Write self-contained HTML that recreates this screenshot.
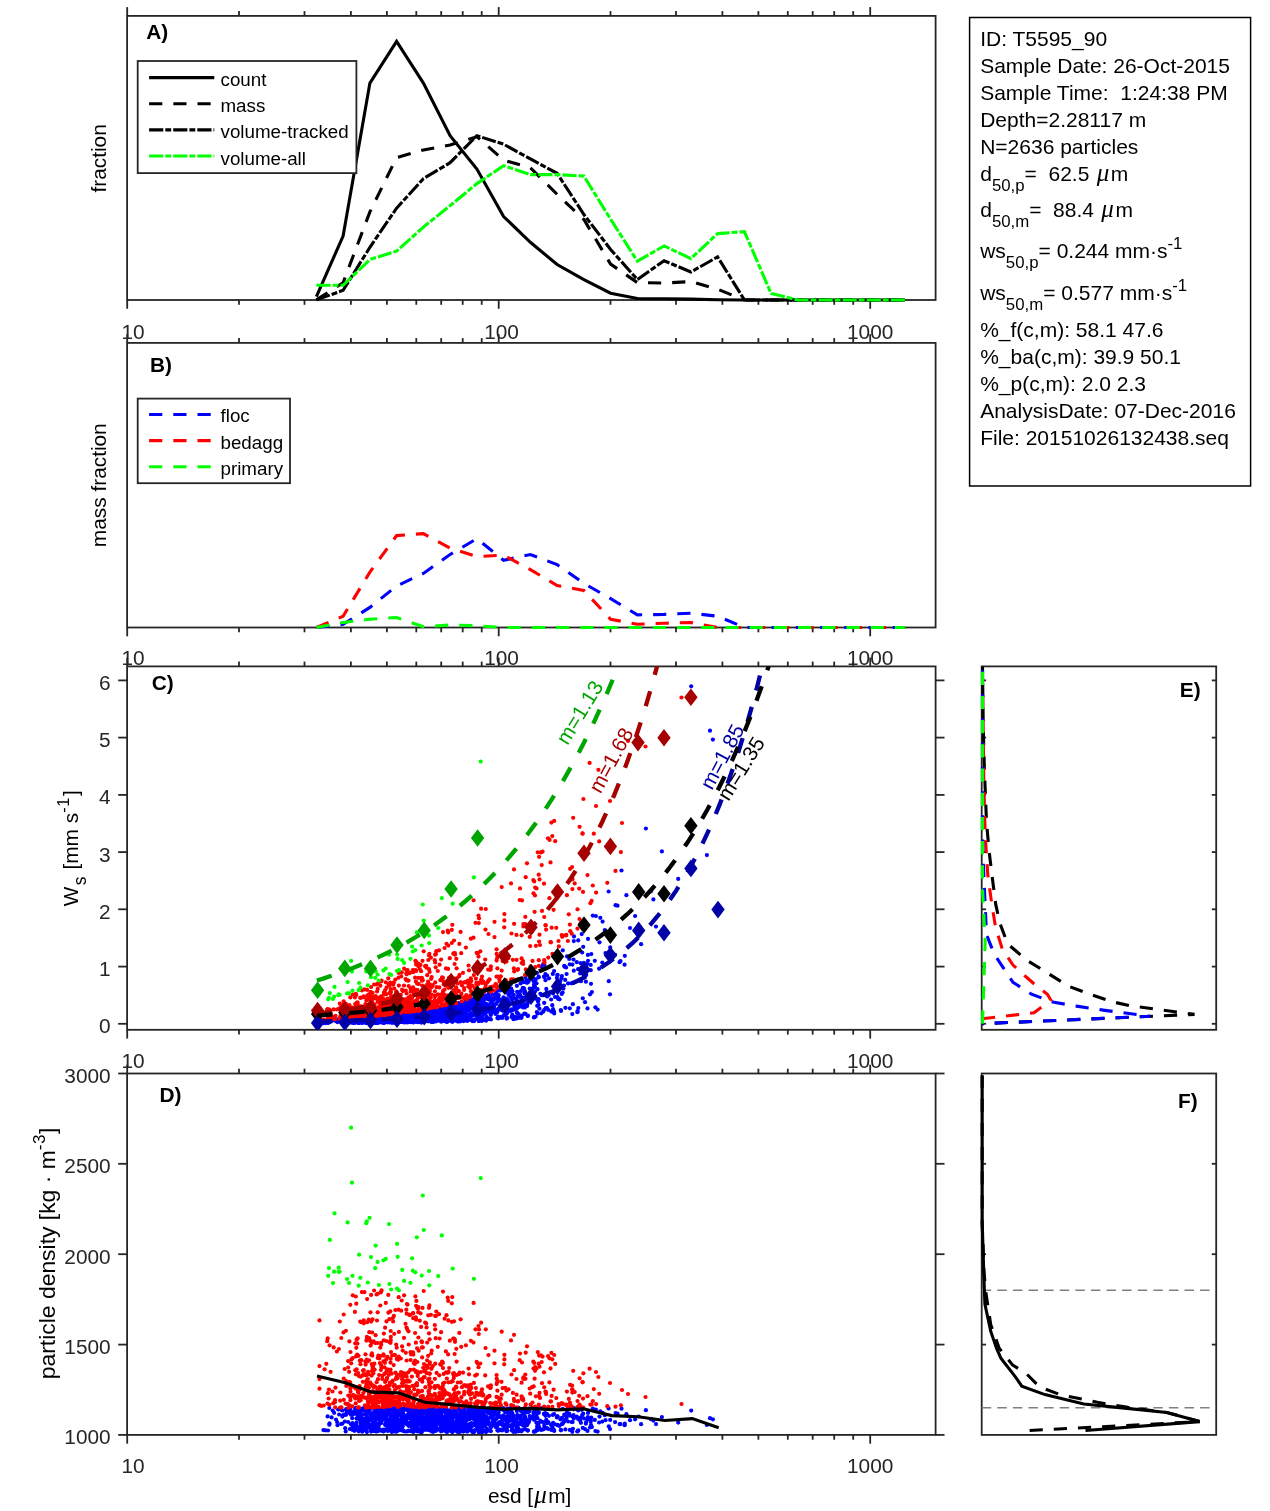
<!DOCTYPE html>
<html lang="en">
<head>
<meta charset="utf-8">
<title>Particle settling analysis T5595_90</title>
<style>
html,body{margin:0;padding:0;background:#fff;}
body{width:1270px;height:1511px;overflow:hidden;font-family:"Liberation Sans",sans-serif;}
svg{display:block;}
svg text{white-space:pre;}
</style>
</head>
<body>
<svg width="1270" height="1511" viewBox="0 0 1270 1511" font-family="'Liberation Sans', sans-serif">
<rect width="1270" height="1511" fill="#fff"/>
<defs>
<clipPath id="cA"><rect x="127.1" y="15.9" width="808.5" height="286.1"/></clipPath>
<clipPath id="cB"><rect x="127.1" y="342.9" width="808.5" height="286.6"/></clipPath>
<clipPath id="cC"><rect x="127.1" y="666.4" width="808.5" height="363.4"/></clipPath>
<clipPath id="cD"><rect x="127.1" y="1073.5" width="808.5" height="361.4"/></clipPath>
<clipPath id="cE"><rect x="979.7" y="666.4" width="236.5" height="363.4"/></clipPath>
<clipPath id="cF"><rect x="979.7" y="1073.5" width="236.5" height="361.4"/></clipPath>
</defs>
<g id="panelA">
<text x="133" y="339" font-size="20.83" text-anchor="middle" fill="#262626">10</text>
<text x="501.6" y="339" font-size="20.83" text-anchor="middle" fill="#262626">100</text>
<text x="870.2" y="339" font-size="20.83" text-anchor="middle" fill="#262626">1000</text>
<rect x="127.1" y="15.9" width="808.5" height="284.1" fill="white" stroke="#262626" stroke-width="1.8"/>
<line x1="127.2" y1="15.9" x2="127.2" y2="7.1" stroke="#262626" stroke-width="1.8"/>
<line x1="239" y1="15.9" x2="239" y2="11.1" stroke="#262626" stroke-width="1.8"/>
<line x1="304.5" y1="15.9" x2="304.5" y2="11.1" stroke="#262626" stroke-width="1.8"/>
<line x1="350.9" y1="15.9" x2="350.9" y2="11.1" stroke="#262626" stroke-width="1.8"/>
<line x1="386.9" y1="15.9" x2="386.9" y2="11.1" stroke="#262626" stroke-width="1.8"/>
<line x1="416.3" y1="15.9" x2="416.3" y2="11.1" stroke="#262626" stroke-width="1.8"/>
<line x1="441.2" y1="15.9" x2="441.2" y2="11.1" stroke="#262626" stroke-width="1.8"/>
<line x1="462.7" y1="15.9" x2="462.7" y2="11.1" stroke="#262626" stroke-width="1.8"/>
<line x1="481.7" y1="15.9" x2="481.7" y2="11.1" stroke="#262626" stroke-width="1.8"/>
<line x1="498.7" y1="15.9" x2="498.7" y2="7.1" stroke="#262626" stroke-width="1.8"/>
<line x1="610.5" y1="15.9" x2="610.5" y2="11.1" stroke="#262626" stroke-width="1.8"/>
<line x1="676" y1="15.9" x2="676" y2="11.1" stroke="#262626" stroke-width="1.8"/>
<line x1="722.4" y1="15.9" x2="722.4" y2="11.1" stroke="#262626" stroke-width="1.8"/>
<line x1="758.4" y1="15.9" x2="758.4" y2="11.1" stroke="#262626" stroke-width="1.8"/>
<line x1="787.8" y1="15.9" x2="787.8" y2="11.1" stroke="#262626" stroke-width="1.8"/>
<line x1="812.7" y1="15.9" x2="812.7" y2="11.1" stroke="#262626" stroke-width="1.8"/>
<line x1="834.2" y1="15.9" x2="834.2" y2="11.1" stroke="#262626" stroke-width="1.8"/>
<line x1="853.2" y1="15.9" x2="853.2" y2="11.1" stroke="#262626" stroke-width="1.8"/>
<line x1="870.2" y1="15.9" x2="870.2" y2="7.1" stroke="#262626" stroke-width="1.8"/>
<line x1="127.2" y1="300" x2="127.2" y2="308.8" stroke="#262626" stroke-width="1.8"/>
<line x1="239" y1="300" x2="239" y2="304.8" stroke="#262626" stroke-width="1.8"/>
<line x1="304.5" y1="300" x2="304.5" y2="304.8" stroke="#262626" stroke-width="1.8"/>
<line x1="350.9" y1="300" x2="350.9" y2="304.8" stroke="#262626" stroke-width="1.8"/>
<line x1="386.9" y1="300" x2="386.9" y2="304.8" stroke="#262626" stroke-width="1.8"/>
<line x1="416.3" y1="300" x2="416.3" y2="304.8" stroke="#262626" stroke-width="1.8"/>
<line x1="441.2" y1="300" x2="441.2" y2="304.8" stroke="#262626" stroke-width="1.8"/>
<line x1="462.7" y1="300" x2="462.7" y2="304.8" stroke="#262626" stroke-width="1.8"/>
<line x1="481.7" y1="300" x2="481.7" y2="304.8" stroke="#262626" stroke-width="1.8"/>
<line x1="498.7" y1="300" x2="498.7" y2="308.8" stroke="#262626" stroke-width="1.8"/>
<line x1="610.5" y1="300" x2="610.5" y2="304.8" stroke="#262626" stroke-width="1.8"/>
<line x1="676" y1="300" x2="676" y2="304.8" stroke="#262626" stroke-width="1.8"/>
<line x1="722.4" y1="300" x2="722.4" y2="304.8" stroke="#262626" stroke-width="1.8"/>
<line x1="758.4" y1="300" x2="758.4" y2="304.8" stroke="#262626" stroke-width="1.8"/>
<line x1="787.8" y1="300" x2="787.8" y2="304.8" stroke="#262626" stroke-width="1.8"/>
<line x1="812.7" y1="300" x2="812.7" y2="304.8" stroke="#262626" stroke-width="1.8"/>
<line x1="834.2" y1="300" x2="834.2" y2="304.8" stroke="#262626" stroke-width="1.8"/>
<line x1="853.2" y1="300" x2="853.2" y2="304.8" stroke="#262626" stroke-width="1.8"/>
<line x1="870.2" y1="300" x2="870.2" y2="308.8" stroke="#262626" stroke-width="1.8"/>
<g clip-path="url(#cA)">
<polyline points="316.4,296.6 343.1,236 369.9,83.1 396.6,41.4 423.4,83.1 450.1,135.7 476.9,169 503.6,216.5 530.4,242.3 557.1,264.5 583.9,279.6 610.6,293.2 637.4,298.5 664.1,298.7 690.9,299.1 717.6,299.7 744.4,300 771.1,300 797.9,300 824.6,300 851.4,300 878.1,300 904.9,300" fill="none" stroke="#000" stroke-width="3.1" stroke-linejoin="miter"/>
<polyline points="316.4,299.9 343.1,282.7 369.9,211.9 396.6,157.6 423.4,150 450.1,145 476.9,136.7 503.6,160.2 530.4,167.8 557.1,194.3 583.9,219.5 610.6,264.1 637.4,282.6 664.1,283.1 690.9,281.6 717.6,289.2 744.4,300 771.1,300 797.9,300 824.6,300 851.4,300 878.1,300 904.9,300" fill="none" stroke="#000" stroke-width="3.1" stroke-dasharray="13.2 11" stroke-linejoin="miter"/>
<polyline points="316.4,299.9 343.1,290.3 369.9,247.3 396.6,208.2 423.4,178.6 450.1,162.7 476.9,135.7 503.6,144.2 530.4,158.9 557.1,173.3 583.9,214.5 610.6,249.5 637.4,279.5 664.1,260.7 690.9,272 717.6,256.9 744.4,300 771.1,300 797.9,300 824.6,300 851.4,300 878.1,300 904.9,300" fill="none" stroke="#000" stroke-width="3.1" stroke-dasharray="14.2 2 5.9 2" stroke-linejoin="miter"/>
<polyline points="316.4,285.3 343.1,285.3 369.9,259.5 396.6,251.1 423.4,227.1 450.1,205.6 476.9,183.6 503.6,165.7 530.4,174.6 557.1,174.6 583.9,176.1 610.6,219.2 637.4,261.2 664.1,245.9 690.9,258.6 717.6,233.6 744.4,231.6 771.1,293.5 797.9,300 824.6,300 851.4,300 878.1,300 904.9,300" fill="none" stroke="#00ff00" stroke-width="3.1" stroke-dasharray="14.2 2 5.9 2" stroke-linejoin="miter"/>
</g>
<text x="146.3" y="39.2" font-size="20.83" text-anchor="start" fill="#000" font-weight="bold">A)</text>
<text x="106.1" y="158.4" font-size="20.83" text-anchor="middle" fill="#000" transform="rotate(-90 106.1 158.4)">fraction</text>
<rect x="137.7" y="61" width="218.7" height="112.1" fill="#fff" stroke="#262626" stroke-width="1.8"/>
<line x1="149.1" y1="77.6" x2="214.3" y2="77.6" stroke="#000" stroke-width="3.1"/>
<text x="220.5" y="86.1" font-size="18.75" text-anchor="start" fill="#000">count</text>
<line x1="149.1" y1="103.8" x2="214.3" y2="103.8" stroke="#000" stroke-width="3.1" stroke-dasharray="13.2 11"/>
<text x="220.5" y="112.2" font-size="18.75" text-anchor="start" fill="#000">mass</text>
<line x1="149.1" y1="129.9" x2="214.3" y2="129.9" stroke="#000" stroke-width="3.1" stroke-dasharray="14.2 2 5.9 2"/>
<text x="220.5" y="138.4" font-size="18.75" text-anchor="start" fill="#000">volume-tracked</text>
<line x1="149.1" y1="156" x2="214.3" y2="156" stroke="#00ff00" stroke-width="3.1" stroke-dasharray="14.2 2 5.9 2"/>
<text x="220.5" y="164.5" font-size="18.75" text-anchor="start" fill="#000">volume-all</text>
</g>
<g id="panelB">
<rect x="127.1" y="342.9" width="808.5" height="284.6" fill="none" stroke="#262626" stroke-width="1.8"/>
<line x1="127.2" y1="342.9" x2="127.2" y2="334.1" stroke="#262626" stroke-width="1.8"/>
<line x1="239" y1="342.9" x2="239" y2="338.1" stroke="#262626" stroke-width="1.8"/>
<line x1="304.5" y1="342.9" x2="304.5" y2="338.1" stroke="#262626" stroke-width="1.8"/>
<line x1="350.9" y1="342.9" x2="350.9" y2="338.1" stroke="#262626" stroke-width="1.8"/>
<line x1="386.9" y1="342.9" x2="386.9" y2="338.1" stroke="#262626" stroke-width="1.8"/>
<line x1="416.3" y1="342.9" x2="416.3" y2="338.1" stroke="#262626" stroke-width="1.8"/>
<line x1="441.2" y1="342.9" x2="441.2" y2="338.1" stroke="#262626" stroke-width="1.8"/>
<line x1="462.7" y1="342.9" x2="462.7" y2="338.1" stroke="#262626" stroke-width="1.8"/>
<line x1="481.7" y1="342.9" x2="481.7" y2="338.1" stroke="#262626" stroke-width="1.8"/>
<line x1="498.7" y1="342.9" x2="498.7" y2="334.1" stroke="#262626" stroke-width="1.8"/>
<line x1="610.5" y1="342.9" x2="610.5" y2="338.1" stroke="#262626" stroke-width="1.8"/>
<line x1="676" y1="342.9" x2="676" y2="338.1" stroke="#262626" stroke-width="1.8"/>
<line x1="722.4" y1="342.9" x2="722.4" y2="338.1" stroke="#262626" stroke-width="1.8"/>
<line x1="758.4" y1="342.9" x2="758.4" y2="338.1" stroke="#262626" stroke-width="1.8"/>
<line x1="787.8" y1="342.9" x2="787.8" y2="338.1" stroke="#262626" stroke-width="1.8"/>
<line x1="812.7" y1="342.9" x2="812.7" y2="338.1" stroke="#262626" stroke-width="1.8"/>
<line x1="834.2" y1="342.9" x2="834.2" y2="338.1" stroke="#262626" stroke-width="1.8"/>
<line x1="853.2" y1="342.9" x2="853.2" y2="338.1" stroke="#262626" stroke-width="1.8"/>
<line x1="870.2" y1="342.9" x2="870.2" y2="334.1" stroke="#262626" stroke-width="1.8"/>
<line x1="127.2" y1="627.5" x2="127.2" y2="636.3" stroke="#262626" stroke-width="1.8"/>
<line x1="239" y1="627.5" x2="239" y2="632.3" stroke="#262626" stroke-width="1.8"/>
<line x1="304.5" y1="627.5" x2="304.5" y2="632.3" stroke="#262626" stroke-width="1.8"/>
<line x1="350.9" y1="627.5" x2="350.9" y2="632.3" stroke="#262626" stroke-width="1.8"/>
<line x1="386.9" y1="627.5" x2="386.9" y2="632.3" stroke="#262626" stroke-width="1.8"/>
<line x1="416.3" y1="627.5" x2="416.3" y2="632.3" stroke="#262626" stroke-width="1.8"/>
<line x1="441.2" y1="627.5" x2="441.2" y2="632.3" stroke="#262626" stroke-width="1.8"/>
<line x1="462.7" y1="627.5" x2="462.7" y2="632.3" stroke="#262626" stroke-width="1.8"/>
<line x1="481.7" y1="627.5" x2="481.7" y2="632.3" stroke="#262626" stroke-width="1.8"/>
<line x1="498.7" y1="627.5" x2="498.7" y2="636.3" stroke="#262626" stroke-width="1.8"/>
<line x1="610.5" y1="627.5" x2="610.5" y2="632.3" stroke="#262626" stroke-width="1.8"/>
<line x1="676" y1="627.5" x2="676" y2="632.3" stroke="#262626" stroke-width="1.8"/>
<line x1="722.4" y1="627.5" x2="722.4" y2="632.3" stroke="#262626" stroke-width="1.8"/>
<line x1="758.4" y1="627.5" x2="758.4" y2="632.3" stroke="#262626" stroke-width="1.8"/>
<line x1="787.8" y1="627.5" x2="787.8" y2="632.3" stroke="#262626" stroke-width="1.8"/>
<line x1="812.7" y1="627.5" x2="812.7" y2="632.3" stroke="#262626" stroke-width="1.8"/>
<line x1="834.2" y1="627.5" x2="834.2" y2="632.3" stroke="#262626" stroke-width="1.8"/>
<line x1="853.2" y1="627.5" x2="853.2" y2="632.3" stroke="#262626" stroke-width="1.8"/>
<line x1="870.2" y1="627.5" x2="870.2" y2="636.3" stroke="#262626" stroke-width="1.8"/>
<text x="133" y="665.3" font-size="20.83" text-anchor="middle" fill="#262626">10</text>
<text x="501.6" y="665.3" font-size="20.83" text-anchor="middle" fill="#262626">100</text>
<text x="870.2" y="665.3" font-size="20.83" text-anchor="middle" fill="#262626">1000</text>
<g clip-path="url(#cB)">
<polyline points="316.4,627.5 343.1,624.3 369.9,607.4 396.6,586 423.4,573.4 450.1,554.5 476.9,538.6 503.6,560.3 530.4,554.5 557.1,564.6 583.9,583.4 610.6,598.6 637.4,614.9 664.1,614.4 690.9,613.2 717.6,616.2 744.4,627.5 771.1,627.5 797.9,627.5 824.6,627.5 851.4,627.5 878.1,627.5 904.9,627.5" fill="none" stroke="#0000ff" stroke-width="3.1" stroke-dasharray="13.2 11" stroke-linejoin="miter"/>
<polyline points="316.4,627.5 343.1,616.2 369.9,572.1 396.6,535.6 423.4,533.6 450.1,548.2 476.9,556.5 503.6,555.2 530.4,569.6 557.1,585.5 583.9,590.5 610.6,619.2 637.4,624.3 664.1,623.2 690.9,622.5 717.6,627.5 744.4,627.5 771.1,627.5 797.9,627.5 824.6,627.5 851.4,627.5 878.1,627.5 904.9,627.5" fill="none" stroke="#ff0000" stroke-width="3.1" stroke-dasharray="13.2 11" stroke-linejoin="miter"/>
<polyline points="316.4,627.5 343.1,622.5 369.9,619.2 396.6,617.5 423.4,626.8 450.1,625 476.9,625.8 503.6,627.5 530.4,627.5 557.1,627.5 583.9,627.5 610.6,627.5 637.4,627.5 664.1,627.5 690.9,627.5 717.6,627.5 744.4,627.5 771.1,627.5 797.9,627.5 824.6,627.5 851.4,627.5 878.1,627.5 904.9,627.5" fill="none" stroke="#00ff00" stroke-width="3.1" stroke-dasharray="13.2 11" stroke-linejoin="miter"/>
</g>
<text x="150" y="371.7" font-size="20.83" text-anchor="start" fill="#000" font-weight="bold">B)</text>
<text x="106.1" y="485.2" font-size="20.83" text-anchor="middle" fill="#000" transform="rotate(-90 106.1 485.2)">mass fraction</text>
<rect x="137.7" y="398.6" width="152.3" height="84.6" fill="#fff" stroke="#262626" stroke-width="1.8"/>
<line x1="149.1" y1="414.5" x2="214.3" y2="414.5" stroke="#0000ff" stroke-width="3.1" stroke-dasharray="13.2 11"/>
<text x="220.5" y="422.4" font-size="18.75" text-anchor="start" fill="#000">floc</text>
<line x1="149.1" y1="440.6" x2="214.3" y2="440.6" stroke="#ff0000" stroke-width="3.1" stroke-dasharray="13.2 11"/>
<text x="220.5" y="448.5" font-size="18.75" text-anchor="start" fill="#000">bedagg</text>
<line x1="149.1" y1="466.8" x2="214.3" y2="466.8" stroke="#00ff00" stroke-width="3.1" stroke-dasharray="13.2 11"/>
<text x="220.5" y="474.7" font-size="18.75" text-anchor="start" fill="#000">primary</text>
</g>
<g id="panelC">
<rect x="127.1" y="666.4" width="808.5" height="363.4" fill="none" stroke="#262626" stroke-width="1.8"/>
<line x1="127.2" y1="666.4" x2="127.2" y2="657.6" stroke="#262626" stroke-width="1.8"/>
<line x1="239" y1="666.4" x2="239" y2="661.6" stroke="#262626" stroke-width="1.8"/>
<line x1="304.5" y1="666.4" x2="304.5" y2="661.6" stroke="#262626" stroke-width="1.8"/>
<line x1="350.9" y1="666.4" x2="350.9" y2="661.6" stroke="#262626" stroke-width="1.8"/>
<line x1="386.9" y1="666.4" x2="386.9" y2="661.6" stroke="#262626" stroke-width="1.8"/>
<line x1="416.3" y1="666.4" x2="416.3" y2="661.6" stroke="#262626" stroke-width="1.8"/>
<line x1="441.2" y1="666.4" x2="441.2" y2="661.6" stroke="#262626" stroke-width="1.8"/>
<line x1="462.7" y1="666.4" x2="462.7" y2="661.6" stroke="#262626" stroke-width="1.8"/>
<line x1="481.7" y1="666.4" x2="481.7" y2="661.6" stroke="#262626" stroke-width="1.8"/>
<line x1="498.7" y1="666.4" x2="498.7" y2="657.6" stroke="#262626" stroke-width="1.8"/>
<line x1="610.5" y1="666.4" x2="610.5" y2="661.6" stroke="#262626" stroke-width="1.8"/>
<line x1="676" y1="666.4" x2="676" y2="661.6" stroke="#262626" stroke-width="1.8"/>
<line x1="722.4" y1="666.4" x2="722.4" y2="661.6" stroke="#262626" stroke-width="1.8"/>
<line x1="758.4" y1="666.4" x2="758.4" y2="661.6" stroke="#262626" stroke-width="1.8"/>
<line x1="787.8" y1="666.4" x2="787.8" y2="661.6" stroke="#262626" stroke-width="1.8"/>
<line x1="812.7" y1="666.4" x2="812.7" y2="661.6" stroke="#262626" stroke-width="1.8"/>
<line x1="834.2" y1="666.4" x2="834.2" y2="661.6" stroke="#262626" stroke-width="1.8"/>
<line x1="853.2" y1="666.4" x2="853.2" y2="661.6" stroke="#262626" stroke-width="1.8"/>
<line x1="870.2" y1="666.4" x2="870.2" y2="657.6" stroke="#262626" stroke-width="1.8"/>
<line x1="127.2" y1="1029.8" x2="127.2" y2="1038.6" stroke="#262626" stroke-width="1.8"/>
<line x1="239" y1="1029.8" x2="239" y2="1034.6" stroke="#262626" stroke-width="1.8"/>
<line x1="304.5" y1="1029.8" x2="304.5" y2="1034.6" stroke="#262626" stroke-width="1.8"/>
<line x1="350.9" y1="1029.8" x2="350.9" y2="1034.6" stroke="#262626" stroke-width="1.8"/>
<line x1="386.9" y1="1029.8" x2="386.9" y2="1034.6" stroke="#262626" stroke-width="1.8"/>
<line x1="416.3" y1="1029.8" x2="416.3" y2="1034.6" stroke="#262626" stroke-width="1.8"/>
<line x1="441.2" y1="1029.8" x2="441.2" y2="1034.6" stroke="#262626" stroke-width="1.8"/>
<line x1="462.7" y1="1029.8" x2="462.7" y2="1034.6" stroke="#262626" stroke-width="1.8"/>
<line x1="481.7" y1="1029.8" x2="481.7" y2="1034.6" stroke="#262626" stroke-width="1.8"/>
<line x1="498.7" y1="1029.8" x2="498.7" y2="1038.6" stroke="#262626" stroke-width="1.8"/>
<line x1="610.5" y1="1029.8" x2="610.5" y2="1034.6" stroke="#262626" stroke-width="1.8"/>
<line x1="676" y1="1029.8" x2="676" y2="1034.6" stroke="#262626" stroke-width="1.8"/>
<line x1="722.4" y1="1029.8" x2="722.4" y2="1034.6" stroke="#262626" stroke-width="1.8"/>
<line x1="758.4" y1="1029.8" x2="758.4" y2="1034.6" stroke="#262626" stroke-width="1.8"/>
<line x1="787.8" y1="1029.8" x2="787.8" y2="1034.6" stroke="#262626" stroke-width="1.8"/>
<line x1="812.7" y1="1029.8" x2="812.7" y2="1034.6" stroke="#262626" stroke-width="1.8"/>
<line x1="834.2" y1="1029.8" x2="834.2" y2="1034.6" stroke="#262626" stroke-width="1.8"/>
<line x1="853.2" y1="1029.8" x2="853.2" y2="1034.6" stroke="#262626" stroke-width="1.8"/>
<line x1="870.2" y1="1029.8" x2="870.2" y2="1038.6" stroke="#262626" stroke-width="1.8"/>
<text x="133" y="1067.6" font-size="20.83" text-anchor="middle" fill="#262626">10</text>
<text x="501.6" y="1067.6" font-size="20.83" text-anchor="middle" fill="#262626">100</text>
<text x="870.2" y="1067.6" font-size="20.83" text-anchor="middle" fill="#262626">1000</text>
<line x1="127.1" y1="1023.8" x2="118.2" y2="1023.8" stroke="#262626" stroke-width="1.8"/>
<line x1="935.6" y1="1023.8" x2="944.5" y2="1023.8" stroke="#262626" stroke-width="1.8"/>
<text x="110.7" y="1033.3" font-size="20.83" text-anchor="end" fill="#262626">0</text>
<line x1="127.1" y1="966.6" x2="118.2" y2="966.6" stroke="#262626" stroke-width="1.8"/>
<line x1="935.6" y1="966.6" x2="944.5" y2="966.6" stroke="#262626" stroke-width="1.8"/>
<text x="110.7" y="976.1" font-size="20.83" text-anchor="end" fill="#262626">1</text>
<line x1="127.1" y1="909.3" x2="118.2" y2="909.3" stroke="#262626" stroke-width="1.8"/>
<line x1="935.6" y1="909.3" x2="944.5" y2="909.3" stroke="#262626" stroke-width="1.8"/>
<text x="110.7" y="918.8" font-size="20.83" text-anchor="end" fill="#262626">2</text>
<line x1="127.1" y1="852.1" x2="118.2" y2="852.1" stroke="#262626" stroke-width="1.8"/>
<line x1="935.6" y1="852.1" x2="944.5" y2="852.1" stroke="#262626" stroke-width="1.8"/>
<text x="110.7" y="861.6" font-size="20.83" text-anchor="end" fill="#262626">3</text>
<line x1="127.1" y1="794.9" x2="118.2" y2="794.9" stroke="#262626" stroke-width="1.8"/>
<line x1="935.6" y1="794.9" x2="944.5" y2="794.9" stroke="#262626" stroke-width="1.8"/>
<text x="110.7" y="804.4" font-size="20.83" text-anchor="end" fill="#262626">4</text>
<line x1="127.1" y1="737.6" x2="118.2" y2="737.6" stroke="#262626" stroke-width="1.8"/>
<line x1="935.6" y1="737.6" x2="944.5" y2="737.6" stroke="#262626" stroke-width="1.8"/>
<text x="110.7" y="747.1" font-size="20.83" text-anchor="end" fill="#262626">5</text>
<line x1="127.1" y1="680.4" x2="118.2" y2="680.4" stroke="#262626" stroke-width="1.8"/>
<line x1="935.6" y1="680.4" x2="944.5" y2="680.4" stroke="#262626" stroke-width="1.8"/>
<text x="110.7" y="689.9" font-size="20.83" text-anchor="end" fill="#262626">6</text>
<g clip-path="url(#cC)">
<g fill="#0000ff">
<circle cx="354.6" cy="1018.7" r="2.1"/><circle cx="388.7" cy="1021.5" r="2.1"/><circle cx="544.2" cy="1002.9" r="2.1"/><circle cx="461.6" cy="1006.2" r="2.1"/><circle cx="383.3" cy="1022.6" r="2.1"/><circle cx="420.4" cy="1021.3" r="2.1"/><circle cx="393.7" cy="1022" r="2.1"/><circle cx="452.3" cy="1021.8" r="2.1"/><circle cx="438.1" cy="1012.1" r="2.1"/><circle cx="430.9" cy="1018.5" r="2.1"/><circle cx="433.3" cy="1017.3" r="2.1"/><circle cx="413.2" cy="1021.2" r="2.1"/><circle cx="505.4" cy="1003" r="2.1"/><circle cx="529.6" cy="979.3" r="2.1"/><circle cx="371.1" cy="1022.9" r="2.1"/><circle cx="422.8" cy="1021" r="2.1"/><circle cx="352.2" cy="1019.6" r="2.1"/><circle cx="438.6" cy="1015.8" r="2.1"/><circle cx="367.8" cy="1020.8" r="2.1"/><circle cx="529.7" cy="988.6" r="2.1"/><circle cx="407.4" cy="1018.8" r="2.1"/><circle cx="346.1" cy="1018.9" r="2.1"/><circle cx="391" cy="1018.6" r="2.1"/><circle cx="483.4" cy="1012.5" r="2.1"/><circle cx="401" cy="1013.8" r="2.1"/><circle cx="336" cy="1021.2" r="2.1"/><circle cx="372.2" cy="1021.5" r="2.1"/><circle cx="656" cy="926.6" r="2.1"/><circle cx="395" cy="1015.6" r="2.1"/><circle cx="365.6" cy="1020.1" r="2.1"/><circle cx="370.7" cy="1021.4" r="2.1"/><circle cx="485.4" cy="1010" r="2.1"/><circle cx="479.6" cy="998.3" r="2.1"/><circle cx="359.4" cy="1020" r="2.1"/><circle cx="359.6" cy="1019.5" r="2.1"/><circle cx="441.9" cy="1016.4" r="2.1"/><circle cx="538" cy="1001.5" r="2.1"/><circle cx="351.9" cy="1022.7" r="2.1"/><circle cx="503.5" cy="997.4" r="2.1"/><circle cx="352.4" cy="1022.2" r="2.1"/><circle cx="387.8" cy="1019" r="2.1"/><circle cx="391" cy="1017.2" r="2.1"/><circle cx="423.5" cy="1015.8" r="2.1"/><circle cx="492.6" cy="1011.8" r="2.1"/><circle cx="393.6" cy="1015" r="2.1"/><circle cx="394.2" cy="1016.8" r="2.1"/><circle cx="391.4" cy="1019.2" r="2.1"/><circle cx="599.5" cy="942.3" r="2.1"/><circle cx="554.1" cy="971" r="2.1"/><circle cx="382.9" cy="1017.6" r="2.1"/><circle cx="425.8" cy="1014.6" r="2.1"/><circle cx="411.1" cy="1017.1" r="2.1"/><circle cx="428.9" cy="1010" r="2.1"/><circle cx="496.3" cy="1004" r="2.1"/><circle cx="434.5" cy="1018.2" r="2.1"/><circle cx="456.5" cy="1013.1" r="2.1"/><circle cx="481.7" cy="1011.4" r="2.1"/><circle cx="494.1" cy="1008.9" r="2.1"/><circle cx="447.9" cy="1016.9" r="2.1"/><circle cx="482.6" cy="997.9" r="2.1"/><circle cx="538.7" cy="999.2" r="2.1"/><circle cx="496.8" cy="1010.4" r="2.1"/><circle cx="345.7" cy="1023.1" r="2.1"/><circle cx="412.5" cy="1016.9" r="2.1"/><circle cx="366.6" cy="1019.6" r="2.1"/><circle cx="706.9" cy="855.1" r="2.1"/><circle cx="370.5" cy="1022.3" r="2.1"/><circle cx="405.8" cy="1018.2" r="2.1"/><circle cx="390" cy="1015.7" r="2.1"/><circle cx="450.8" cy="1014.3" r="2.1"/><circle cx="422.5" cy="1011.5" r="2.1"/><circle cx="383.7" cy="1018.8" r="2.1"/><circle cx="436.3" cy="1016.2" r="2.1"/><circle cx="332.7" cy="1019.8" r="2.1"/><circle cx="426.1" cy="1015.6" r="2.1"/><circle cx="463.6" cy="1015.5" r="2.1"/><circle cx="413.2" cy="1017.7" r="2.1"/><circle cx="352.5" cy="1021.3" r="2.1"/><circle cx="389" cy="1020.1" r="2.1"/><circle cx="508.3" cy="986.1" r="2.1"/><circle cx="448.4" cy="1012" r="2.1"/><circle cx="513.7" cy="1017" r="2.1"/><circle cx="490.9" cy="1015" r="2.1"/><circle cx="373" cy="1022" r="2.1"/><circle cx="499.3" cy="1007.7" r="2.1"/><circle cx="464" cy="1006" r="2.1"/><circle cx="356.5" cy="1021.1" r="2.1"/><circle cx="353.8" cy="1022.1" r="2.1"/><circle cx="490.9" cy="1019.4" r="2.1"/><circle cx="497.2" cy="995.4" r="2.1"/><circle cx="487.7" cy="1007.4" r="2.1"/><circle cx="468.5" cy="1019.8" r="2.1"/><circle cx="416.7" cy="1015.4" r="2.1"/><circle cx="424.7" cy="1011.2" r="2.1"/><circle cx="392.6" cy="1016.4" r="2.1"/><circle cx="453.2" cy="1005.5" r="2.1"/><circle cx="397" cy="1021.1" r="2.1"/><circle cx="513.7" cy="994.8" r="2.1"/><circle cx="436.9" cy="1017.1" r="2.1"/><circle cx="420.1" cy="1018" r="2.1"/><circle cx="436" cy="1019.1" r="2.1"/><circle cx="378.3" cy="1022.2" r="2.1"/><circle cx="602.6" cy="921.6" r="2.1"/><circle cx="369.8" cy="1020" r="2.1"/><circle cx="355.3" cy="1018" r="2.1"/><circle cx="536.4" cy="998.9" r="2.1"/><circle cx="478" cy="997.3" r="2.1"/><circle cx="401.1" cy="1014.2" r="2.1"/><circle cx="486.4" cy="1005.8" r="2.1"/><circle cx="408.6" cy="1022.1" r="2.1"/><circle cx="367.5" cy="1019.9" r="2.1"/><circle cx="523" cy="1007.4" r="2.1"/><circle cx="483.1" cy="998.7" r="2.1"/><circle cx="458.6" cy="1014.2" r="2.1"/><circle cx="475.7" cy="1013.2" r="2.1"/><circle cx="426.8" cy="1010.1" r="2.1"/><circle cx="454.6" cy="1010.2" r="2.1"/><circle cx="372.8" cy="1020.4" r="2.1"/><circle cx="430.3" cy="1011.4" r="2.1"/><circle cx="498.1" cy="989.7" r="2.1"/><circle cx="468.7" cy="1002.8" r="2.1"/><circle cx="497.4" cy="1018" r="2.1"/><circle cx="433.2" cy="1010.6" r="2.1"/><circle cx="535" cy="991.4" r="2.1"/><circle cx="428.3" cy="1015.6" r="2.1"/><circle cx="436.8" cy="1010.1" r="2.1"/><circle cx="523.4" cy="988" r="2.1"/><circle cx="367.9" cy="1018.3" r="2.1"/><circle cx="435.3" cy="1019.2" r="2.1"/><circle cx="415.3" cy="1015.4" r="2.1"/><circle cx="384.3" cy="1022.3" r="2.1"/><circle cx="410.1" cy="1019" r="2.1"/><circle cx="415.3" cy="1014.8" r="2.1"/><circle cx="620.5" cy="961.1" r="2.1"/><circle cx="409.1" cy="1015.4" r="2.1"/><circle cx="360.2" cy="1019.9" r="2.1"/><circle cx="429.5" cy="1018.9" r="2.1"/><circle cx="475.6" cy="999.5" r="2.1"/><circle cx="404.6" cy="1013.1" r="2.1"/><circle cx="396.7" cy="1016.8" r="2.1"/><circle cx="537.2" cy="1005.8" r="2.1"/><circle cx="454.4" cy="1015.6" r="2.1"/><circle cx="413.3" cy="1021.5" r="2.1"/><circle cx="479.7" cy="1020.8" r="2.1"/><circle cx="586.2" cy="975.1" r="2.1"/><circle cx="383.3" cy="1015.9" r="2.1"/><circle cx="384.3" cy="1015.9" r="2.1"/><circle cx="418.7" cy="1021.7" r="2.1"/><circle cx="376.2" cy="1019.3" r="2.1"/><circle cx="524.8" cy="997.7" r="2.1"/><circle cx="424.8" cy="1010.1" r="2.1"/><circle cx="398.4" cy="1018.3" r="2.1"/><circle cx="371.6" cy="1018.1" r="2.1"/><circle cx="457.3" cy="1020.5" r="2.1"/><circle cx="507.6" cy="999" r="2.1"/><circle cx="532.7" cy="988.3" r="2.1"/><circle cx="415.4" cy="1015.8" r="2.1"/><circle cx="520.6" cy="1001.5" r="2.1"/><circle cx="451.1" cy="1020.8" r="2.1"/><circle cx="461" cy="1002.8" r="2.1"/><circle cx="392.8" cy="1015" r="2.1"/><circle cx="395.2" cy="1019.7" r="2.1"/><circle cx="475.6" cy="1011.2" r="2.1"/><circle cx="416.8" cy="1018.3" r="2.1"/><circle cx="481.4" cy="1020.7" r="2.1"/><circle cx="436.5" cy="1009.5" r="2.1"/><circle cx="583.9" cy="962.8" r="2.1"/><circle cx="389.8" cy="1022.2" r="2.1"/><circle cx="561.7" cy="993.9" r="2.1"/><circle cx="427.2" cy="1018.2" r="2.1"/><circle cx="390.1" cy="1015.3" r="2.1"/><circle cx="461.8" cy="1015.6" r="2.1"/><circle cx="415.2" cy="1017.9" r="2.1"/><circle cx="492.1" cy="1011.6" r="2.1"/><circle cx="413.2" cy="1022.5" r="2.1"/><circle cx="427.3" cy="1013.8" r="2.1"/><circle cx="417.7" cy="1014.4" r="2.1"/><circle cx="338.2" cy="1019.4" r="2.1"/><circle cx="486.9" cy="997.3" r="2.1"/><circle cx="405.7" cy="1017.8" r="2.1"/><circle cx="410.9" cy="1018.5" r="2.1"/><circle cx="432.9" cy="1012" r="2.1"/><circle cx="410" cy="1019.8" r="2.1"/><circle cx="446.1" cy="1009.5" r="2.1"/><circle cx="552.3" cy="1005.2" r="2.1"/><circle cx="479" cy="1012.3" r="2.1"/><circle cx="469.5" cy="1005.9" r="2.1"/><circle cx="419.9" cy="1022.2" r="2.1"/><circle cx="378.8" cy="1021.9" r="2.1"/><circle cx="394" cy="1020.2" r="2.1"/><circle cx="452.9" cy="1009.6" r="2.1"/><circle cx="516.9" cy="1008.4" r="2.1"/><circle cx="392.6" cy="1021.9" r="2.1"/><circle cx="455.8" cy="1009.3" r="2.1"/><circle cx="376.4" cy="1017.1" r="2.1"/><circle cx="393.7" cy="1018.8" r="2.1"/><circle cx="461.5" cy="1017" r="2.1"/><circle cx="396.7" cy="1019.4" r="2.1"/><circle cx="452" cy="1020.4" r="2.1"/><circle cx="397.2" cy="1020.8" r="2.1"/><circle cx="511.2" cy="988.7" r="2.1"/><circle cx="462.9" cy="1011.1" r="2.1"/><circle cx="511.7" cy="1016.9" r="2.1"/><circle cx="524.8" cy="993.3" r="2.1"/><circle cx="405.8" cy="1018.6" r="2.1"/><circle cx="481.5" cy="1008.3" r="2.1"/><circle cx="414.9" cy="1012.5" r="2.1"/><circle cx="458" cy="1007.6" r="2.1"/><circle cx="396.9" cy="1020.6" r="2.1"/><circle cx="482" cy="1000.7" r="2.1"/><circle cx="461.5" cy="1010.8" r="2.1"/><circle cx="414.3" cy="1017.9" r="2.1"/><circle cx="323.4" cy="1023.1" r="2.1"/><circle cx="412.7" cy="1017.6" r="2.1"/><circle cx="347" cy="1019.6" r="2.1"/><circle cx="506.5" cy="1018.6" r="2.1"/><circle cx="572.4" cy="964.6" r="2.1"/><circle cx="410.9" cy="1013.1" r="2.1"/><circle cx="429.6" cy="1014.7" r="2.1"/><circle cx="400.9" cy="1013.7" r="2.1"/><circle cx="386.2" cy="1018" r="2.1"/><circle cx="374.9" cy="1017.2" r="2.1"/><circle cx="524.9" cy="1007.4" r="2.1"/><circle cx="386.3" cy="1016.2" r="2.1"/><circle cx="541.3" cy="966.5" r="2.1"/><circle cx="404.8" cy="1018.4" r="2.1"/><circle cx="463.7" cy="1015.5" r="2.1"/><circle cx="441.5" cy="1009.1" r="2.1"/><circle cx="370.1" cy="1021.8" r="2.1"/><circle cx="375.6" cy="1019.8" r="2.1"/><circle cx="463.3" cy="1004.5" r="2.1"/><circle cx="425.2" cy="1012.2" r="2.1"/><circle cx="357.7" cy="1019.3" r="2.1"/><circle cx="541.8" cy="995.2" r="2.1"/><circle cx="476.9" cy="1009.1" r="2.1"/><circle cx="451.5" cy="1017.3" r="2.1"/><circle cx="410.9" cy="1019.4" r="2.1"/><circle cx="470.5" cy="1000.8" r="2.1"/><circle cx="402" cy="1015.9" r="2.1"/><circle cx="473.6" cy="1003.7" r="2.1"/><circle cx="545.5" cy="980.2" r="2.1"/><circle cx="526.3" cy="1005.3" r="2.1"/><circle cx="390.6" cy="1019.1" r="2.1"/><circle cx="554" cy="1011.6" r="2.1"/><circle cx="380.6" cy="1017.4" r="2.1"/><circle cx="493.7" cy="1006.4" r="2.1"/><circle cx="519.1" cy="1006.9" r="2.1"/><circle cx="367.6" cy="1018" r="2.1"/><circle cx="453.6" cy="1009.9" r="2.1"/><circle cx="462.6" cy="1007.4" r="2.1"/><circle cx="362.2" cy="1023" r="2.1"/><circle cx="428.4" cy="1017.7" r="2.1"/><circle cx="572.3" cy="1014.1" r="2.1"/><circle cx="416.5" cy="1017.7" r="2.1"/><circle cx="442.4" cy="1014.3" r="2.1"/><circle cx="433.4" cy="1012.9" r="2.1"/><circle cx="390.1" cy="1018.9" r="2.1"/><circle cx="441.4" cy="1010.5" r="2.1"/><circle cx="401.8" cy="1019.5" r="2.1"/><circle cx="430.9" cy="1021.4" r="2.1"/><circle cx="395.9" cy="1015.8" r="2.1"/><circle cx="394.9" cy="1020.6" r="2.1"/><circle cx="386.4" cy="1020.4" r="2.1"/><circle cx="513.5" cy="1019.2" r="2.1"/><circle cx="465.8" cy="1000.9" r="2.1"/><circle cx="554.2" cy="1013.5" r="2.1"/><circle cx="484.7" cy="1019.3" r="2.1"/><circle cx="485.8" cy="995.5" r="2.1"/><circle cx="418.3" cy="1012.9" r="2.1"/><circle cx="452.3" cy="1013.1" r="2.1"/><circle cx="396.5" cy="1022.6" r="2.1"/><circle cx="434.6" cy="1018" r="2.1"/><circle cx="514.3" cy="1006.9" r="2.1"/><circle cx="624.6" cy="964.7" r="2.1"/><circle cx="521.9" cy="1015.5" r="2.1"/><circle cx="378.5" cy="1018.4" r="2.1"/><circle cx="399.9" cy="1015.5" r="2.1"/><circle cx="339.1" cy="1020.2" r="2.1"/><circle cx="559.5" cy="999.3" r="2.1"/><circle cx="447.6" cy="1013.5" r="2.1"/><circle cx="463.1" cy="1008.8" r="2.1"/><circle cx="489.1" cy="997.7" r="2.1"/><circle cx="410.9" cy="1022.2" r="2.1"/><circle cx="445.9" cy="1018.7" r="2.1"/><circle cx="358.8" cy="1023" r="2.1"/><circle cx="384.6" cy="1022.4" r="2.1"/><circle cx="380" cy="1020.1" r="2.1"/><circle cx="465.5" cy="1012.6" r="2.1"/><circle cx="504.4" cy="1010.4" r="2.1"/><circle cx="346" cy="1019.9" r="2.1"/><circle cx="454" cy="1009.3" r="2.1"/><circle cx="475.4" cy="1004.7" r="2.1"/><circle cx="595.9" cy="916" r="2.1"/><circle cx="547.1" cy="996.4" r="2.1"/><circle cx="409.6" cy="1013.5" r="2.1"/><circle cx="424.7" cy="1019.1" r="2.1"/><circle cx="512.7" cy="1010.1" r="2.1"/><circle cx="348.1" cy="1018.7" r="2.1"/><circle cx="588" cy="938.9" r="2.1"/><circle cx="430.2" cy="1018.5" r="2.1"/><circle cx="498.2" cy="1018.4" r="2.1"/><circle cx="523.1" cy="997.7" r="2.1"/><circle cx="393.7" cy="1016.6" r="2.1"/><circle cx="597.6" cy="1009.6" r="2.1"/><circle cx="427.8" cy="1012.8" r="2.1"/><circle cx="429.2" cy="1020.8" r="2.1"/><circle cx="484.9" cy="1003.5" r="2.1"/><circle cx="453.3" cy="1007.3" r="2.1"/><circle cx="452.3" cy="1012.2" r="2.1"/><circle cx="553" cy="1009.2" r="2.1"/><circle cx="582.8" cy="998.3" r="2.1"/><circle cx="431.5" cy="1015" r="2.1"/><circle cx="363" cy="1017.6" r="2.1"/><circle cx="518.7" cy="1017.7" r="2.1"/><circle cx="534" cy="993.9" r="2.1"/><circle cx="388" cy="1015.1" r="2.1"/><circle cx="468.3" cy="1018.4" r="2.1"/><circle cx="500.1" cy="988.6" r="2.1"/><circle cx="454.8" cy="1017.4" r="2.1"/><circle cx="457.3" cy="1021.3" r="2.1"/><circle cx="569.8" cy="964.3" r="2.1"/><circle cx="363.9" cy="1018.9" r="2.1"/><circle cx="549" cy="978.3" r="2.1"/><circle cx="366.1" cy="1022.8" r="2.1"/><circle cx="433.3" cy="1021.6" r="2.1"/><circle cx="383.6" cy="1015.7" r="2.1"/><circle cx="525.1" cy="992.9" r="2.1"/><circle cx="377.2" cy="1017" r="2.1"/><circle cx="369.6" cy="1016.9" r="2.1"/><circle cx="403.2" cy="1019.2" r="2.1"/><circle cx="555" cy="997" r="2.1"/><circle cx="361.5" cy="1019.8" r="2.1"/><circle cx="498.8" cy="990.5" r="2.1"/><circle cx="522.7" cy="988.2" r="2.1"/><circle cx="359.3" cy="1020.2" r="2.1"/><circle cx="456.3" cy="1009.2" r="2.1"/><circle cx="608.6" cy="891.5" r="2.1"/><circle cx="585" cy="1002.2" r="2.1"/><circle cx="619.6" cy="962.2" r="2.1"/><circle cx="435.5" cy="1008.1" r="2.1"/><circle cx="514.5" cy="1009.1" r="2.1"/><circle cx="405.8" cy="1019.3" r="2.1"/><circle cx="464.6" cy="1008.7" r="2.1"/><circle cx="538.7" cy="977.3" r="2.1"/><circle cx="448" cy="1009.1" r="2.1"/><circle cx="392.4" cy="1018.8" r="2.1"/><circle cx="431.4" cy="1021.8" r="2.1"/><circle cx="342.4" cy="1020.4" r="2.1"/><circle cx="439.1" cy="1016.2" r="2.1"/><circle cx="430.1" cy="1009.5" r="2.1"/><circle cx="392.8" cy="1017.9" r="2.1"/><circle cx="394.6" cy="1018" r="2.1"/><circle cx="383.1" cy="1018.7" r="2.1"/><circle cx="375.2" cy="1017.7" r="2.1"/><circle cx="374.5" cy="1017" r="2.1"/><circle cx="448" cy="1013.7" r="2.1"/><circle cx="397.7" cy="1019.9" r="2.1"/><circle cx="366.7" cy="1021.4" r="2.1"/><circle cx="388.7" cy="1015.8" r="2.1"/><circle cx="427.6" cy="1012.1" r="2.1"/><circle cx="517.7" cy="996.1" r="2.1"/><circle cx="459.6" cy="1009.8" r="2.1"/><circle cx="366.4" cy="1018.2" r="2.1"/><circle cx="416.7" cy="1015" r="2.1"/><circle cx="412.5" cy="1014.6" r="2.1"/><circle cx="375.3" cy="1017.7" r="2.1"/><circle cx="486.6" cy="1011.4" r="2.1"/><circle cx="447.5" cy="1021.3" r="2.1"/><circle cx="512.3" cy="1014.7" r="2.1"/><circle cx="357.2" cy="1022.3" r="2.1"/><circle cx="578.2" cy="940.4" r="2.1"/><circle cx="466" cy="1020" r="2.1"/><circle cx="380.5" cy="1018.6" r="2.1"/><circle cx="449.6" cy="1008.4" r="2.1"/><circle cx="354.1" cy="1021.8" r="2.1"/><circle cx="516.7" cy="1012" r="2.1"/><circle cx="475.8" cy="1003.8" r="2.1"/><circle cx="482.2" cy="995.7" r="2.1"/><circle cx="454.6" cy="1020.4" r="2.1"/><circle cx="377.1" cy="1019" r="2.1"/><circle cx="474.3" cy="1000.4" r="2.1"/><circle cx="432.1" cy="1021.6" r="2.1"/><circle cx="422.5" cy="1016.2" r="2.1"/><circle cx="398.3" cy="1020.2" r="2.1"/><circle cx="391" cy="1017.4" r="2.1"/><circle cx="474.1" cy="1021.1" r="2.1"/><circle cx="422.4" cy="1020.6" r="2.1"/><circle cx="434.8" cy="1016.2" r="2.1"/><circle cx="355" cy="1021.7" r="2.1"/><circle cx="492.6" cy="1003.5" r="2.1"/><circle cx="553.1" cy="993.4" r="2.1"/><circle cx="474.5" cy="1014.4" r="2.1"/><circle cx="397.8" cy="1015.9" r="2.1"/><circle cx="566.6" cy="974" r="2.1"/><circle cx="465.5" cy="1004.4" r="2.1"/><circle cx="458.8" cy="1017.8" r="2.1"/><circle cx="392.3" cy="1015" r="2.1"/><circle cx="442.9" cy="1014" r="2.1"/><circle cx="456.4" cy="1016.2" r="2.1"/><circle cx="417.8" cy="1018.5" r="2.1"/><circle cx="504.3" cy="1009.2" r="2.1"/><circle cx="396.8" cy="1018.8" r="2.1"/><circle cx="524.8" cy="1004.5" r="2.1"/><circle cx="341" cy="1021.8" r="2.1"/><circle cx="398.4" cy="1015.3" r="2.1"/><circle cx="502" cy="1006.2" r="2.1"/><circle cx="464.5" cy="1004.7" r="2.1"/><circle cx="505.5" cy="1002.8" r="2.1"/><circle cx="458.5" cy="1011.1" r="2.1"/><circle cx="467.7" cy="1020" r="2.1"/><circle cx="538.6" cy="976.7" r="2.1"/><circle cx="498.3" cy="998.1" r="2.1"/><circle cx="491.2" cy="1003.3" r="2.1"/><circle cx="410.4" cy="1012.6" r="2.1"/><circle cx="548.7" cy="995.1" r="2.1"/><circle cx="408.9" cy="1020.1" r="2.1"/><circle cx="447.7" cy="1012.2" r="2.1"/><circle cx="488.1" cy="1005.5" r="2.1"/><circle cx="410.7" cy="1022" r="2.1"/><circle cx="467.1" cy="1019" r="2.1"/><circle cx="507.7" cy="1002.7" r="2.1"/><circle cx="459.6" cy="1007.5" r="2.1"/><circle cx="464.6" cy="1014.3" r="2.1"/><circle cx="455.9" cy="1010.2" r="2.1"/><circle cx="450.6" cy="1020.8" r="2.1"/><circle cx="374.9" cy="1019" r="2.1"/><circle cx="451.1" cy="1009.2" r="2.1"/><circle cx="445.3" cy="1016.7" r="2.1"/><circle cx="440.8" cy="1009.9" r="2.1"/><circle cx="502.8" cy="1003.7" r="2.1"/><circle cx="379.7" cy="1019.3" r="2.1"/><circle cx="377.2" cy="1016.7" r="2.1"/><circle cx="479.3" cy="1002.2" r="2.1"/><circle cx="460.9" cy="1016.7" r="2.1"/><circle cx="384.5" cy="1019" r="2.1"/><circle cx="407.1" cy="1015.7" r="2.1"/><circle cx="505.1" cy="1002.3" r="2.1"/><circle cx="362.4" cy="1022.3" r="2.1"/><circle cx="520.6" cy="983.4" r="2.1"/><circle cx="468.7" cy="1005.2" r="2.1"/><circle cx="376.9" cy="1017.7" r="2.1"/><circle cx="528.5" cy="981.8" r="2.1"/><circle cx="440.9" cy="1021.6" r="2.1"/><circle cx="534.4" cy="972.7" r="2.1"/><circle cx="446.6" cy="1017.3" r="2.1"/><circle cx="430.2" cy="1013.3" r="2.1"/><circle cx="444" cy="1012.8" r="2.1"/><circle cx="429.9" cy="1014.2" r="2.1"/><circle cx="399.2" cy="1020.4" r="2.1"/><circle cx="447.7" cy="1009.7" r="2.1"/><circle cx="410.1" cy="1013.4" r="2.1"/><circle cx="415.4" cy="1021.2" r="2.1"/><circle cx="359.1" cy="1019.4" r="2.1"/><circle cx="394.8" cy="1021.6" r="2.1"/><circle cx="377.6" cy="1017.1" r="2.1"/><circle cx="468.9" cy="1014.5" r="2.1"/><circle cx="362.2" cy="1020.1" r="2.1"/><circle cx="374.6" cy="1016.6" r="2.1"/><circle cx="439" cy="1007.9" r="2.1"/><circle cx="560.4" cy="981" r="2.1"/><circle cx="399.6" cy="1015.1" r="2.1"/><circle cx="451.9" cy="1004.5" r="2.1"/><circle cx="400.6" cy="1019.7" r="2.1"/><circle cx="443.6" cy="1008.6" r="2.1"/><circle cx="411.4" cy="1018.2" r="2.1"/><circle cx="388" cy="1020.9" r="2.1"/><circle cx="441.6" cy="1017.1" r="2.1"/><circle cx="461.6" cy="1019.5" r="2.1"/><circle cx="415" cy="1015.1" r="2.1"/><circle cx="361.1" cy="1018.3" r="2.1"/><circle cx="446" cy="1021.6" r="2.1"/><circle cx="386.3" cy="1018.5" r="2.1"/><circle cx="434.8" cy="1017.1" r="2.1"/><circle cx="363.6" cy="1019.9" r="2.1"/><circle cx="434.8" cy="1010" r="2.1"/><circle cx="482.4" cy="1020.6" r="2.1"/><circle cx="385.9" cy="1017.4" r="2.1"/><circle cx="561.9" cy="976.1" r="2.1"/><circle cx="384.4" cy="1022.4" r="2.1"/><circle cx="428.2" cy="1020.6" r="2.1"/><circle cx="417.7" cy="1014.8" r="2.1"/><circle cx="442.8" cy="1014.3" r="2.1"/><circle cx="381.5" cy="1019.7" r="2.1"/><circle cx="346.8" cy="1019.5" r="2.1"/><circle cx="508.9" cy="1010.8" r="2.1"/><circle cx="390.4" cy="1017.4" r="2.1"/><circle cx="443.7" cy="1012.6" r="2.1"/><circle cx="452.8" cy="1021.1" r="2.1"/><circle cx="421.4" cy="1019.2" r="2.1"/><circle cx="359.7" cy="1017.9" r="2.1"/><circle cx="445.7" cy="1015.6" r="2.1"/><circle cx="389.8" cy="1022.3" r="2.1"/><circle cx="398.6" cy="1020.1" r="2.1"/><circle cx="422.5" cy="1020.8" r="2.1"/><circle cx="375.4" cy="1022.7" r="2.1"/><circle cx="535.6" cy="979.4" r="2.1"/><circle cx="552.8" cy="973.9" r="2.1"/><circle cx="450.4" cy="1017.7" r="2.1"/><circle cx="524.4" cy="992.9" r="2.1"/><circle cx="427.4" cy="1011.6" r="2.1"/><circle cx="387.7" cy="1022.5" r="2.1"/><circle cx="479.3" cy="1005.7" r="2.1"/><circle cx="390.4" cy="1021.1" r="2.1"/><circle cx="551.3" cy="1011.6" r="2.1"/><circle cx="638.6" cy="891.1" r="2.1"/><circle cx="385.6" cy="1020.2" r="2.1"/><circle cx="691.2" cy="686.3" r="2.1"/><circle cx="588" cy="960.8" r="2.1"/><circle cx="471.7" cy="1000.5" r="2.1"/><circle cx="402.6" cy="1020.5" r="2.1"/><circle cx="417.6" cy="1018.7" r="2.1"/><circle cx="482.5" cy="1015.3" r="2.1"/><circle cx="535.3" cy="980.1" r="2.1"/><circle cx="420.7" cy="1017.2" r="2.1"/><circle cx="435.5" cy="1013" r="2.1"/><circle cx="483.7" cy="1000.1" r="2.1"/><circle cx="382.9" cy="1016.8" r="2.1"/><circle cx="477.5" cy="1018" r="2.1"/><circle cx="493" cy="1008" r="2.1"/><circle cx="456.5" cy="1009.1" r="2.1"/><circle cx="376.6" cy="1019" r="2.1"/><circle cx="418.2" cy="1018.8" r="2.1"/><circle cx="453.5" cy="1010.8" r="2.1"/><circle cx="357.7" cy="1019.2" r="2.1"/><circle cx="407.3" cy="1013.5" r="2.1"/><circle cx="401.1" cy="1016" r="2.1"/><circle cx="472.2" cy="1000.9" r="2.1"/><circle cx="457.9" cy="1020.8" r="2.1"/><circle cx="382.9" cy="1018" r="2.1"/><circle cx="425.3" cy="1021.3" r="2.1"/><circle cx="386.3" cy="1020.7" r="2.1"/><circle cx="487.6" cy="996" r="2.1"/><circle cx="534" cy="984.7" r="2.1"/><circle cx="495.5" cy="1014" r="2.1"/><circle cx="400.9" cy="1016.1" r="2.1"/><circle cx="458.7" cy="1016.1" r="2.1"/><circle cx="544.1" cy="1010.1" r="2.1"/><circle cx="420" cy="1013.9" r="2.1"/><circle cx="482.3" cy="1008.9" r="2.1"/><circle cx="464.3" cy="1016.9" r="2.1"/><circle cx="394.5" cy="1016.1" r="2.1"/><circle cx="475.6" cy="998" r="2.1"/><circle cx="422.9" cy="1020.9" r="2.1"/><circle cx="386.1" cy="1021.9" r="2.1"/><circle cx="576.8" cy="962.2" r="2.1"/><circle cx="400.8" cy="1013.9" r="2.1"/><circle cx="562.8" cy="950.3" r="2.1"/><circle cx="407.2" cy="1016.2" r="2.1"/><circle cx="518.5" cy="1014.1" r="2.1"/><circle cx="484" cy="1003.6" r="2.1"/><circle cx="481" cy="1006.2" r="2.1"/><circle cx="474" cy="1008.9" r="2.1"/><circle cx="417.5" cy="1022.2" r="2.1"/><circle cx="467" cy="1009.7" r="2.1"/><circle cx="449.8" cy="1020.2" r="2.1"/><circle cx="426.3" cy="1011.4" r="2.1"/><circle cx="489.8" cy="1018.5" r="2.1"/><circle cx="477.9" cy="997.3" r="2.1"/><circle cx="354.6" cy="1022.7" r="2.1"/><circle cx="474" cy="1008.8" r="2.1"/><circle cx="403.4" cy="1022.1" r="2.1"/><circle cx="416.7" cy="1013.1" r="2.1"/><circle cx="421.7" cy="1021.9" r="2.1"/><circle cx="470.1" cy="1007.6" r="2.1"/><circle cx="544.1" cy="976.6" r="2.1"/><circle cx="405.3" cy="1013" r="2.1"/><circle cx="482.2" cy="1017.7" r="2.1"/><circle cx="486.2" cy="1003.8" r="2.1"/><circle cx="447.2" cy="1011.7" r="2.1"/><circle cx="363.6" cy="1017.9" r="2.1"/><circle cx="478.9" cy="1017.8" r="2.1"/><circle cx="499.5" cy="1017.7" r="2.1"/><circle cx="506.6" cy="1012.5" r="2.1"/><circle cx="378.1" cy="1022.4" r="2.1"/><circle cx="329.3" cy="1019.6" r="2.1"/><circle cx="457.6" cy="1016.8" r="2.1"/><circle cx="572.9" cy="1004.2" r="2.1"/><circle cx="520" cy="1004.7" r="2.1"/><circle cx="508.3" cy="1002.1" r="2.1"/><circle cx="358.1" cy="1020" r="2.1"/><circle cx="355.2" cy="1018.9" r="2.1"/><circle cx="450.3" cy="1012.9" r="2.1"/><circle cx="501.5" cy="1016.8" r="2.1"/><circle cx="408.7" cy="1016.9" r="2.1"/><circle cx="391.7" cy="1020.5" r="2.1"/><circle cx="412.1" cy="1017.9" r="2.1"/><circle cx="468.6" cy="1019.5" r="2.1"/><circle cx="641.1" cy="944.2" r="2.1"/><circle cx="386.7" cy="1017.8" r="2.1"/><circle cx="419.2" cy="1021.1" r="2.1"/><circle cx="450.1" cy="1010.1" r="2.1"/><circle cx="397.3" cy="1022.3" r="2.1"/><circle cx="411.3" cy="1016.6" r="2.1"/><circle cx="461.5" cy="1020.3" r="2.1"/><circle cx="492.1" cy="1003.9" r="2.1"/><circle cx="449.4" cy="1012.7" r="2.1"/><circle cx="582.2" cy="952.5" r="2.1"/><circle cx="350.4" cy="1018.7" r="2.1"/><circle cx="531.2" cy="992.3" r="2.1"/><circle cx="394.7" cy="1017.1" r="2.1"/><circle cx="519.8" cy="994.5" r="2.1"/><circle cx="416.7" cy="1019.2" r="2.1"/><circle cx="545.7" cy="1008.1" r="2.1"/><circle cx="396.3" cy="1018" r="2.1"/><circle cx="395" cy="1015.5" r="2.1"/><circle cx="447.1" cy="1019.9" r="2.1"/><circle cx="390.3" cy="1018.8" r="2.1"/><circle cx="397.4" cy="1020.9" r="2.1"/><circle cx="497.6" cy="995.8" r="2.1"/><circle cx="494.5" cy="1009.7" r="2.1"/><circle cx="380.2" cy="1017.6" r="2.1"/><circle cx="445.4" cy="1011.3" r="2.1"/><circle cx="393.3" cy="1017.3" r="2.1"/><circle cx="461.7" cy="1014.7" r="2.1"/><circle cx="496.9" cy="995.7" r="2.1"/><circle cx="331.6" cy="1021" r="2.1"/><circle cx="436.8" cy="1020.4" r="2.1"/><circle cx="442.7" cy="1013.5" r="2.1"/><circle cx="346.3" cy="1019" r="2.1"/><circle cx="427.3" cy="1011.8" r="2.1"/><circle cx="397.3" cy="1019.3" r="2.1"/><circle cx="523.7" cy="1005.8" r="2.1"/><circle cx="351" cy="1021.6" r="2.1"/><circle cx="381.3" cy="1017.3" r="2.1"/><circle cx="412.7" cy="1013.2" r="2.1"/><circle cx="471.6" cy="1015.6" r="2.1"/><circle cx="462" cy="1004.8" r="2.1"/><circle cx="452.1" cy="1010.3" r="2.1"/><circle cx="446.3" cy="1006.3" r="2.1"/><circle cx="438.5" cy="1011" r="2.1"/><circle cx="413.5" cy="1018.9" r="2.1"/><circle cx="520.6" cy="1017.3" r="2.1"/><circle cx="391.7" cy="1015" r="2.1"/><circle cx="380.2" cy="1017.3" r="2.1"/><circle cx="515.2" cy="1006.3" r="2.1"/><circle cx="474.3" cy="1004.2" r="2.1"/><circle cx="506.9" cy="1013.5" r="2.1"/><circle cx="417.3" cy="1016.1" r="2.1"/><circle cx="416.5" cy="1020" r="2.1"/><circle cx="456" cy="1007.6" r="2.1"/><circle cx="337.1" cy="1021.6" r="2.1"/><circle cx="527.7" cy="1016" r="2.1"/><circle cx="414.3" cy="1014.5" r="2.1"/><circle cx="580.7" cy="963.2" r="2.1"/><circle cx="368.9" cy="1017.2" r="2.1"/><circle cx="396.3" cy="1014.7" r="2.1"/><circle cx="474.8" cy="999.3" r="2.1"/><circle cx="505.5" cy="992.3" r="2.1"/><circle cx="382" cy="1017.5" r="2.1"/><circle cx="485" cy="1004" r="2.1"/><circle cx="547" cy="1008" r="2.1"/><circle cx="481.6" cy="1017.4" r="2.1"/><circle cx="426.3" cy="1010.6" r="2.1"/><circle cx="361.8" cy="1020.4" r="2.1"/><circle cx="427.7" cy="1009.7" r="2.1"/><circle cx="403" cy="1013.6" r="2.1"/><circle cx="493.7" cy="999.8" r="2.1"/><circle cx="446.8" cy="1012" r="2.1"/><circle cx="374.8" cy="1017.1" r="2.1"/><circle cx="394.6" cy="1019" r="2.1"/><circle cx="435.3" cy="1008.7" r="2.1"/><circle cx="459.5" cy="1018.2" r="2.1"/><circle cx="494" cy="1006.1" r="2.1"/><circle cx="653.4" cy="899.4" r="2.1"/><circle cx="461.4" cy="1011.9" r="2.1"/><circle cx="580.1" cy="973.5" r="2.1"/><circle cx="485.6" cy="1013.4" r="2.1"/><circle cx="354.5" cy="1022.9" r="2.1"/><circle cx="581.7" cy="934.1" r="2.1"/><circle cx="395.3" cy="1017.4" r="2.1"/><circle cx="376.4" cy="1020.8" r="2.1"/><circle cx="520.4" cy="996" r="2.1"/><circle cx="469.9" cy="1019.1" r="2.1"/><circle cx="534.4" cy="986.9" r="2.1"/><circle cx="469.3" cy="1005" r="2.1"/><circle cx="461.1" cy="1015.8" r="2.1"/><circle cx="513.2" cy="995.1" r="2.1"/><circle cx="490.6" cy="993.2" r="2.1"/><circle cx="525.5" cy="1013.8" r="2.1"/><circle cx="427.6" cy="1019.8" r="2.1"/><circle cx="456.3" cy="1009.6" r="2.1"/><circle cx="523" cy="998" r="2.1"/><circle cx="413.2" cy="1015.6" r="2.1"/><circle cx="535.6" cy="1016.6" r="2.1"/><circle cx="373.3" cy="1021.3" r="2.1"/><circle cx="371.7" cy="1022.3" r="2.1"/><circle cx="483.9" cy="997" r="2.1"/><circle cx="508.7" cy="994" r="2.1"/><circle cx="423" cy="1011.6" r="2.1"/><circle cx="411.9" cy="1015" r="2.1"/><circle cx="468.5" cy="1006.2" r="2.1"/><circle cx="585.9" cy="981.7" r="2.1"/><circle cx="380.2" cy="1020.3" r="2.1"/><circle cx="412.8" cy="1012.8" r="2.1"/><circle cx="393.5" cy="1018.1" r="2.1"/><circle cx="471.2" cy="1013.8" r="2.1"/><circle cx="394.2" cy="1014.9" r="2.1"/><circle cx="497.2" cy="999" r="2.1"/><circle cx="404.5" cy="1013.3" r="2.1"/><circle cx="472.6" cy="1005.7" r="2.1"/><circle cx="432.4" cy="1019.4" r="2.1"/><circle cx="483.2" cy="1015" r="2.1"/><circle cx="469" cy="1006.3" r="2.1"/><circle cx="420.2" cy="1017.3" r="2.1"/><circle cx="475.3" cy="1000.8" r="2.1"/><circle cx="382.5" cy="1022.6" r="2.1"/><circle cx="661.9" cy="851.4" r="2.1"/><circle cx="434.1" cy="1013.4" r="2.1"/><circle cx="488.7" cy="999.1" r="2.1"/><circle cx="592.8" cy="915.6" r="2.1"/><circle cx="470" cy="1004.6" r="2.1"/><circle cx="401.9" cy="1014.3" r="2.1"/><circle cx="384.1" cy="1018.2" r="2.1"/><circle cx="527.1" cy="982.8" r="2.1"/><circle cx="409.4" cy="1019.6" r="2.1"/><circle cx="416.4" cy="1013.6" r="2.1"/><circle cx="420.6" cy="1018.8" r="2.1"/><circle cx="344.9" cy="1021.3" r="2.1"/><circle cx="517.8" cy="992.1" r="2.1"/><circle cx="453.5" cy="1005.7" r="2.1"/><circle cx="470.9" cy="1019.7" r="2.1"/><circle cx="403" cy="1014.4" r="2.1"/><circle cx="370.9" cy="1022.1" r="2.1"/><circle cx="397.7" cy="1015.9" r="2.1"/><circle cx="376" cy="1021.2" r="2.1"/><circle cx="360.2" cy="1020.2" r="2.1"/><circle cx="367.5" cy="1020.8" r="2.1"/><circle cx="564" cy="985.5" r="2.1"/><circle cx="398" cy="1015.3" r="2.1"/><circle cx="396" cy="1014.2" r="2.1"/><circle cx="426.3" cy="1015.4" r="2.1"/><circle cx="441" cy="1019" r="2.1"/><circle cx="546.7" cy="992.2" r="2.1"/><circle cx="429.5" cy="1011.2" r="2.1"/><circle cx="386.7" cy="1020" r="2.1"/><circle cx="595.4" cy="1007.3" r="2.1"/><circle cx="477.8" cy="1008.2" r="2.1"/><circle cx="427.2" cy="1016.8" r="2.1"/><circle cx="386.4" cy="1018.5" r="2.1"/><circle cx="437.1" cy="1020.7" r="2.1"/><circle cx="393" cy="1015.1" r="2.1"/><circle cx="424.2" cy="1011.8" r="2.1"/><circle cx="434" cy="1020.5" r="2.1"/><circle cx="490.8" cy="998.2" r="2.1"/><circle cx="395.6" cy="1021.3" r="2.1"/><circle cx="569.8" cy="1008.3" r="2.1"/><circle cx="444.9" cy="1006.8" r="2.1"/><circle cx="359.9" cy="1022.7" r="2.1"/><circle cx="455.2" cy="1007.5" r="2.1"/><circle cx="444.7" cy="1014.5" r="2.1"/><circle cx="360.7" cy="1021.2" r="2.1"/><circle cx="420.4" cy="1015.4" r="2.1"/><circle cx="577.4" cy="1012.2" r="2.1"/><circle cx="445.7" cy="1019.9" r="2.1"/><circle cx="387.2" cy="1019.2" r="2.1"/><circle cx="457.6" cy="1014" r="2.1"/><circle cx="474.9" cy="1019.3" r="2.1"/><circle cx="467.2" cy="1016.2" r="2.1"/><circle cx="428.5" cy="1020.7" r="2.1"/><circle cx="366" cy="1018.8" r="2.1"/><circle cx="547.1" cy="975.6" r="2.1"/><circle cx="470.8" cy="1005.6" r="2.1"/><circle cx="421.3" cy="1021.9" r="2.1"/><circle cx="571.5" cy="983.3" r="2.1"/><circle cx="381.9" cy="1016.4" r="2.1"/><circle cx="503.9" cy="1015.2" r="2.1"/><circle cx="408.8" cy="1015.1" r="2.1"/><circle cx="462.3" cy="1016.6" r="2.1"/><circle cx="443.3" cy="1016.5" r="2.1"/><circle cx="472.1" cy="1008.7" r="2.1"/><circle cx="498.6" cy="995.2" r="2.1"/><circle cx="437" cy="1008.2" r="2.1"/><circle cx="475.4" cy="1013" r="2.1"/><circle cx="493" cy="998.4" r="2.1"/><circle cx="626.4" cy="895.2" r="2.1"/><circle cx="379.5" cy="1016.4" r="2.1"/><circle cx="422.7" cy="1015.4" r="2.1"/><circle cx="560.8" cy="1010.1" r="2.1"/><circle cx="420.7" cy="1012.5" r="2.1"/><circle cx="521.5" cy="1017.8" r="2.1"/><circle cx="511.9" cy="999.8" r="2.1"/><circle cx="491.8" cy="999.9" r="2.1"/><circle cx="507.3" cy="1018" r="2.1"/><circle cx="477.9" cy="1006" r="2.1"/><circle cx="380.8" cy="1016.5" r="2.1"/><circle cx="564.3" cy="965.8" r="2.1"/><circle cx="365.4" cy="1017.6" r="2.1"/><circle cx="524.9" cy="991.2" r="2.1"/><circle cx="424.6" cy="1017.5" r="2.1"/><circle cx="427.8" cy="1018.2" r="2.1"/><circle cx="419.3" cy="1017.1" r="2.1"/><circle cx="509.9" cy="1003" r="2.1"/><circle cx="393.8" cy="1015.1" r="2.1"/><circle cx="473.1" cy="999.2" r="2.1"/><circle cx="417.6" cy="1018.1" r="2.1"/><circle cx="485.8" cy="1019.8" r="2.1"/><circle cx="383.5" cy="1017.1" r="2.1"/><circle cx="526.7" cy="980" r="2.1"/><circle cx="387.6" cy="1016.6" r="2.1"/><circle cx="495.2" cy="1009.9" r="2.1"/><circle cx="388.3" cy="1016.1" r="2.1"/><circle cx="417.5" cy="1017.3" r="2.1"/><circle cx="415.2" cy="1013.2" r="2.1"/><circle cx="363" cy="1017.5" r="2.1"/><circle cx="458.7" cy="1003.7" r="2.1"/><circle cx="507.8" cy="1009.6" r="2.1"/><circle cx="650.9" cy="891.3" r="2.1"/><circle cx="413.5" cy="1014.3" r="2.1"/><circle cx="367.3" cy="1020.1" r="2.1"/><circle cx="360.7" cy="1020.9" r="2.1"/><circle cx="368.7" cy="1021.6" r="2.1"/><circle cx="411.9" cy="1020.7" r="2.1"/><circle cx="437.2" cy="1009.4" r="2.1"/><circle cx="438" cy="1011.6" r="2.1"/><circle cx="379.8" cy="1022.5" r="2.1"/><circle cx="457.6" cy="1016" r="2.1"/><circle cx="350.2" cy="1019.1" r="2.1"/><circle cx="373.9" cy="1020.4" r="2.1"/><circle cx="419.3" cy="1015.3" r="2.1"/><circle cx="615.1" cy="954.8" r="2.1"/><circle cx="412.2" cy="1019.1" r="2.1"/><circle cx="439.3" cy="1013" r="2.1"/><circle cx="398.9" cy="1018.7" r="2.1"/><circle cx="522.3" cy="980.6" r="2.1"/><circle cx="380.9" cy="1017.8" r="2.1"/><circle cx="357.5" cy="1018.7" r="2.1"/><circle cx="369.5" cy="1017.4" r="2.1"/><circle cx="574" cy="936.4" r="2.1"/><circle cx="557.4" cy="974.8" r="2.1"/><circle cx="450.7" cy="1007.5" r="2.1"/><circle cx="504.6" cy="1001.6" r="2.1"/><circle cx="475.6" cy="1004" r="2.1"/><circle cx="409" cy="1014.8" r="2.1"/><circle cx="439.1" cy="1017" r="2.1"/><circle cx="386.2" cy="1020.4" r="2.1"/><circle cx="440.5" cy="1016.4" r="2.1"/><circle cx="506.2" cy="989.5" r="2.1"/><circle cx="400.3" cy="1016.3" r="2.1"/><circle cx="501.8" cy="1001.8" r="2.1"/><circle cx="378.2" cy="1022.4" r="2.1"/><circle cx="548.1" cy="993.4" r="2.1"/><circle cx="556.9" cy="977.9" r="2.1"/><circle cx="434.7" cy="1014.5" r="2.1"/><circle cx="544.3" cy="964.8" r="2.1"/><circle cx="534.9" cy="986.8" r="2.1"/><circle cx="478.6" cy="1021" r="2.1"/><circle cx="408.1" cy="1019.2" r="2.1"/><circle cx="357.2" cy="1020.2" r="2.1"/><circle cx="441.9" cy="1012.1" r="2.1"/><circle cx="437" cy="1011.6" r="2.1"/><circle cx="482.1" cy="1006.6" r="2.1"/><circle cx="515.6" cy="1018.5" r="2.1"/><circle cx="548.2" cy="1009.8" r="2.1"/><circle cx="429.4" cy="1017.3" r="2.1"/><circle cx="428.1" cy="1017.2" r="2.1"/><circle cx="505.5" cy="1015.4" r="2.1"/><circle cx="354.9" cy="1019.2" r="2.1"/><circle cx="516.4" cy="1018.5" r="2.1"/><circle cx="461.9" cy="1003.3" r="2.1"/><circle cx="468.1" cy="1020" r="2.1"/><circle cx="360.7" cy="1017.8" r="2.1"/><circle cx="376.2" cy="1018" r="2.1"/><circle cx="451.8" cy="1016.2" r="2.1"/><circle cx="368.9" cy="1019.6" r="2.1"/><circle cx="410.8" cy="1018.6" r="2.1"/><circle cx="391.9" cy="1022.8" r="2.1"/><circle cx="496.4" cy="1011.1" r="2.1"/><circle cx="432.3" cy="1009.2" r="2.1"/><circle cx="488.7" cy="993.9" r="2.1"/><circle cx="540.4" cy="993.8" r="2.1"/><circle cx="479.8" cy="1020.1" r="2.1"/><circle cx="401.6" cy="1022" r="2.1"/><circle cx="442.7" cy="1012.5" r="2.1"/><circle cx="500.1" cy="1007" r="2.1"/><circle cx="496.8" cy="995.5" r="2.1"/><circle cx="487.6" cy="998.5" r="2.1"/><circle cx="594.8" cy="960.8" r="2.1"/><circle cx="350.6" cy="1019.2" r="2.1"/><circle cx="474.7" cy="998.4" r="2.1"/><circle cx="439.1" cy="1019.9" r="2.1"/><circle cx="497.2" cy="1009.3" r="2.1"/><circle cx="496" cy="992.9" r="2.1"/><circle cx="443" cy="1016.1" r="2.1"/><circle cx="497.3" cy="1012.1" r="2.1"/><circle cx="380" cy="1019.7" r="2.1"/><circle cx="452.3" cy="1013.7" r="2.1"/><circle cx="505.2" cy="998.9" r="2.1"/><circle cx="452.5" cy="1021.3" r="2.1"/><circle cx="517.1" cy="1004.4" r="2.1"/><circle cx="451" cy="1012.7" r="2.1"/><circle cx="506.8" cy="1007.9" r="2.1"/><circle cx="419.9" cy="1018.8" r="2.1"/><circle cx="450.3" cy="1015.2" r="2.1"/><circle cx="369.8" cy="1016.9" r="2.1"/><circle cx="477.9" cy="1019" r="2.1"/><circle cx="453.2" cy="1017.4" r="2.1"/><circle cx="418" cy="1011.1" r="2.1"/><circle cx="433.7" cy="1015.8" r="2.1"/><circle cx="421" cy="1016" r="2.1"/><circle cx="439" cy="1015.5" r="2.1"/><circle cx="441.9" cy="1009.2" r="2.1"/><circle cx="369.4" cy="1017" r="2.1"/><circle cx="399.5" cy="1014.1" r="2.1"/><circle cx="415.1" cy="1016.6" r="2.1"/><circle cx="536.5" cy="983.3" r="2.1"/><circle cx="578.3" cy="1008" r="2.1"/><circle cx="504" cy="990.4" r="2.1"/><circle cx="566.1" cy="967.4" r="2.1"/><circle cx="411.7" cy="1015" r="2.1"/><circle cx="430.7" cy="1016.8" r="2.1"/><circle cx="410.6" cy="1018.8" r="2.1"/><circle cx="572.6" cy="982.9" r="2.1"/><circle cx="466.1" cy="1010.4" r="2.1"/><circle cx="406.7" cy="1013.5" r="2.1"/><circle cx="389.2" cy="1019" r="2.1"/><circle cx="383.7" cy="1016.7" r="2.1"/><circle cx="507.3" cy="1009.3" r="2.1"/><circle cx="376.6" cy="1022.7" r="2.1"/><circle cx="394.9" cy="1022.6" r="2.1"/><circle cx="427.9" cy="1012.7" r="2.1"/><circle cx="527.2" cy="998.5" r="2.1"/><circle cx="482.8" cy="1002.2" r="2.1"/><circle cx="345.2" cy="1022.5" r="2.1"/><circle cx="381" cy="1020.2" r="2.1"/><circle cx="383.2" cy="1016.5" r="2.1"/><circle cx="561.5" cy="978.2" r="2.1"/><circle cx="600.3" cy="917.8" r="2.1"/><circle cx="468.3" cy="1006.7" r="2.1"/><circle cx="466.5" cy="1017.5" r="2.1"/><circle cx="447" cy="1021.9" r="2.1"/><circle cx="510.7" cy="984.3" r="2.1"/><circle cx="394.7" cy="1018.6" r="2.1"/><circle cx="374.3" cy="1016.5" r="2.1"/><circle cx="492.5" cy="994.6" r="2.1"/><circle cx="373.1" cy="1022.7" r="2.1"/><circle cx="429.9" cy="1017.6" r="2.1"/><circle cx="402" cy="1014.2" r="2.1"/><circle cx="488.2" cy="1009.7" r="2.1"/><circle cx="422.5" cy="1013.4" r="2.1"/><circle cx="605.5" cy="953.1" r="2.1"/><circle cx="470.3" cy="1015.5" r="2.1"/><circle cx="358.2" cy="1022.8" r="2.1"/><circle cx="565.4" cy="1007.8" r="2.1"/><circle cx="387.5" cy="1015.7" r="2.1"/><circle cx="617.5" cy="905.7" r="2.1"/><circle cx="367.1" cy="1020" r="2.1"/><circle cx="403.2" cy="1015.5" r="2.1"/><circle cx="427.5" cy="1014.2" r="2.1"/><circle cx="417.9" cy="1021.3" r="2.1"/><circle cx="528.6" cy="1000.9" r="2.1"/><circle cx="456" cy="1006.7" r="2.1"/><circle cx="366.9" cy="1023.1" r="2.1"/><circle cx="445.2" cy="1013.5" r="2.1"/><circle cx="351" cy="1019.7" r="2.1"/><circle cx="645.9" cy="828.5" r="2.1"/><circle cx="389" cy="1016.3" r="2.1"/><circle cx="375.2" cy="1021.7" r="2.1"/><circle cx="515.3" cy="1006.1" r="2.1"/><circle cx="465.8" cy="1019.4" r="2.1"/><circle cx="463.5" cy="1021.1" r="2.1"/><circle cx="369.5" cy="1021.1" r="2.1"/><circle cx="477.7" cy="1007.2" r="2.1"/><circle cx="543.3" cy="964.2" r="2.1"/><circle cx="467.6" cy="1015" r="2.1"/><circle cx="517.5" cy="1005.2" r="2.1"/><circle cx="602.3" cy="962.5" r="2.1"/><circle cx="442.7" cy="1015" r="2.1"/><circle cx="469.4" cy="1009.7" r="2.1"/><circle cx="449.1" cy="1008.3" r="2.1"/><circle cx="383.4" cy="1022.7" r="2.1"/><circle cx="383" cy="1022.2" r="2.1"/><circle cx="502.1" cy="1018" r="2.1"/><circle cx="364.1" cy="1020.9" r="2.1"/><circle cx="404.4" cy="1019.1" r="2.1"/><circle cx="342.3" cy="1019.3" r="2.1"/><circle cx="472.6" cy="1002.4" r="2.1"/><circle cx="375.8" cy="1022" r="2.1"/><circle cx="500.5" cy="990.5" r="2.1"/><circle cx="365.5" cy="1022.7" r="2.1"/><circle cx="494.1" cy="999.1" r="2.1"/><circle cx="399.7" cy="1015.2" r="2.1"/><circle cx="442.3" cy="1012.5" r="2.1"/><circle cx="340.9" cy="1019.2" r="2.1"/><circle cx="436.9" cy="1012.8" r="2.1"/><circle cx="507" cy="1012.6" r="2.1"/><circle cx="678.2" cy="878.9" r="2.1"/><circle cx="501.6" cy="1001.1" r="2.1"/><circle cx="423.7" cy="1016" r="2.1"/><circle cx="425.3" cy="1018.6" r="2.1"/><circle cx="448.2" cy="1007.6" r="2.1"/><circle cx="630" cy="928" r="2.1"/><circle cx="424.4" cy="1017.9" r="2.1"/><circle cx="460.8" cy="1004.7" r="2.1"/><circle cx="534.2" cy="1017.1" r="2.1"/><circle cx="515.5" cy="1016.9" r="2.1"/><circle cx="477.7" cy="1009.1" r="2.1"/><circle cx="391.2" cy="1020.4" r="2.1"/><circle cx="395.5" cy="1018" r="2.1"/><circle cx="519.8" cy="996.8" r="2.1"/><circle cx="621.5" cy="870.5" r="2.1"/><circle cx="587.9" cy="954.9" r="2.1"/><circle cx="463.1" cy="1019" r="2.1"/><circle cx="511.5" cy="1009.3" r="2.1"/><circle cx="494.8" cy="1011.7" r="2.1"/><circle cx="527.1" cy="1006" r="2.1"/><circle cx="453.4" cy="1015.5" r="2.1"/><circle cx="348.2" cy="1021.3" r="2.1"/><circle cx="533.9" cy="1017.5" r="2.1"/><circle cx="382.4" cy="1018.6" r="2.1"/><circle cx="396.2" cy="1018" r="2.1"/><circle cx="356.1" cy="1021.6" r="2.1"/><circle cx="558" cy="998.8" r="2.1"/><circle cx="487.2" cy="1008.4" r="2.1"/><circle cx="427.5" cy="1015.3" r="2.1"/><circle cx="389.9" cy="1020.5" r="2.1"/><circle cx="440.7" cy="1008.2" r="2.1"/><circle cx="455.7" cy="1007.8" r="2.1"/><circle cx="390.1" cy="1018.6" r="2.1"/><circle cx="557.5" cy="975" r="2.1"/><circle cx="342.4" cy="1021.7" r="2.1"/><circle cx="536.9" cy="972.9" r="2.1"/><circle cx="525.7" cy="1006" r="2.1"/><circle cx="476.3" cy="1006.6" r="2.1"/><circle cx="418.5" cy="1014.9" r="2.1"/><circle cx="429.7" cy="1013.5" r="2.1"/><circle cx="423.4" cy="1017.3" r="2.1"/><circle cx="431.2" cy="1009.3" r="2.1"/><circle cx="400.8" cy="1019.2" r="2.1"/><circle cx="527.9" cy="1015.6" r="2.1"/><circle cx="379" cy="1020.9" r="2.1"/><circle cx="508.4" cy="990.2" r="2.1"/><circle cx="434.1" cy="1018.2" r="2.1"/><circle cx="469.5" cy="1001" r="2.1"/><circle cx="426.9" cy="1010.5" r="2.1"/><circle cx="391.2" cy="1018.3" r="2.1"/><circle cx="381.2" cy="1020.2" r="2.1"/><circle cx="512.4" cy="991.2" r="2.1"/><circle cx="417.3" cy="1020.6" r="2.1"/><circle cx="481.9" cy="1007.5" r="2.1"/><circle cx="427.2" cy="1012.4" r="2.1"/><circle cx="459.6" cy="1004.3" r="2.1"/><circle cx="510.5" cy="1011.1" r="2.1"/><circle cx="507.6" cy="1000.4" r="2.1"/><circle cx="433.1" cy="1014.5" r="2.1"/><circle cx="429.9" cy="1020.7" r="2.1"/><circle cx="407.1" cy="1022.4" r="2.1"/><circle cx="388.8" cy="1021.8" r="2.1"/><circle cx="428.4" cy="1021.3" r="2.1"/><circle cx="414.2" cy="1020.1" r="2.1"/><circle cx="565.2" cy="979.9" r="2.1"/><circle cx="508.6" cy="994.8" r="2.1"/><circle cx="435.8" cy="1021.4" r="2.1"/><circle cx="342.9" cy="1020.2" r="2.1"/><circle cx="396.4" cy="1014.2" r="2.1"/><circle cx="468.5" cy="1001.6" r="2.1"/><circle cx="440.5" cy="1013.2" r="2.1"/><circle cx="397.3" cy="1019.3" r="2.1"/><circle cx="353.7" cy="1022.6" r="2.1"/><circle cx="395.9" cy="1022" r="2.1"/><circle cx="569.2" cy="959" r="2.1"/><circle cx="422.8" cy="1014.7" r="2.1"/><circle cx="383.2" cy="1016.7" r="2.1"/><circle cx="393.8" cy="1016.2" r="2.1"/><circle cx="391.3" cy="1018.3" r="2.1"/><circle cx="452.2" cy="1014.7" r="2.1"/><circle cx="416.6" cy="1013.4" r="2.1"/><circle cx="509.8" cy="993.5" r="2.1"/><circle cx="635.1" cy="916" r="2.1"/><circle cx="460" cy="1021.4" r="2.1"/><circle cx="381.1" cy="1019.9" r="2.1"/><circle cx="514.6" cy="998.3" r="2.1"/><circle cx="385.2" cy="1016" r="2.1"/><circle cx="469.4" cy="1009.4" r="2.1"/><circle cx="522.2" cy="999.5" r="2.1"/><circle cx="490.8" cy="1012" r="2.1"/><circle cx="506.2" cy="1010" r="2.1"/><circle cx="425" cy="1015.2" r="2.1"/><circle cx="429.9" cy="1014.1" r="2.1"/><circle cx="477.5" cy="1009.3" r="2.1"/><circle cx="436" cy="1017.1" r="2.1"/><circle cx="409.9" cy="1019.2" r="2.1"/><circle cx="372.8" cy="1022.3" r="2.1"/><circle cx="423.2" cy="1019.7" r="2.1"/><circle cx="467.1" cy="1021" r="2.1"/><circle cx="423.3" cy="1016.1" r="2.1"/><circle cx="432.9" cy="1008.8" r="2.1"/><circle cx="442.9" cy="1007" r="2.1"/><circle cx="443.9" cy="1012.8" r="2.1"/><circle cx="583.2" cy="946.8" r="2.1"/><circle cx="429.1" cy="1017.5" r="2.1"/><circle cx="435.5" cy="1014.8" r="2.1"/><circle cx="409" cy="1015.9" r="2.1"/><circle cx="447.5" cy="1015.7" r="2.1"/><circle cx="484.5" cy="1011.1" r="2.1"/><circle cx="356.5" cy="1020.2" r="2.1"/><circle cx="393" cy="1020.7" r="2.1"/><circle cx="460.6" cy="1011.5" r="2.1"/><circle cx="467.1" cy="1011" r="2.1"/><circle cx="465.1" cy="1014.4" r="2.1"/><circle cx="377.5" cy="1022.8" r="2.1"/><circle cx="513.5" cy="1002.5" r="2.1"/><circle cx="517.2" cy="991.9" r="2.1"/><circle cx="368.7" cy="1017.4" r="2.1"/><circle cx="361" cy="1020.6" r="2.1"/><circle cx="375" cy="1019.1" r="2.1"/><circle cx="403.2" cy="1016.8" r="2.1"/><circle cx="473.5" cy="1005.3" r="2.1"/><circle cx="396.3" cy="1015.4" r="2.1"/><circle cx="451.3" cy="1006.4" r="2.1"/><circle cx="459.1" cy="1008.3" r="2.1"/><circle cx="587.5" cy="1008.4" r="2.1"/><circle cx="418" cy="1016.6" r="2.1"/><circle cx="440.1" cy="1017.5" r="2.1"/><circle cx="469.1" cy="1007.1" r="2.1"/><circle cx="487.8" cy="1019.2" r="2.1"/><circle cx="397.1" cy="1019.1" r="2.1"/><circle cx="422.9" cy="1015.6" r="2.1"/><circle cx="450.1" cy="1010.4" r="2.1"/><circle cx="344.3" cy="1020" r="2.1"/><circle cx="370.8" cy="1022.6" r="2.1"/><circle cx="443.3" cy="1013.4" r="2.1"/><circle cx="451.3" cy="1007.8" r="2.1"/><circle cx="610.2" cy="947.4" r="2.1"/><circle cx="536.8" cy="1012.1" r="2.1"/><circle cx="567" cy="956.4" r="2.1"/><circle cx="417.4" cy="1018" r="2.1"/><circle cx="591.3" cy="954.1" r="2.1"/><circle cx="457" cy="1019.7" r="2.1"/><circle cx="441.4" cy="1009.5" r="2.1"/><circle cx="490.3" cy="1003.6" r="2.1"/><circle cx="325.4" cy="1023.1" r="2.1"/><circle cx="460.8" cy="1014" r="2.1"/><circle cx="450.3" cy="1011.5" r="2.1"/><circle cx="375.9" cy="1018.8" r="2.1"/><circle cx="470.6" cy="1004.7" r="2.1"/><circle cx="374.1" cy="1021.8" r="2.1"/><circle cx="476.6" cy="1015.4" r="2.1"/><circle cx="361.5" cy="1021" r="2.1"/><circle cx="402.1" cy="1020" r="2.1"/><circle cx="524" cy="988.5" r="2.1"/><circle cx="378.2" cy="1021.2" r="2.1"/><circle cx="358.9" cy="1018.1" r="2.1"/><circle cx="392.9" cy="1022.4" r="2.1"/><circle cx="476.9" cy="1007.4" r="2.1"/><circle cx="359" cy="1022.5" r="2.1"/><circle cx="401.9" cy="1021.6" r="2.1"/><circle cx="416.5" cy="1016.8" r="2.1"/><circle cx="489" cy="1010.9" r="2.1"/><circle cx="442.1" cy="1021.3" r="2.1"/><circle cx="329.3" cy="1022.2" r="2.1"/><circle cx="482.1" cy="1012.1" r="2.1"/><circle cx="458.2" cy="1021.5" r="2.1"/><circle cx="423.7" cy="1010.7" r="2.1"/><circle cx="469.7" cy="1006.1" r="2.1"/><circle cx="482.2" cy="1020.2" r="2.1"/><circle cx="358.5" cy="1019.8" r="2.1"/><circle cx="562.6" cy="992.5" r="2.1"/><circle cx="354.4" cy="1019.2" r="2.1"/><circle cx="456.5" cy="1007.5" r="2.1"/><circle cx="395.1" cy="1021.8" r="2.1"/><circle cx="529.1" cy="974.8" r="2.1"/><circle cx="444.2" cy="1020.7" r="2.1"/><circle cx="480.3" cy="1016" r="2.1"/><circle cx="459.2" cy="1014.8" r="2.1"/><circle cx="394.6" cy="1022.1" r="2.1"/><circle cx="450.8" cy="1020.1" r="2.1"/><circle cx="573.5" cy="959.6" r="2.1"/><circle cx="470.6" cy="999.7" r="2.1"/><circle cx="398.1" cy="1016.9" r="2.1"/><circle cx="413.7" cy="1022" r="2.1"/><circle cx="416" cy="1017.5" r="2.1"/><circle cx="467.1" cy="1016.1" r="2.1"/><circle cx="455.2" cy="1005.1" r="2.1"/><circle cx="464.3" cy="1013.7" r="2.1"/><circle cx="362.8" cy="1021.1" r="2.1"/><circle cx="393.6" cy="1019" r="2.1"/><circle cx="397.1" cy="1018.9" r="2.1"/><circle cx="363.3" cy="1021.8" r="2.1"/><circle cx="366.3" cy="1019.1" r="2.1"/><circle cx="441.7" cy="1007.3" r="2.1"/><circle cx="351.9" cy="1019.1" r="2.1"/><circle cx="486" cy="1020.7" r="2.1"/><circle cx="401.8" cy="1016.3" r="2.1"/><circle cx="394.9" cy="1016.8" r="2.1"/><circle cx="374.2" cy="1018.1" r="2.1"/><circle cx="463" cy="1017.2" r="2.1"/><circle cx="353.2" cy="1022.5" r="2.1"/><circle cx="386.3" cy="1019.4" r="2.1"/><circle cx="388.8" cy="1019.6" r="2.1"/><circle cx="488.1" cy="1018.5" r="2.1"/><circle cx="422.4" cy="1014" r="2.1"/><circle cx="374.6" cy="1021.1" r="2.1"/><circle cx="590.7" cy="970.2" r="2.1"/><circle cx="431.6" cy="1011.2" r="2.1"/><circle cx="483.4" cy="1003.3" r="2.1"/><circle cx="392.2" cy="1017.3" r="2.1"/><circle cx="399.2" cy="1021.8" r="2.1"/><circle cx="361.4" cy="1020.5" r="2.1"/><circle cx="385.6" cy="1016.1" r="2.1"/><circle cx="537.8" cy="1013.4" r="2.1"/><circle cx="450.9" cy="1008.8" r="2.1"/><circle cx="413.6" cy="1018.3" r="2.1"/><circle cx="429" cy="1010.2" r="2.1"/><circle cx="398.4" cy="1018.7" r="2.1"/><circle cx="446.9" cy="1007.4" r="2.1"/><circle cx="604.8" cy="930" r="2.1"/><circle cx="349.8" cy="1022.6" r="2.1"/><circle cx="473.8" cy="1013" r="2.1"/><circle cx="471.1" cy="1013.9" r="2.1"/><circle cx="443.7" cy="1012.2" r="2.1"/><circle cx="423.1" cy="1017.8" r="2.1"/><circle cx="352.2" cy="1020.3" r="2.1"/><circle cx="395.8" cy="1020.2" r="2.1"/><circle cx="374.6" cy="1022.7" r="2.1"/><circle cx="429.2" cy="1009.8" r="2.1"/><circle cx="384.3" cy="1015.7" r="2.1"/><circle cx="484" cy="1007.2" r="2.1"/><circle cx="389.9" cy="1021.9" r="2.1"/><circle cx="461" cy="1008" r="2.1"/><circle cx="367.6" cy="1020.1" r="2.1"/><circle cx="370.4" cy="1018.6" r="2.1"/><circle cx="525.6" cy="982.1" r="2.1"/><circle cx="457" cy="1018.6" r="2.1"/><circle cx="477.8" cy="1013.6" r="2.1"/><circle cx="590.7" cy="964.9" r="2.1"/><circle cx="405.7" cy="1017.5" r="2.1"/><circle cx="544" cy="976.8" r="2.1"/><circle cx="471.2" cy="1013.1" r="2.1"/><circle cx="424.1" cy="1012.1" r="2.1"/><circle cx="425.7" cy="1020.6" r="2.1"/><circle cx="482.5" cy="995.6" r="2.1"/><circle cx="433" cy="1020.4" r="2.1"/><circle cx="360.9" cy="1019.1" r="2.1"/><circle cx="486.5" cy="1006.3" r="2.1"/><circle cx="538.5" cy="1004.9" r="2.1"/><circle cx="420.5" cy="1014.4" r="2.1"/><circle cx="379.9" cy="1016.9" r="2.1"/><circle cx="496.4" cy="1003.1" r="2.1"/><circle cx="591" cy="983.8" r="2.1"/><circle cx="472.4" cy="1021.1" r="2.1"/><circle cx="525.8" cy="1005.8" r="2.1"/><circle cx="428.5" cy="1017.9" r="2.1"/><circle cx="461.8" cy="1014.5" r="2.1"/><circle cx="590" cy="994.3" r="2.1"/><circle cx="449.9" cy="1019.2" r="2.1"/><circle cx="484.7" cy="1008.9" r="2.1"/><circle cx="443.4" cy="1019.8" r="2.1"/><circle cx="413.6" cy="1012.7" r="2.1"/><circle cx="523.2" cy="982.2" r="2.1"/><circle cx="396" cy="1019.6" r="2.1"/><circle cx="561" cy="1011" r="2.1"/><circle cx="503.3" cy="987.5" r="2.1"/><circle cx="469.4" cy="1014.6" r="2.1"/><circle cx="421.4" cy="1015" r="2.1"/><circle cx="401.2" cy="1015.8" r="2.1"/><circle cx="373" cy="1021.3" r="2.1"/><circle cx="563.4" cy="988.6" r="2.1"/><circle cx="385.7" cy="1017.6" r="2.1"/><circle cx="528.8" cy="995" r="2.1"/><circle cx="424.3" cy="1019.9" r="2.1"/><circle cx="479.1" cy="1010.1" r="2.1"/><circle cx="391.8" cy="1019.8" r="2.1"/><circle cx="539.4" cy="1008.7" r="2.1"/><circle cx="329.5" cy="1022" r="2.1"/><circle cx="543.9" cy="995.2" r="2.1"/><circle cx="441.3" cy="1013" r="2.1"/><circle cx="401.9" cy="1017.2" r="2.1"/><circle cx="515" cy="981.5" r="2.1"/><circle cx="587.2" cy="964.1" r="2.1"/><circle cx="413.9" cy="1018.6" r="2.1"/><circle cx="449.4" cy="1017.7" r="2.1"/><circle cx="518.9" cy="1017.6" r="2.1"/><circle cx="408" cy="1013.7" r="2.1"/><circle cx="425.4" cy="1011.1" r="2.1"/><circle cx="430.7" cy="1017.5" r="2.1"/><circle cx="423.5" cy="1017.7" r="2.1"/><circle cx="463" cy="1006.1" r="2.1"/><circle cx="516.6" cy="999" r="2.1"/><circle cx="477.1" cy="1015.3" r="2.1"/><circle cx="403.5" cy="1018.6" r="2.1"/><circle cx="418.7" cy="1015.2" r="2.1"/><circle cx="442.4" cy="1015.1" r="2.1"/><circle cx="500.8" cy="999.6" r="2.1"/><circle cx="447.6" cy="1007.5" r="2.1"/><circle cx="419.2" cy="1015.6" r="2.1"/><circle cx="422.6" cy="1016.8" r="2.1"/><circle cx="470.9" cy="1019.1" r="2.1"/><circle cx="393.8" cy="1014.9" r="2.1"/><circle cx="496.2" cy="995" r="2.1"/><circle cx="418" cy="1014.6" r="2.1"/><circle cx="393.5" cy="1020.9" r="2.1"/><circle cx="522" cy="1005.2" r="2.1"/><circle cx="394.7" cy="1015" r="2.1"/><circle cx="407.5" cy="1019.6" r="2.1"/><circle cx="396.3" cy="1015.4" r="2.1"/><circle cx="481.2" cy="1003.5" r="2.1"/><circle cx="424.3" cy="1017" r="2.1"/><circle cx="413.9" cy="1021.9" r="2.1"/><circle cx="443.4" cy="1007.9" r="2.1"/><circle cx="467" cy="1006.7" r="2.1"/><circle cx="419.1" cy="1011.7" r="2.1"/><circle cx="580.9" cy="981.2" r="2.1"/><circle cx="436.6" cy="1014" r="2.1"/><circle cx="578.1" cy="969.2" r="2.1"/><circle cx="577.6" cy="1011.1" r="2.1"/><circle cx="458.1" cy="1010.3" r="2.1"/><circle cx="438.7" cy="1008.3" r="2.1"/><circle cx="423.9" cy="1017.5" r="2.1"/><circle cx="615.6" cy="905.2" r="2.1"/><circle cx="710" cy="730.7" r="2.1"/><circle cx="382.6" cy="1022.3" r="2.1"/><circle cx="394.1" cy="1022.5" r="2.1"/><circle cx="441" cy="1019.5" r="2.1"/><circle cx="458.3" cy="1003.1" r="2.1"/><circle cx="527.6" cy="1003.6" r="2.1"/><circle cx="428.3" cy="1018.4" r="2.1"/><circle cx="404.3" cy="1013.7" r="2.1"/><circle cx="474.4" cy="1014.6" r="2.1"/><circle cx="464.4" cy="1015.5" r="2.1"/><circle cx="498.1" cy="1016.5" r="2.1"/><circle cx="476.5" cy="999.2" r="2.1"/><circle cx="393.7" cy="1021.9" r="2.1"/><circle cx="416.1" cy="1012" r="2.1"/><circle cx="456.9" cy="1013" r="2.1"/><circle cx="624.8" cy="955.8" r="2.1"/><circle cx="487.2" cy="997.6" r="2.1"/><circle cx="487.6" cy="998.9" r="2.1"/><circle cx="328" cy="1023.1" r="2.1"/><circle cx="370.1" cy="1017" r="2.1"/><circle cx="537.5" cy="989.2" r="2.1"/><circle cx="387.6" cy="1019" r="2.1"/><circle cx="413.5" cy="1017.5" r="2.1"/><circle cx="511.2" cy="991.7" r="2.1"/><circle cx="399.8" cy="1015.4" r="2.1"/><circle cx="485.1" cy="1012.7" r="2.1"/><circle cx="446.7" cy="1018.4" r="2.1"/><circle cx="390.3" cy="1015.4" r="2.1"/><circle cx="360.7" cy="1019.1" r="2.1"/><circle cx="486.7" cy="1016.9" r="2.1"/><circle cx="360.5" cy="1021.6" r="2.1"/><circle cx="334.1" cy="1020.1" r="2.1"/><circle cx="712.9" cy="739.6" r="2.1"/><circle cx="433.5" cy="1014.2" r="2.1"/><circle cx="573.8" cy="970.7" r="2.1"/><circle cx="533.6" cy="981.2" r="2.1"/><circle cx="411.5" cy="1012.6" r="2.1"/><circle cx="489" cy="999.6" r="2.1"/><circle cx="488.8" cy="1009.5" r="2.1"/><circle cx="457.3" cy="1021" r="2.1"/><circle cx="524.1" cy="1005.3" r="2.1"/><circle cx="529.1" cy="998.1" r="2.1"/><circle cx="464.5" cy="1019.7" r="2.1"/><circle cx="366.6" cy="1019.7" r="2.1"/><circle cx="383" cy="1016.2" r="2.1"/><circle cx="436.1" cy="1017.5" r="2.1"/><circle cx="491.1" cy="1003" r="2.1"/><circle cx="463.5" cy="1015.9" r="2.1"/><circle cx="417.7" cy="1017.6" r="2.1"/><circle cx="526.3" cy="998.6" r="2.1"/><circle cx="445.7" cy="1008.6" r="2.1"/><circle cx="385" cy="1020.7" r="2.1"/><circle cx="393.8" cy="1022.1" r="2.1"/><circle cx="463.9" cy="1020.6" r="2.1"/><circle cx="476.7" cy="1014.4" r="2.1"/><circle cx="386.3" cy="1016.3" r="2.1"/><circle cx="433.1" cy="1022" r="2.1"/><circle cx="437.6" cy="1011.6" r="2.1"/><circle cx="410.3" cy="1016" r="2.1"/><circle cx="369.6" cy="1021.5" r="2.1"/><circle cx="573.8" cy="941.1" r="2.1"/><circle cx="482.7" cy="1002.7" r="2.1"/><circle cx="431" cy="1013.5" r="2.1"/><circle cx="376" cy="1022.8" r="2.1"/><circle cx="425.9" cy="1018.2" r="2.1"/><circle cx="545.4" cy="974.1" r="2.1"/><circle cx="415.3" cy="1016.5" r="2.1"/><circle cx="388.8" cy="1019.2" r="2.1"/><circle cx="439.9" cy="1014" r="2.1"/><circle cx="392.9" cy="1020.4" r="2.1"/><circle cx="599.1" cy="968.7" r="2.1"/><circle cx="353.6" cy="1022.8" r="2.1"/><circle cx="392.9" cy="1020.7" r="2.1"/><circle cx="432" cy="1014.7" r="2.1"/><circle cx="462.4" cy="1009.4" r="2.1"/><circle cx="399" cy="1018.3" r="2.1"/><circle cx="450.5" cy="1007.6" r="2.1"/><circle cx="496.5" cy="993.4" r="2.1"/><circle cx="546.3" cy="988.9" r="2.1"/><circle cx="381.1" cy="1018" r="2.1"/><circle cx="477.4" cy="1001.1" r="2.1"/><circle cx="376.2" cy="1022.7" r="2.1"/><circle cx="520.9" cy="991.1" r="2.1"/><circle cx="444.7" cy="1020.7" r="2.1"/><circle cx="441.1" cy="1018.4" r="2.1"/><circle cx="389.3" cy="1020.2" r="2.1"/><circle cx="483.8" cy="999.1" r="2.1"/><circle cx="449.6" cy="1006.8" r="2.1"/><circle cx="568.1" cy="983.4" r="2.1"/><circle cx="454.5" cy="1019.1" r="2.1"/><circle cx="401.4" cy="1018.1" r="2.1"/><circle cx="449.2" cy="1007.1" r="2.1"/><circle cx="524.4" cy="1013.6" r="2.1"/><circle cx="482.2" cy="1006.8" r="2.1"/><circle cx="420.8" cy="1022.3" r="2.1"/><circle cx="361" cy="1017.8" r="2.1"/><circle cx="366.9" cy="1021.5" r="2.1"/><circle cx="441.2" cy="1008.5" r="2.1"/><circle cx="378.2" cy="1019" r="2.1"/><circle cx="498.4" cy="1001.1" r="2.1"/><circle cx="472.9" cy="1020.8" r="2.1"/><circle cx="378.3" cy="1016.4" r="2.1"/><circle cx="371.7" cy="1019.7" r="2.1"/><circle cx="517" cy="1013" r="2.1"/><circle cx="372.5" cy="1019.1" r="2.1"/><circle cx="478.3" cy="1000.4" r="2.1"/><circle cx="363" cy="1022.5" r="2.1"/><circle cx="477.1" cy="1007.6" r="2.1"/><circle cx="468.5" cy="1017.8" r="2.1"/><circle cx="422.4" cy="1014.6" r="2.1"/><circle cx="355" cy="1021.9" r="2.1"/><circle cx="608.8" cy="981.2" r="2.1"/><circle cx="398.9" cy="1022.1" r="2.1"/><circle cx="429.4" cy="1009.5" r="2.1"/><circle cx="493.6" cy="1008.2" r="2.1"/><circle cx="400.1" cy="1016" r="2.1"/><circle cx="466.1" cy="1016.4" r="2.1"/><circle cx="417.1" cy="1016.6" r="2.1"/><circle cx="494.7" cy="994.9" r="2.1"/><circle cx="527.9" cy="1000.1" r="2.1"/><circle cx="357.3" cy="1022" r="2.1"/><circle cx="387.9" cy="1016.1" r="2.1"/><circle cx="483.9" cy="1000" r="2.1"/><circle cx="461.5" cy="1004.9" r="2.1"/><circle cx="502.7" cy="1010.7" r="2.1"/><circle cx="398.5" cy="1015.9" r="2.1"/><circle cx="444.1" cy="1019.3" r="2.1"/><circle cx="327.6" cy="1021" r="2.1"/><circle cx="454.8" cy="1006" r="2.1"/><circle cx="462.9" cy="1015" r="2.1"/><circle cx="452.2" cy="1012.9" r="2.1"/><circle cx="409.1" cy="1012.5" r="2.1"/><circle cx="456.6" cy="1007.2" r="2.1"/><circle cx="525.3" cy="977.7" r="2.1"/><circle cx="357.1" cy="1018" r="2.1"/><circle cx="420.3" cy="1014.4" r="2.1"/><circle cx="392.8" cy="1017.1" r="2.1"/><circle cx="484.3" cy="1003.8" r="2.1"/><circle cx="359.6" cy="1022" r="2.1"/><circle cx="434.4" cy="1012.3" r="2.1"/><circle cx="516.4" cy="1001.9" r="2.1"/><circle cx="434.4" cy="1012" r="2.1"/><circle cx="441.7" cy="1012.7" r="2.1"/><circle cx="468.9" cy="1007.6" r="2.1"/><circle cx="421.5" cy="1015.6" r="2.1"/><circle cx="513.1" cy="1003.5" r="2.1"/><circle cx="403" cy="1014" r="2.1"/><circle cx="377.2" cy="1017.4" r="2.1"/><circle cx="359.2" cy="1019.2" r="2.1"/><circle cx="462.3" cy="1003.2" r="2.1"/><circle cx="401.2" cy="1021.7" r="2.1"/><circle cx="337.5" cy="1022.1" r="2.1"/><circle cx="398.5" cy="1016.2" r="2.1"/><circle cx="378.1" cy="1017.7" r="2.1"/><circle cx="468.5" cy="1007.5" r="2.1"/><circle cx="414" cy="1022.2" r="2.1"/><circle cx="472.5" cy="1015.4" r="2.1"/><circle cx="476.8" cy="997.8" r="2.1"/><circle cx="392" cy="1019.8" r="2.1"/><circle cx="452" cy="1020.8" r="2.1"/><circle cx="441.5" cy="1019.3" r="2.1"/><circle cx="488.8" cy="994.7" r="2.1"/><circle cx="376.2" cy="1022.8" r="2.1"/><circle cx="367.1" cy="1020.7" r="2.1"/><circle cx="403.6" cy="1017.1" r="2.1"/><circle cx="469.2" cy="1009.6" r="2.1"/><circle cx="396" cy="1017.6" r="2.1"/><circle cx="490.1" cy="1013.1" r="2.1"/><circle cx="371.8" cy="1018.8" r="2.1"/><circle cx="507.5" cy="986.9" r="2.1"/><circle cx="392.2" cy="1018.2" r="2.1"/><circle cx="379.8" cy="1017.6" r="2.1"/><circle cx="404.8" cy="1022.4" r="2.1"/><circle cx="421.5" cy="1022.3" r="2.1"/><circle cx="439.1" cy="1020.5" r="2.1"/><circle cx="500.3" cy="1009.7" r="2.1"/><circle cx="392.6" cy="1019.9" r="2.1"/><circle cx="533.8" cy="978.8" r="2.1"/><circle cx="445.4" cy="1017.5" r="2.1"/><circle cx="610" cy="994.3" r="2.1"/><circle cx="591.9" cy="992.1" r="2.1"/><circle cx="367.1" cy="1022" r="2.1"/><circle cx="455.6" cy="1018.4" r="2.1"/><circle cx="375.7" cy="1020.4" r="2.1"/><circle cx="446.1" cy="1012.1" r="2.1"/><circle cx="511" cy="997.1" r="2.1"/><circle cx="421.7" cy="1022.3" r="2.1"/><circle cx="455.8" cy="1014.1" r="2.1"/><circle cx="384.8" cy="1022.4" r="2.1"/><circle cx="408.3" cy="1013.9" r="2.1"/><circle cx="388.6" cy="1016.8" r="2.1"/><circle cx="463" cy="1002.5" r="2.1"/><circle cx="378" cy="1016.1" r="2.1"/><circle cx="426.2" cy="1013" r="2.1"/><circle cx="506.5" cy="998.7" r="2.1"/><circle cx="393.4" cy="1014.5" r="2.1"/><circle cx="508.7" cy="1004.5" r="2.1"/><circle cx="384.7" cy="1016.7" r="2.1"/><circle cx="432.4" cy="1014.3" r="2.1"/><circle cx="366.4" cy="1020.3" r="2.1"/><circle cx="444.8" cy="1006.9" r="2.1"/><circle cx="402.3" cy="1020.7" r="2.1"/><circle cx="404.4" cy="1016.5" r="2.1"/><circle cx="367.8" cy="1019.4" r="2.1"/><circle cx="543.1" cy="1011.7" r="2.1"/><circle cx="551.1" cy="999.5" r="2.1"/><circle cx="516.9" cy="985.8" r="2.1"/><circle cx="403.1" cy="1022.2" r="2.1"/><circle cx="472.8" cy="1020.7" r="2.1"/><circle cx="426.1" cy="1020.5" r="2.1"/><circle cx="496.6" cy="996.5" r="2.1"/><circle cx="456.4" cy="1014.8" r="2.1"/><circle cx="481.9" cy="1012.4" r="2.1"/><circle cx="396.7" cy="1018" r="2.1"/><circle cx="480.9" cy="1010.6" r="2.1"/><circle cx="541.2" cy="1013.3" r="2.1"/><circle cx="493.5" cy="1011.8" r="2.1"/><circle cx="564.5" cy="966.7" r="2.1"/><circle cx="557.5" cy="997.2" r="2.1"/><circle cx="481.6" cy="997" r="2.1"/><circle cx="391.9" cy="1018.4" r="2.1"/><circle cx="455.4" cy="1018.2" r="2.1"/><circle cx="518.6" cy="979.6" r="2.1"/><circle cx="390.4" cy="1018.6" r="2.1"/>
</g>
<g fill="#ff0000">
<circle cx="365.7" cy="1012" r="2.1"/><circle cx="434.9" cy="991.3" r="2.1"/><circle cx="428.3" cy="1003.4" r="2.1"/><circle cx="390.7" cy="1010.5" r="2.1"/><circle cx="538.9" cy="965.8" r="2.1"/><circle cx="375" cy="1016" r="2.1"/><circle cx="442.1" cy="977.3" r="2.1"/><circle cx="358" cy="1014.1" r="2.1"/><circle cx="473.6" cy="900.3" r="2.1"/><circle cx="422.7" cy="1004.3" r="2.1"/><circle cx="504.4" cy="920.4" r="2.1"/><circle cx="596.1" cy="892.6" r="2.1"/><circle cx="356.3" cy="1004.8" r="2.1"/><circle cx="412.3" cy="1010.1" r="2.1"/><circle cx="447.4" cy="1001.1" r="2.1"/><circle cx="370.5" cy="1016.6" r="2.1"/><circle cx="421.2" cy="1006.5" r="2.1"/><circle cx="402.7" cy="991.1" r="2.1"/><circle cx="544" cy="883.7" r="2.1"/><circle cx="424.7" cy="994.3" r="2.1"/><circle cx="540" cy="945" r="2.1"/><circle cx="406.6" cy="1000.1" r="2.1"/><circle cx="485.2" cy="959.5" r="2.1"/><circle cx="374.6" cy="1016.2" r="2.1"/><circle cx="366.2" cy="1017.1" r="2.1"/><circle cx="511.5" cy="933.5" r="2.1"/><circle cx="442.7" cy="996.5" r="2.1"/><circle cx="376.6" cy="1012.6" r="2.1"/><circle cx="340" cy="1018.9" r="2.1"/><circle cx="406.9" cy="970.3" r="2.1"/><circle cx="366.2" cy="1009.1" r="2.1"/><circle cx="356.6" cy="1002.9" r="2.1"/><circle cx="453.9" cy="990.3" r="2.1"/><circle cx="468.6" cy="965.5" r="2.1"/><circle cx="343.8" cy="1017.2" r="2.1"/><circle cx="366.8" cy="1014.5" r="2.1"/><circle cx="391.4" cy="1012.8" r="2.1"/><circle cx="496.2" cy="984.5" r="2.1"/><circle cx="539.5" cy="879.4" r="2.1"/><circle cx="368.6" cy="1012.8" r="2.1"/><circle cx="453.9" cy="953.3" r="2.1"/><circle cx="357.1" cy="1015.3" r="2.1"/><circle cx="369.6" cy="1012.8" r="2.1"/><circle cx="532" cy="931.8" r="2.1"/><circle cx="386.5" cy="987.7" r="2.1"/><circle cx="387.6" cy="1009.1" r="2.1"/><circle cx="359.7" cy="1013.4" r="2.1"/><circle cx="435.7" cy="1007.3" r="2.1"/><circle cx="402.1" cy="989.7" r="2.1"/><circle cx="395.4" cy="1010.4" r="2.1"/><circle cx="375.4" cy="998.4" r="2.1"/><circle cx="369" cy="1004.7" r="2.1"/><circle cx="572.1" cy="867.1" r="2.1"/><circle cx="420.8" cy="993.2" r="2.1"/><circle cx="513.3" cy="979.4" r="2.1"/><circle cx="415.4" cy="1001.1" r="2.1"/><circle cx="365.5" cy="1004.1" r="2.1"/><circle cx="403.3" cy="1008" r="2.1"/><circle cx="424.3" cy="1005.3" r="2.1"/><circle cx="450.4" cy="1000.6" r="2.1"/><circle cx="400.8" cy="994.8" r="2.1"/><circle cx="485.5" cy="929.6" r="2.1"/><circle cx="410.6" cy="991.7" r="2.1"/><circle cx="428.1" cy="1008.5" r="2.1"/><circle cx="389.4" cy="1014.4" r="2.1"/><circle cx="403.6" cy="1000.6" r="2.1"/><circle cx="381.6" cy="980.6" r="2.1"/><circle cx="490.9" cy="966.4" r="2.1"/><circle cx="485.8" cy="909" r="2.1"/><circle cx="434.8" cy="960.2" r="2.1"/><circle cx="437.7" cy="1005.2" r="2.1"/><circle cx="406.5" cy="980.1" r="2.1"/><circle cx="478.5" cy="915.6" r="2.1"/><circle cx="550.5" cy="862.4" r="2.1"/><circle cx="364.9" cy="1016.6" r="2.1"/><circle cx="399.2" cy="1010.5" r="2.1"/><circle cx="383.9" cy="1010.4" r="2.1"/><circle cx="427.2" cy="975.2" r="2.1"/><circle cx="449.9" cy="1001.8" r="2.1"/><circle cx="440.7" cy="998.5" r="2.1"/><circle cx="485.7" cy="984.9" r="2.1"/><circle cx="350.4" cy="1014.4" r="2.1"/><circle cx="327.2" cy="1009.5" r="2.1"/><circle cx="355.3" cy="1009.9" r="2.1"/><circle cx="577.5" cy="909.3" r="2.1"/><circle cx="363.7" cy="996.4" r="2.1"/><circle cx="373.1" cy="1010.5" r="2.1"/><circle cx="421.6" cy="977.9" r="2.1"/><circle cx="408.9" cy="1003.7" r="2.1"/><circle cx="407.1" cy="980.4" r="2.1"/><circle cx="352.7" cy="1007.7" r="2.1"/><circle cx="384.2" cy="1005.1" r="2.1"/><circle cx="413.7" cy="1002.1" r="2.1"/><circle cx="439.6" cy="964.7" r="2.1"/><circle cx="349.8" cy="1015.9" r="2.1"/><circle cx="422.5" cy="960.8" r="2.1"/><circle cx="535.2" cy="967.2" r="2.1"/><circle cx="540.9" cy="852.4" r="2.1"/><circle cx="386.1" cy="1013.4" r="2.1"/><circle cx="577.5" cy="928.6" r="2.1"/><circle cx="476.9" cy="965.1" r="2.1"/><circle cx="383.4" cy="1015.2" r="2.1"/><circle cx="453.9" cy="980.1" r="2.1"/><circle cx="378.6" cy="1013.1" r="2.1"/><circle cx="523" cy="961.1" r="2.1"/><circle cx="579.2" cy="888.6" r="2.1"/><circle cx="373.2" cy="1014.7" r="2.1"/><circle cx="402" cy="1009.3" r="2.1"/><circle cx="410.3" cy="996.1" r="2.1"/><circle cx="389.4" cy="1007.3" r="2.1"/><circle cx="396.9" cy="1006.8" r="2.1"/><circle cx="424.3" cy="991.4" r="2.1"/><circle cx="366.7" cy="1011.3" r="2.1"/><circle cx="340.4" cy="1016.2" r="2.1"/><circle cx="396.4" cy="1003.1" r="2.1"/><circle cx="439.7" cy="1002.1" r="2.1"/><circle cx="535.2" cy="887.6" r="2.1"/><circle cx="539.1" cy="941.6" r="2.1"/><circle cx="572.4" cy="889.1" r="2.1"/><circle cx="418" cy="995" r="2.1"/><circle cx="360.4" cy="1015" r="2.1"/><circle cx="476.8" cy="996.4" r="2.1"/><circle cx="352.8" cy="994.6" r="2.1"/><circle cx="456.7" cy="978.4" r="2.1"/><circle cx="420.7" cy="1005.2" r="2.1"/><circle cx="430.3" cy="1001.9" r="2.1"/><circle cx="346.1" cy="1013.4" r="2.1"/><circle cx="327.5" cy="1019" r="2.1"/><circle cx="358.9" cy="1010.5" r="2.1"/><circle cx="399.2" cy="1011.6" r="2.1"/><circle cx="365.4" cy="1009" r="2.1"/><circle cx="319.5" cy="1014.3" r="2.1"/><circle cx="390.6" cy="1010.2" r="2.1"/><circle cx="432.9" cy="1007.3" r="2.1"/><circle cx="495.5" cy="984.2" r="2.1"/><circle cx="574.7" cy="883.4" r="2.1"/><circle cx="426.6" cy="967.7" r="2.1"/><circle cx="566.9" cy="895.2" r="2.1"/><circle cx="345.5" cy="1017.8" r="2.1"/><circle cx="382.3" cy="1006.9" r="2.1"/><circle cx="416.1" cy="971" r="2.1"/><circle cx="475.5" cy="922.8" r="2.1"/><circle cx="358.9" cy="1017.6" r="2.1"/><circle cx="328.6" cy="1018.2" r="2.1"/><circle cx="425.1" cy="990.8" r="2.1"/><circle cx="383.9" cy="1012.2" r="2.1"/><circle cx="514" cy="869.4" r="2.1"/><circle cx="367.1" cy="989.9" r="2.1"/><circle cx="399.8" cy="1001.3" r="2.1"/><circle cx="398.5" cy="977.7" r="2.1"/><circle cx="339.8" cy="1003.6" r="2.1"/><circle cx="383.7" cy="1012.4" r="2.1"/><circle cx="412.2" cy="1010.3" r="2.1"/><circle cx="446.3" cy="1003.9" r="2.1"/><circle cx="487.2" cy="982.5" r="2.1"/><circle cx="480.8" cy="990.4" r="2.1"/><circle cx="521.6" cy="958.4" r="2.1"/><circle cx="496.5" cy="976.7" r="2.1"/><circle cx="459" cy="976.4" r="2.1"/><circle cx="390.3" cy="1014.1" r="2.1"/><circle cx="375.6" cy="996.1" r="2.1"/><circle cx="519.7" cy="900" r="2.1"/><circle cx="424.7" cy="1005.4" r="2.1"/><circle cx="421.1" cy="971.2" r="2.1"/><circle cx="516.5" cy="934.9" r="2.1"/><circle cx="350.3" cy="1016.2" r="2.1"/><circle cx="402.9" cy="1009.9" r="2.1"/><circle cx="428.3" cy="994.1" r="2.1"/><circle cx="544.5" cy="962.7" r="2.1"/><circle cx="428.1" cy="981.7" r="2.1"/><circle cx="566.3" cy="934.9" r="2.1"/><circle cx="580.6" cy="923.2" r="2.1"/><circle cx="371.9" cy="999.4" r="2.1"/><circle cx="459.3" cy="943.9" r="2.1"/><circle cx="466.6" cy="998.6" r="2.1"/><circle cx="355.5" cy="1013.8" r="2.1"/><circle cx="448.1" cy="968.9" r="2.1"/><circle cx="548" cy="838.3" r="2.1"/><circle cx="399.1" cy="1006" r="2.1"/><circle cx="582.6" cy="833.7" r="2.1"/><circle cx="385.1" cy="990.3" r="2.1"/><circle cx="408.9" cy="1004.6" r="2.1"/><circle cx="366.8" cy="1011.6" r="2.1"/><circle cx="379.5" cy="1009.9" r="2.1"/><circle cx="387.6" cy="1013.3" r="2.1"/><circle cx="422.3" cy="997.4" r="2.1"/><circle cx="393.1" cy="984.7" r="2.1"/><circle cx="402.1" cy="1002.4" r="2.1"/><circle cx="390.3" cy="1002.9" r="2.1"/><circle cx="415.8" cy="994.7" r="2.1"/><circle cx="344.7" cy="1011.3" r="2.1"/><circle cx="370.5" cy="991.9" r="2.1"/><circle cx="523.4" cy="924.1" r="2.1"/><circle cx="390.6" cy="998.4" r="2.1"/><circle cx="390.5" cy="1002" r="2.1"/><circle cx="430.4" cy="997.7" r="2.1"/><circle cx="390.7" cy="1011.2" r="2.1"/><circle cx="530.2" cy="946.1" r="2.1"/><circle cx="429.4" cy="993.4" r="2.1"/><circle cx="359.1" cy="1016.1" r="2.1"/><circle cx="348.3" cy="1016" r="2.1"/><circle cx="454.9" cy="953.1" r="2.1"/><circle cx="484.2" cy="990.5" r="2.1"/><circle cx="424" cy="988" r="2.1"/><circle cx="348.1" cy="1009.2" r="2.1"/><circle cx="472.1" cy="985.7" r="2.1"/><circle cx="384" cy="1011.3" r="2.1"/><circle cx="418" cy="1003" r="2.1"/><circle cx="426" cy="1009.1" r="2.1"/><circle cx="441" cy="980.2" r="2.1"/><circle cx="391.8" cy="1003" r="2.1"/><circle cx="567.9" cy="941" r="2.1"/><circle cx="388.8" cy="1004.2" r="2.1"/><circle cx="349.1" cy="1011.2" r="2.1"/><circle cx="413.7" cy="991.9" r="2.1"/><circle cx="479" cy="918.3" r="2.1"/><circle cx="525.3" cy="916.8" r="2.1"/><circle cx="369.9" cy="1016.6" r="2.1"/><circle cx="407" cy="1005.3" r="2.1"/><circle cx="386.2" cy="1010.5" r="2.1"/><circle cx="411.1" cy="989.2" r="2.1"/><circle cx="330.6" cy="1013.8" r="2.1"/><circle cx="327.9" cy="1017.4" r="2.1"/><circle cx="447" cy="1003.1" r="2.1"/><circle cx="558.5" cy="941" r="2.1"/><circle cx="497.7" cy="956.1" r="2.1"/><circle cx="488.1" cy="969.6" r="2.1"/><circle cx="456.6" cy="968.3" r="2.1"/><circle cx="496.6" cy="949.3" r="2.1"/><circle cx="366.9" cy="999.7" r="2.1"/><circle cx="476.8" cy="991.4" r="2.1"/><circle cx="386" cy="1008.5" r="2.1"/><circle cx="391.3" cy="1011.5" r="2.1"/><circle cx="482.7" cy="992.1" r="2.1"/><circle cx="370.1" cy="999.4" r="2.1"/><circle cx="415.1" cy="977.7" r="2.1"/><circle cx="465.1" cy="982.1" r="2.1"/><circle cx="535" cy="895.5" r="2.1"/><circle cx="381.6" cy="1013.7" r="2.1"/><circle cx="355.2" cy="1004.1" r="2.1"/><circle cx="372.6" cy="1005.4" r="2.1"/><circle cx="386" cy="1006.6" r="2.1"/><circle cx="395.1" cy="1012.7" r="2.1"/><circle cx="408.7" cy="986" r="2.1"/><circle cx="384.7" cy="1009.4" r="2.1"/><circle cx="385.3" cy="1013.2" r="2.1"/><circle cx="366.9" cy="999.4" r="2.1"/><circle cx="335.5" cy="1015.8" r="2.1"/><circle cx="460.7" cy="982" r="2.1"/><circle cx="381.6" cy="1003.6" r="2.1"/><circle cx="436.7" cy="1004.7" r="2.1"/><circle cx="358" cy="1017.7" r="2.1"/><circle cx="460.9" cy="996.7" r="2.1"/><circle cx="469" cy="970.3" r="2.1"/><circle cx="591.6" cy="900.9" r="2.1"/><circle cx="432.3" cy="1001.9" r="2.1"/><circle cx="496.6" cy="960.6" r="2.1"/><circle cx="392.3" cy="1010.1" r="2.1"/><circle cx="394.5" cy="995.7" r="2.1"/><circle cx="392.1" cy="996.8" r="2.1"/><circle cx="423.2" cy="990.2" r="2.1"/><circle cx="379.9" cy="1002.8" r="2.1"/><circle cx="500.9" cy="984.8" r="2.1"/><circle cx="476" cy="995.6" r="2.1"/><circle cx="579.5" cy="919" r="2.1"/><circle cx="357.2" cy="1006.1" r="2.1"/><circle cx="409.2" cy="1011.9" r="2.1"/><circle cx="352.3" cy="1017.9" r="2.1"/><circle cx="386.3" cy="999.8" r="2.1"/><circle cx="583" cy="891.9" r="2.1"/><circle cx="396.4" cy="1010.2" r="2.1"/><circle cx="535.9" cy="945.8" r="2.1"/><circle cx="412.8" cy="970.3" r="2.1"/><circle cx="388.8" cy="1013" r="2.1"/><circle cx="397.3" cy="1011.7" r="2.1"/><circle cx="533.5" cy="893.3" r="2.1"/><circle cx="386.3" cy="994.1" r="2.1"/><circle cx="369" cy="1011.7" r="2.1"/><circle cx="367" cy="1010.3" r="2.1"/><circle cx="349.4" cy="1005" r="2.1"/><circle cx="412.5" cy="1002.3" r="2.1"/><circle cx="390.5" cy="999.7" r="2.1"/><circle cx="389" cy="1009.7" r="2.1"/><circle cx="441" cy="1001" r="2.1"/><circle cx="378.5" cy="1010.4" r="2.1"/><circle cx="419.8" cy="969" r="2.1"/><circle cx="538.7" cy="874.7" r="2.1"/><circle cx="431.3" cy="1002.2" r="2.1"/><circle cx="406.8" cy="1002.1" r="2.1"/><circle cx="429.8" cy="990.5" r="2.1"/><circle cx="505.2" cy="958.7" r="2.1"/><circle cx="428.3" cy="1008.1" r="2.1"/><circle cx="392.1" cy="1005.9" r="2.1"/><circle cx="358.2" cy="1010" r="2.1"/><circle cx="338.9" cy="1008.7" r="2.1"/><circle cx="374.5" cy="1015.5" r="2.1"/><circle cx="383.8" cy="1009.5" r="2.1"/><circle cx="538.8" cy="960.2" r="2.1"/><circle cx="390.8" cy="991" r="2.1"/><circle cx="384.5" cy="1002.9" r="2.1"/><circle cx="368.7" cy="1008.4" r="2.1"/><circle cx="329.6" cy="1009.7" r="2.1"/><circle cx="372.8" cy="1006" r="2.1"/><circle cx="410.9" cy="1005.4" r="2.1"/><circle cx="367.3" cy="1008.5" r="2.1"/><circle cx="402.8" cy="1009.4" r="2.1"/><circle cx="377.7" cy="1001.9" r="2.1"/><circle cx="429.6" cy="985.4" r="2.1"/><circle cx="378.4" cy="1001" r="2.1"/><circle cx="389.2" cy="1007.6" r="2.1"/><circle cx="393.9" cy="1012.7" r="2.1"/><circle cx="400.7" cy="1012.7" r="2.1"/><circle cx="371.3" cy="1002.8" r="2.1"/><circle cx="448.2" cy="932.4" r="2.1"/><circle cx="435.9" cy="954.2" r="2.1"/><circle cx="408.3" cy="997.7" r="2.1"/><circle cx="423.7" cy="1008.6" r="2.1"/><circle cx="615.5" cy="870.9" r="2.1"/><circle cx="420.1" cy="1002.9" r="2.1"/><circle cx="445.5" cy="996.2" r="2.1"/><circle cx="429.3" cy="1002.6" r="2.1"/><circle cx="387" cy="1005.6" r="2.1"/><circle cx="408.1" cy="1006.1" r="2.1"/><circle cx="426.8" cy="991.5" r="2.1"/><circle cx="443" cy="981.1" r="2.1"/><circle cx="431.2" cy="978.8" r="2.1"/><circle cx="321.4" cy="1019.7" r="2.1"/><circle cx="468.8" cy="984.6" r="2.1"/><circle cx="396.8" cy="996.4" r="2.1"/><circle cx="437.8" cy="971" r="2.1"/><circle cx="369.7" cy="1013" r="2.1"/><circle cx="446.5" cy="1001.6" r="2.1"/><circle cx="374.6" cy="1013.2" r="2.1"/><circle cx="386" cy="1014.9" r="2.1"/><circle cx="456" cy="1003.1" r="2.1"/><circle cx="533.7" cy="928.2" r="2.1"/><circle cx="413.9" cy="994.7" r="2.1"/><circle cx="407.5" cy="970.1" r="2.1"/><circle cx="572.1" cy="879.4" r="2.1"/><circle cx="333.7" cy="1009.4" r="2.1"/><circle cx="406.7" cy="1011.6" r="2.1"/><circle cx="418.4" cy="977.9" r="2.1"/><circle cx="473.9" cy="975.1" r="2.1"/><circle cx="484.5" cy="989.2" r="2.1"/><circle cx="432.8" cy="985" r="2.1"/><circle cx="409.5" cy="1007" r="2.1"/><circle cx="569.9" cy="924.6" r="2.1"/><circle cx="435.1" cy="954.7" r="2.1"/><circle cx="395.2" cy="1012" r="2.1"/><circle cx="476.4" cy="984.7" r="2.1"/><circle cx="452.4" cy="1001.8" r="2.1"/><circle cx="461.2" cy="953.2" r="2.1"/><circle cx="583.2" cy="924.1" r="2.1"/><circle cx="395.7" cy="1013.1" r="2.1"/><circle cx="545.7" cy="925.5" r="2.1"/><circle cx="329.5" cy="1019.1" r="2.1"/><circle cx="356.3" cy="995.1" r="2.1"/><circle cx="324.6" cy="1014.1" r="2.1"/><circle cx="571.7" cy="933.7" r="2.1"/><circle cx="488.5" cy="934" r="2.1"/><circle cx="534.6" cy="911.8" r="2.1"/><circle cx="410" cy="972.8" r="2.1"/><circle cx="415.1" cy="990.2" r="2.1"/><circle cx="390.7" cy="992.1" r="2.1"/><circle cx="351.2" cy="1009.1" r="2.1"/><circle cx="372.8" cy="1012.1" r="2.1"/><circle cx="350.3" cy="997.4" r="2.1"/><circle cx="372.5" cy="992.9" r="2.1"/><circle cx="367.8" cy="1015.3" r="2.1"/><circle cx="393.7" cy="999.6" r="2.1"/><circle cx="453.9" cy="990.6" r="2.1"/><circle cx="506.5" cy="981.5" r="2.1"/><circle cx="426.2" cy="1009.3" r="2.1"/><circle cx="403.5" cy="1011.5" r="2.1"/><circle cx="525.5" cy="924" r="2.1"/><circle cx="378.8" cy="1015.7" r="2.1"/><circle cx="418.2" cy="964.3" r="2.1"/><circle cx="403.7" cy="1003.2" r="2.1"/><circle cx="417.1" cy="983.6" r="2.1"/><circle cx="423.3" cy="1008.9" r="2.1"/><circle cx="369.7" cy="1015.4" r="2.1"/><circle cx="469.3" cy="981.6" r="2.1"/><circle cx="428.9" cy="1001.7" r="2.1"/><circle cx="332.5" cy="1016.7" r="2.1"/><circle cx="425.4" cy="999.3" r="2.1"/><circle cx="376.6" cy="984.4" r="2.1"/><circle cx="520" cy="888.4" r="2.1"/><circle cx="408.4" cy="1001.6" r="2.1"/><circle cx="525.7" cy="877.2" r="2.1"/><circle cx="354.7" cy="1015.7" r="2.1"/><circle cx="444.7" cy="1005" r="2.1"/><circle cx="426.2" cy="965.9" r="2.1"/><circle cx="442.8" cy="992.7" r="2.1"/><circle cx="360.4" cy="1014.9" r="2.1"/><circle cx="358.3" cy="1014.3" r="2.1"/><circle cx="379.3" cy="1001.6" r="2.1"/><circle cx="368.2" cy="1015.8" r="2.1"/><circle cx="407.6" cy="1005.8" r="2.1"/><circle cx="398.9" cy="985.6" r="2.1"/><circle cx="454.8" cy="995.8" r="2.1"/><circle cx="388.9" cy="1010.1" r="2.1"/><circle cx="425.1" cy="1006" r="2.1"/><circle cx="428.4" cy="1004.6" r="2.1"/><circle cx="380.4" cy="1000.6" r="2.1"/><circle cx="587.5" cy="875.1" r="2.1"/><circle cx="355.4" cy="1015.9" r="2.1"/><circle cx="482" cy="976.6" r="2.1"/><circle cx="423.8" cy="994.8" r="2.1"/><circle cx="434.8" cy="995.6" r="2.1"/><circle cx="365.6" cy="1006.6" r="2.1"/><circle cx="402.4" cy="1008" r="2.1"/><circle cx="378.6" cy="1014.2" r="2.1"/><circle cx="413.3" cy="988.2" r="2.1"/><circle cx="396.8" cy="1010.4" r="2.1"/><circle cx="383.5" cy="1001.3" r="2.1"/><circle cx="387.3" cy="1013.9" r="2.1"/><circle cx="572.5" cy="879.1" r="2.1"/><circle cx="427.9" cy="1003.6" r="2.1"/><circle cx="397.6" cy="1010" r="2.1"/><circle cx="464.1" cy="990" r="2.1"/><circle cx="436.6" cy="987.2" r="2.1"/><circle cx="497.4" cy="968.3" r="2.1"/><circle cx="394.9" cy="1011.9" r="2.1"/><circle cx="385" cy="1010.6" r="2.1"/><circle cx="406.3" cy="973" r="2.1"/><circle cx="487.8" cy="981.4" r="2.1"/><circle cx="506.5" cy="961.6" r="2.1"/><circle cx="467.8" cy="980.6" r="2.1"/><circle cx="419.2" cy="1008.5" r="2.1"/><circle cx="383.1" cy="1010.2" r="2.1"/><circle cx="447.2" cy="1000.8" r="2.1"/><circle cx="333.3" cy="1018.6" r="2.1"/><circle cx="542.6" cy="851.6" r="2.1"/><circle cx="346.3" cy="1014.4" r="2.1"/><circle cx="369.3" cy="997.4" r="2.1"/><circle cx="561.7" cy="935" r="2.1"/><circle cx="422.5" cy="1009.7" r="2.1"/><circle cx="319.5" cy="1017.4" r="2.1"/><circle cx="448.3" cy="945.6" r="2.1"/><circle cx="443.4" cy="1004.3" r="2.1"/><circle cx="405.6" cy="1012" r="2.1"/><circle cx="414" cy="1008.6" r="2.1"/><circle cx="468.1" cy="996.7" r="2.1"/><circle cx="409.2" cy="973.2" r="2.1"/><circle cx="562.9" cy="935.7" r="2.1"/><circle cx="383.5" cy="1012.9" r="2.1"/><circle cx="483.8" cy="992.1" r="2.1"/><circle cx="370.6" cy="1000.5" r="2.1"/><circle cx="558.9" cy="946.4" r="2.1"/><circle cx="399.3" cy="1010.5" r="2.1"/><circle cx="425.1" cy="966.2" r="2.1"/><circle cx="456.4" cy="988.1" r="2.1"/><circle cx="490.2" cy="987.1" r="2.1"/><circle cx="565.9" cy="935.4" r="2.1"/><circle cx="373.3" cy="1010.7" r="2.1"/><circle cx="369.6" cy="1010.4" r="2.1"/><circle cx="389.6" cy="993.2" r="2.1"/><circle cx="474.6" cy="988.1" r="2.1"/><circle cx="435.8" cy="1003.4" r="2.1"/><circle cx="461.4" cy="993.5" r="2.1"/><circle cx="514.1" cy="923.8" r="2.1"/><circle cx="380.6" cy="1010.3" r="2.1"/><circle cx="466.9" cy="999.4" r="2.1"/><circle cx="541.7" cy="865.1" r="2.1"/><circle cx="383.4" cy="999.2" r="2.1"/><circle cx="444.6" cy="948" r="2.1"/><circle cx="429.4" cy="953.8" r="2.1"/><circle cx="373.3" cy="1010.5" r="2.1"/><circle cx="497.1" cy="958" r="2.1"/><circle cx="499.6" cy="981.6" r="2.1"/><circle cx="490.6" cy="991.8" r="2.1"/><circle cx="478.7" cy="982.8" r="2.1"/><circle cx="354.9" cy="997.4" r="2.1"/><circle cx="406.5" cy="1004.3" r="2.1"/><circle cx="458.9" cy="991" r="2.1"/><circle cx="341.4" cy="1018.8" r="2.1"/><circle cx="435.2" cy="962.4" r="2.1"/><circle cx="400.9" cy="1001.4" r="2.1"/><circle cx="426.2" cy="1006.7" r="2.1"/><circle cx="367.3" cy="995.6" r="2.1"/><circle cx="403.5" cy="1008.6" r="2.1"/><circle cx="371.5" cy="1016.4" r="2.1"/><circle cx="387.5" cy="998.7" r="2.1"/><circle cx="414.2" cy="1005.8" r="2.1"/><circle cx="455.8" cy="1003" r="2.1"/><circle cx="371.7" cy="1008.1" r="2.1"/><circle cx="361.1" cy="997.7" r="2.1"/><circle cx="403.8" cy="999.4" r="2.1"/><circle cx="348.5" cy="1018.4" r="2.1"/><circle cx="446.2" cy="1005.1" r="2.1"/><circle cx="383.4" cy="1009.3" r="2.1"/><circle cx="465.1" cy="997.6" r="2.1"/><circle cx="355.8" cy="993.8" r="2.1"/><circle cx="451.8" cy="943" r="2.1"/><circle cx="394.2" cy="988.5" r="2.1"/><circle cx="477.8" cy="953.4" r="2.1"/><circle cx="447.7" cy="981.7" r="2.1"/><circle cx="444" cy="998.3" r="2.1"/><circle cx="374.1" cy="984.5" r="2.1"/><circle cx="404.7" cy="1002.3" r="2.1"/><circle cx="407.9" cy="1001.2" r="2.1"/><circle cx="469.8" cy="987.7" r="2.1"/><circle cx="573.2" cy="817.8" r="2.1"/><circle cx="429.6" cy="972" r="2.1"/><circle cx="413" cy="987.4" r="2.1"/><circle cx="458.1" cy="991.1" r="2.1"/><circle cx="501.5" cy="953.6" r="2.1"/><circle cx="570.3" cy="931.2" r="2.1"/><circle cx="481.2" cy="990" r="2.1"/><circle cx="530.6" cy="966.3" r="2.1"/><circle cx="478" cy="990.8" r="2.1"/><circle cx="360" cy="1006.8" r="2.1"/><circle cx="551.4" cy="822.6" r="2.1"/><circle cx="454.9" cy="992.7" r="2.1"/><circle cx="406.9" cy="1004.1" r="2.1"/><circle cx="455.1" cy="998.2" r="2.1"/><circle cx="404.5" cy="1008.5" r="2.1"/><circle cx="399.1" cy="1006" r="2.1"/><circle cx="349.3" cy="1013.3" r="2.1"/><circle cx="374.4" cy="1004.3" r="2.1"/><circle cx="395.5" cy="1001.7" r="2.1"/><circle cx="389.8" cy="1006.5" r="2.1"/><circle cx="363.1" cy="1008.5" r="2.1"/><circle cx="489.5" cy="979.4" r="2.1"/><circle cx="369.1" cy="1013.4" r="2.1"/><circle cx="451.8" cy="929.9" r="2.1"/><circle cx="429" cy="955.5" r="2.1"/><circle cx="366.4" cy="1000.5" r="2.1"/><circle cx="527" cy="863.3" r="2.1"/><circle cx="373.3" cy="1007.2" r="2.1"/><circle cx="366.5" cy="1011.1" r="2.1"/><circle cx="492.6" cy="986.7" r="2.1"/><circle cx="370.8" cy="1014.6" r="2.1"/><circle cx="399.4" cy="1010.4" r="2.1"/><circle cx="418" cy="1009.4" r="2.1"/><circle cx="529.7" cy="936.9" r="2.1"/><circle cx="383.8" cy="994.7" r="2.1"/><circle cx="353" cy="1013.6" r="2.1"/><circle cx="399.9" cy="1012.8" r="2.1"/><circle cx="373.7" cy="1016.4" r="2.1"/><circle cx="418" cy="1003.9" r="2.1"/><circle cx="421.8" cy="1008.4" r="2.1"/><circle cx="391" cy="996" r="2.1"/><circle cx="343.5" cy="1004.7" r="2.1"/><circle cx="598.4" cy="769.8" r="2.1"/><circle cx="418.3" cy="1010.8" r="2.1"/><circle cx="377" cy="991.5" r="2.1"/><circle cx="422.1" cy="1002.1" r="2.1"/><circle cx="395.7" cy="1013.1" r="2.1"/><circle cx="441.9" cy="1004.9" r="2.1"/><circle cx="387.6" cy="1010.7" r="2.1"/><circle cx="371.9" cy="1006.9" r="2.1"/><circle cx="392.8" cy="983.7" r="2.1"/><circle cx="377.3" cy="1011" r="2.1"/><circle cx="390.7" cy="1013" r="2.1"/><circle cx="411.9" cy="998.4" r="2.1"/><circle cx="512.9" cy="959.8" r="2.1"/><circle cx="481.3" cy="981.9" r="2.1"/><circle cx="431.7" cy="1006.1" r="2.1"/><circle cx="366.6" cy="1010.5" r="2.1"/><circle cx="336.9" cy="1009.5" r="2.1"/><circle cx="356.6" cy="1009.4" r="2.1"/><circle cx="550.9" cy="942.3" r="2.1"/><circle cx="447.6" cy="1001" r="2.1"/><circle cx="390.1" cy="1012.1" r="2.1"/><circle cx="394.8" cy="1008" r="2.1"/><circle cx="468.3" cy="986.5" r="2.1"/><circle cx="442.6" cy="1000.5" r="2.1"/><circle cx="388.4" cy="984.1" r="2.1"/><circle cx="416.9" cy="999.9" r="2.1"/><circle cx="523.4" cy="926.5" r="2.1"/><circle cx="445.9" cy="968.4" r="2.1"/><circle cx="415.8" cy="970.1" r="2.1"/><circle cx="552.3" cy="836.1" r="2.1"/><circle cx="385.1" cy="1007.2" r="2.1"/><circle cx="435.2" cy="982.4" r="2.1"/><circle cx="345.9" cy="1003.8" r="2.1"/><circle cx="396.9" cy="1002" r="2.1"/><circle cx="469.6" cy="996.9" r="2.1"/><circle cx="369.5" cy="1014.2" r="2.1"/><circle cx="419.3" cy="1010.7" r="2.1"/><circle cx="371.2" cy="994" r="2.1"/><circle cx="408" cy="1007.8" r="2.1"/><circle cx="413.4" cy="1011.4" r="2.1"/><circle cx="453.4" cy="996.9" r="2.1"/><circle cx="441.4" cy="997.7" r="2.1"/><circle cx="385.8" cy="982.3" r="2.1"/><circle cx="387.3" cy="1011.1" r="2.1"/><circle cx="449.8" cy="958.2" r="2.1"/><circle cx="407.9" cy="1010.5" r="2.1"/><circle cx="497.1" cy="988.1" r="2.1"/><circle cx="432.6" cy="1003.9" r="2.1"/><circle cx="447.7" cy="930.7" r="2.1"/><circle cx="463.4" cy="997.4" r="2.1"/><circle cx="469.7" cy="984.1" r="2.1"/><circle cx="361.3" cy="1006.4" r="2.1"/><circle cx="454" cy="978.5" r="2.1"/><circle cx="369.1" cy="1010.6" r="2.1"/><circle cx="360.6" cy="1010.4" r="2.1"/><circle cx="378" cy="1007.9" r="2.1"/><circle cx="373.8" cy="1013.9" r="2.1"/><circle cx="349.8" cy="1017.9" r="2.1"/><circle cx="429.5" cy="990.7" r="2.1"/><circle cx="398.7" cy="972.9" r="2.1"/><circle cx="335.2" cy="1019.2" r="2.1"/><circle cx="416.1" cy="964.6" r="2.1"/><circle cx="533.3" cy="880.1" r="2.1"/><circle cx="416.4" cy="962.2" r="2.1"/><circle cx="400.1" cy="1012.1" r="2.1"/><circle cx="518" cy="969.1" r="2.1"/><circle cx="388.6" cy="1008.8" r="2.1"/><circle cx="319.5" cy="1016.1" r="2.1"/><circle cx="444.6" cy="989.6" r="2.1"/><circle cx="459.6" cy="974.8" r="2.1"/><circle cx="453.8" cy="994.4" r="2.1"/><circle cx="402.5" cy="1004.8" r="2.1"/><circle cx="382.7" cy="1015.4" r="2.1"/><circle cx="448.6" cy="980.6" r="2.1"/><circle cx="552.4" cy="953.9" r="2.1"/><circle cx="393.1" cy="1012.7" r="2.1"/><circle cx="382.3" cy="1006" r="2.1"/><circle cx="437.7" cy="1006.9" r="2.1"/><circle cx="376.7" cy="1009" r="2.1"/><circle cx="453.1" cy="979.3" r="2.1"/><circle cx="438.2" cy="1000.7" r="2.1"/><circle cx="431.4" cy="987.2" r="2.1"/><circle cx="464.5" cy="998.5" r="2.1"/><circle cx="460.6" cy="931.9" r="2.1"/><circle cx="430.8" cy="1004.6" r="2.1"/><circle cx="426.5" cy="1007.4" r="2.1"/><circle cx="363.5" cy="1008.5" r="2.1"/><circle cx="415.9" cy="981.6" r="2.1"/><circle cx="489.3" cy="979.8" r="2.1"/><circle cx="348" cy="1017.7" r="2.1"/><circle cx="546.1" cy="929.6" r="2.1"/><circle cx="544.2" cy="917" r="2.1"/><circle cx="375.8" cy="1015.9" r="2.1"/><circle cx="326.3" cy="1013.1" r="2.1"/><circle cx="385.2" cy="1009.3" r="2.1"/><circle cx="365.1" cy="1013" r="2.1"/><circle cx="440.3" cy="980" r="2.1"/><circle cx="413.2" cy="970" r="2.1"/><circle cx="440.2" cy="995" r="2.1"/><circle cx="421.9" cy="980.7" r="2.1"/><circle cx="365.4" cy="1005.9" r="2.1"/><circle cx="406.9" cy="1009.1" r="2.1"/><circle cx="444.6" cy="997.2" r="2.1"/><circle cx="389.5" cy="1009" r="2.1"/><circle cx="384.1" cy="1013.5" r="2.1"/><circle cx="390.5" cy="993.1" r="2.1"/><circle cx="385.3" cy="1013.9" r="2.1"/><circle cx="384.9" cy="1001.3" r="2.1"/><circle cx="448.5" cy="1000" r="2.1"/><circle cx="369.2" cy="998.9" r="2.1"/><circle cx="427.1" cy="984.6" r="2.1"/><circle cx="428.9" cy="999.9" r="2.1"/><circle cx="447.8" cy="995.9" r="2.1"/><circle cx="375.9" cy="1013" r="2.1"/><circle cx="373.7" cy="1010.8" r="2.1"/><circle cx="508.5" cy="958.1" r="2.1"/><circle cx="570.1" cy="868.8" r="2.1"/><circle cx="452.6" cy="985.1" r="2.1"/><circle cx="401.7" cy="972.3" r="2.1"/><circle cx="421.9" cy="978.2" r="2.1"/><circle cx="466.3" cy="995.2" r="2.1"/><circle cx="500.8" cy="976.4" r="2.1"/><circle cx="450.8" cy="997.8" r="2.1"/><circle cx="381.1" cy="1003.1" r="2.1"/><circle cx="504.2" cy="927.3" r="2.1"/><circle cx="393.4" cy="1006.9" r="2.1"/><circle cx="381.2" cy="997" r="2.1"/><circle cx="375.1" cy="1010.5" r="2.1"/><circle cx="394.8" cy="1006.3" r="2.1"/><circle cx="421.8" cy="1004.9" r="2.1"/><circle cx="418.2" cy="966.1" r="2.1"/><circle cx="395.2" cy="1012.4" r="2.1"/><circle cx="387.4" cy="1002.8" r="2.1"/><circle cx="451" cy="986.5" r="2.1"/><circle cx="403.7" cy="1006.9" r="2.1"/><circle cx="434.6" cy="1006.5" r="2.1"/><circle cx="329" cy="1016.7" r="2.1"/><circle cx="476.4" cy="982.9" r="2.1"/><circle cx="397.5" cy="1003.2" r="2.1"/><circle cx="377.6" cy="997.7" r="2.1"/><circle cx="369.2" cy="1013.6" r="2.1"/><circle cx="532.5" cy="960.9" r="2.1"/><circle cx="363.3" cy="1013.8" r="2.1"/><circle cx="590.4" cy="903.2" r="2.1"/><circle cx="481.6" cy="995" r="2.1"/><circle cx="443" cy="932.1" r="2.1"/><circle cx="446.8" cy="1001.1" r="2.1"/><circle cx="350.4" cy="1016.8" r="2.1"/><circle cx="431.5" cy="986.8" r="2.1"/><circle cx="348.2" cy="1010.5" r="2.1"/><circle cx="513.9" cy="968.4" r="2.1"/><circle cx="350.1" cy="1013.2" r="2.1"/><circle cx="397.8" cy="1011.8" r="2.1"/><circle cx="539.1" cy="856.8" r="2.1"/><circle cx="363.7" cy="1008.3" r="2.1"/><circle cx="417.7" cy="996.3" r="2.1"/><circle cx="395.4" cy="979.5" r="2.1"/><circle cx="382.1" cy="1011.5" r="2.1"/><circle cx="554.2" cy="820.9" r="2.1"/><circle cx="335" cy="1018" r="2.1"/><circle cx="406.2" cy="1007.7" r="2.1"/><circle cx="417.6" cy="964.6" r="2.1"/><circle cx="457.6" cy="996.4" r="2.1"/><circle cx="380.3" cy="985.7" r="2.1"/><circle cx="433.6" cy="1006.4" r="2.1"/><circle cx="495.8" cy="986.3" r="2.1"/><circle cx="406.5" cy="1009.5" r="2.1"/><circle cx="372.6" cy="1015.9" r="2.1"/><circle cx="391.8" cy="1013.7" r="2.1"/><circle cx="501.7" cy="887.1" r="2.1"/><circle cx="393.1" cy="1012.6" r="2.1"/><circle cx="386.7" cy="1003.5" r="2.1"/><circle cx="371.9" cy="1002.2" r="2.1"/><circle cx="442.1" cy="994.7" r="2.1"/><circle cx="451.7" cy="1004.4" r="2.1"/><circle cx="592.8" cy="885.5" r="2.1"/><circle cx="374.5" cy="1014.2" r="2.1"/><circle cx="381.1" cy="996.4" r="2.1"/><circle cx="417.3" cy="989.9" r="2.1"/><circle cx="481.7" cy="979.8" r="2.1"/><circle cx="380.9" cy="1004.6" r="2.1"/><circle cx="355.9" cy="1010.6" r="2.1"/><circle cx="367.9" cy="1016.8" r="2.1"/><circle cx="447.5" cy="995.6" r="2.1"/><circle cx="514.2" cy="971.5" r="2.1"/><circle cx="375.3" cy="1015.4" r="2.1"/><circle cx="448.5" cy="987.8" r="2.1"/><circle cx="480.3" cy="951.3" r="2.1"/><circle cx="379.1" cy="1006.4" r="2.1"/><circle cx="384.4" cy="1010.1" r="2.1"/><circle cx="374.1" cy="1005.9" r="2.1"/><circle cx="405.6" cy="1011.8" r="2.1"/><circle cx="353.1" cy="1015.4" r="2.1"/><circle cx="360.2" cy="997.8" r="2.1"/><circle cx="404.1" cy="968.7" r="2.1"/><circle cx="525.8" cy="969.4" r="2.1"/><circle cx="408.5" cy="980.6" r="2.1"/><circle cx="450.3" cy="996.4" r="2.1"/><circle cx="390.7" cy="1011.1" r="2.1"/><circle cx="469.8" cy="987.6" r="2.1"/><circle cx="490.2" cy="969.8" r="2.1"/><circle cx="402.1" cy="1003.9" r="2.1"/><circle cx="422.1" cy="985.5" r="2.1"/><circle cx="426.2" cy="987.7" r="2.1"/><circle cx="355.7" cy="1017" r="2.1"/><circle cx="366.4" cy="1011.8" r="2.1"/><circle cx="368.8" cy="994.4" r="2.1"/><circle cx="374.8" cy="1012.1" r="2.1"/><circle cx="401" cy="1012.5" r="2.1"/><circle cx="434.9" cy="996.7" r="2.1"/><circle cx="461.9" cy="985.3" r="2.1"/><circle cx="419.1" cy="1009" r="2.1"/><circle cx="413.2" cy="1010" r="2.1"/><circle cx="494.5" cy="921.8" r="2.1"/><circle cx="380.7" cy="1012.2" r="2.1"/><circle cx="499.4" cy="979.2" r="2.1"/><circle cx="475.1" cy="993.8" r="2.1"/><circle cx="452" cy="1000.6" r="2.1"/><circle cx="373.1" cy="1015.3" r="2.1"/><circle cx="383.5" cy="1015.1" r="2.1"/><circle cx="377.7" cy="988.9" r="2.1"/><circle cx="410.6" cy="988.4" r="2.1"/><circle cx="427.4" cy="988.1" r="2.1"/><circle cx="414.3" cy="1003.4" r="2.1"/><circle cx="493.9" cy="990.5" r="2.1"/><circle cx="549.6" cy="839.9" r="2.1"/><circle cx="341.3" cy="1006.2" r="2.1"/><circle cx="568.8" cy="914.3" r="2.1"/><circle cx="593.8" cy="833.7" r="2.1"/><circle cx="373.7" cy="1010.7" r="2.1"/><circle cx="483.3" cy="981.6" r="2.1"/><circle cx="400.3" cy="1007.3" r="2.1"/><circle cx="511.2" cy="979.3" r="2.1"/><circle cx="406.6" cy="993.5" r="2.1"/><circle cx="366.7" cy="1005.1" r="2.1"/><circle cx="379.1" cy="1012.3" r="2.1"/><circle cx="406.9" cy="1005.6" r="2.1"/><circle cx="439.3" cy="998.3" r="2.1"/><circle cx="456" cy="987.4" r="2.1"/><circle cx="464" cy="982.6" r="2.1"/><circle cx="470.8" cy="978.4" r="2.1"/><circle cx="549.4" cy="898.2" r="2.1"/><circle cx="365.8" cy="1014.7" r="2.1"/><circle cx="473.5" cy="937.7" r="2.1"/><circle cx="327.7" cy="1009" r="2.1"/><circle cx="437.7" cy="994.5" r="2.1"/><circle cx="359.7" cy="1012.7" r="2.1"/><circle cx="409.7" cy="1001.1" r="2.1"/><circle cx="429.9" cy="984.4" r="2.1"/><circle cx="401" cy="999.9" r="2.1"/><circle cx="358.3" cy="1015.7" r="2.1"/><circle cx="408.8" cy="1009.7" r="2.1"/><circle cx="380.9" cy="981.5" r="2.1"/><circle cx="446" cy="982.2" r="2.1"/><circle cx="451.4" cy="998.8" r="2.1"/><circle cx="434.8" cy="1000" r="2.1"/><circle cx="319.5" cy="1007.9" r="2.1"/><circle cx="351.4" cy="1008.3" r="2.1"/><circle cx="439.3" cy="987.4" r="2.1"/><circle cx="418.7" cy="983.9" r="2.1"/><circle cx="350.5" cy="1015" r="2.1"/><circle cx="478.4" cy="984" r="2.1"/><circle cx="363.7" cy="1009.4" r="2.1"/><circle cx="516.6" cy="959.8" r="2.1"/><circle cx="424.1" cy="1009.9" r="2.1"/><circle cx="406.7" cy="974.3" r="2.1"/><circle cx="391.9" cy="1012.1" r="2.1"/><circle cx="440.4" cy="999" r="2.1"/><circle cx="387" cy="1005.7" r="2.1"/><circle cx="459.1" cy="998" r="2.1"/><circle cx="496.7" cy="953.9" r="2.1"/><circle cx="599.2" cy="841.4" r="2.1"/><circle cx="483" cy="982.5" r="2.1"/><circle cx="398.3" cy="1013.4" r="2.1"/><circle cx="383.9" cy="992.6" r="2.1"/><circle cx="436.5" cy="1002.2" r="2.1"/><circle cx="449.4" cy="995.7" r="2.1"/><circle cx="390.1" cy="1010" r="2.1"/><circle cx="441.1" cy="959.6" r="2.1"/><circle cx="428.6" cy="1000.5" r="2.1"/><circle cx="367.9" cy="1009.7" r="2.1"/><circle cx="363.6" cy="1014.8" r="2.1"/><circle cx="465.9" cy="947.6" r="2.1"/><circle cx="436.3" cy="951.2" r="2.1"/><circle cx="417" cy="1000.9" r="2.1"/><circle cx="399.7" cy="1009" r="2.1"/><circle cx="435.7" cy="967.3" r="2.1"/><circle cx="364.4" cy="989.3" r="2.1"/><circle cx="456.1" cy="994.3" r="2.1"/><circle cx="370.9" cy="1010.5" r="2.1"/><circle cx="370.2" cy="1010.2" r="2.1"/><circle cx="417.1" cy="994.4" r="2.1"/><circle cx="347.2" cy="1017.7" r="2.1"/><circle cx="398.8" cy="994.9" r="2.1"/><circle cx="427.5" cy="988.4" r="2.1"/><circle cx="368.1" cy="1007.8" r="2.1"/><circle cx="539.5" cy="934.7" r="2.1"/><circle cx="378" cy="1013.2" r="2.1"/><circle cx="405.8" cy="990.7" r="2.1"/><circle cx="395.9" cy="1003.8" r="2.1"/><circle cx="412.7" cy="1007.9" r="2.1"/><circle cx="390.6" cy="1011.4" r="2.1"/><circle cx="357.6" cy="1002.4" r="2.1"/><circle cx="360" cy="1006.8" r="2.1"/><circle cx="481.1" cy="908.7" r="2.1"/><circle cx="360.6" cy="1015.8" r="2.1"/><circle cx="372.7" cy="1005.5" r="2.1"/><circle cx="542" cy="910.9" r="2.1"/><circle cx="391.4" cy="1013.3" r="2.1"/><circle cx="620.9" cy="852.1" r="2.1"/><circle cx="536.5" cy="888.4" r="2.1"/><circle cx="371.7" cy="1005" r="2.1"/><circle cx="357.5" cy="1013.8" r="2.1"/><circle cx="404" cy="985.5" r="2.1"/><circle cx="386" cy="1004.2" r="2.1"/><circle cx="367.4" cy="1005.4" r="2.1"/><circle cx="441.9" cy="1005.9" r="2.1"/><circle cx="537.8" cy="852.3" r="2.1"/><circle cx="431.2" cy="1007.9" r="2.1"/><circle cx="384.1" cy="1010.8" r="2.1"/><circle cx="361.5" cy="1015" r="2.1"/><circle cx="494.5" cy="937.1" r="2.1"/><circle cx="396.2" cy="991.4" r="2.1"/><circle cx="405.5" cy="979.1" r="2.1"/><circle cx="521.6" cy="935.3" r="2.1"/><circle cx="343.7" cy="1001.3" r="2.1"/><circle cx="397" cy="996.2" r="2.1"/><circle cx="414.8" cy="1005.9" r="2.1"/><circle cx="476.7" cy="952.9" r="2.1"/><circle cx="370.8" cy="999.3" r="2.1"/><circle cx="415.4" cy="960.8" r="2.1"/><circle cx="382.4" cy="1013.7" r="2.1"/><circle cx="383" cy="1012.2" r="2.1"/><circle cx="454.6" cy="964" r="2.1"/><circle cx="457.8" cy="983.5" r="2.1"/><circle cx="466.5" cy="982.4" r="2.1"/><circle cx="521.6" cy="963" r="2.1"/><circle cx="376.4" cy="1014" r="2.1"/><circle cx="476.9" cy="993.9" r="2.1"/><circle cx="413.4" cy="1010.1" r="2.1"/><circle cx="391" cy="1006.3" r="2.1"/><circle cx="423.7" cy="951.3" r="2.1"/><circle cx="454" cy="940.5" r="2.1"/><circle cx="478.5" cy="956.6" r="2.1"/><circle cx="589.6" cy="762.9" r="2.1"/><circle cx="444.8" cy="995.1" r="2.1"/><circle cx="361.9" cy="990.4" r="2.1"/><circle cx="442.9" cy="977.8" r="2.1"/><circle cx="550.6" cy="942.2" r="2.1"/><circle cx="511" cy="883.4" r="2.1"/><circle cx="477.1" cy="991.4" r="2.1"/><circle cx="362.9" cy="1011.2" r="2.1"/><circle cx="420.2" cy="1010.1" r="2.1"/><circle cx="583.4" cy="799" r="2.1"/><circle cx="415.1" cy="1011.1" r="2.1"/><circle cx="405.2" cy="1008.4" r="2.1"/><circle cx="579.6" cy="826.8" r="2.1"/><circle cx="431.2" cy="1007.9" r="2.1"/><circle cx="490.7" cy="969.2" r="2.1"/><circle cx="545.5" cy="925" r="2.1"/><circle cx="475.2" cy="967.3" r="2.1"/><circle cx="380.4" cy="1009.6" r="2.1"/><circle cx="372.3" cy="1002.7" r="2.1"/><circle cx="444.5" cy="997.2" r="2.1"/><circle cx="371.3" cy="1013.9" r="2.1"/><circle cx="388.3" cy="978.3" r="2.1"/><circle cx="360.5" cy="1007.5" r="2.1"/><circle cx="416.1" cy="995.1" r="2.1"/><circle cx="371.1" cy="987" r="2.1"/><circle cx="534.2" cy="881.4" r="2.1"/><circle cx="436.1" cy="1003.7" r="2.1"/><circle cx="505.6" cy="980" r="2.1"/><circle cx="428" cy="1006.7" r="2.1"/><circle cx="319.5" cy="1019.7" r="2.1"/><circle cx="419.7" cy="997.3" r="2.1"/><circle cx="373.7" cy="998.4" r="2.1"/><circle cx="363.8" cy="997.1" r="2.1"/><circle cx="405.9" cy="1004" r="2.1"/><circle cx="402.8" cy="1010" r="2.1"/><circle cx="556.3" cy="927.8" r="2.1"/><circle cx="433.9" cy="1005.2" r="2.1"/><circle cx="409.9" cy="1008.1" r="2.1"/><circle cx="485.5" cy="987.6" r="2.1"/><circle cx="393.9" cy="982.4" r="2.1"/><circle cx="475.9" cy="978.7" r="2.1"/><circle cx="357.4" cy="1003.6" r="2.1"/><circle cx="470.9" cy="938.7" r="2.1"/><circle cx="553.6" cy="909.8" r="2.1"/><circle cx="582.5" cy="833.4" r="2.1"/><circle cx="443.7" cy="994.4" r="2.1"/><circle cx="380.8" cy="1011.5" r="2.1"/><circle cx="368.6" cy="1016.7" r="2.1"/><circle cx="425.9" cy="1009.1" r="2.1"/><circle cx="532.4" cy="970.5" r="2.1"/><circle cx="453.8" cy="982.1" r="2.1"/><circle cx="443.1" cy="990.8" r="2.1"/><circle cx="405.8" cy="999.3" r="2.1"/><circle cx="384.9" cy="1013.2" r="2.1"/><circle cx="452.3" cy="924.8" r="2.1"/><circle cx="443.7" cy="984.4" r="2.1"/><circle cx="395.2" cy="1012.3" r="2.1"/><circle cx="441.1" cy="998.5" r="2.1"/><circle cx="555.2" cy="841.2" r="2.1"/><circle cx="522" cy="900.4" r="2.1"/><circle cx="453.6" cy="1002.8" r="2.1"/><circle cx="429.2" cy="996.9" r="2.1"/><circle cx="401.2" cy="976.4" r="2.1"/><circle cx="446.9" cy="986" r="2.1"/><circle cx="504.4" cy="914.1" r="2.1"/><circle cx="548.3" cy="957.6" r="2.1"/><circle cx="380.3" cy="998.1" r="2.1"/><circle cx="449.2" cy="977.6" r="2.1"/><circle cx="384" cy="1015" r="2.1"/><circle cx="388.2" cy="1012.4" r="2.1"/><circle cx="384" cy="1015" r="2.1"/><circle cx="422.9" cy="1006.8" r="2.1"/><circle cx="366.9" cy="1010.2" r="2.1"/><circle cx="446.5" cy="943.8" r="2.1"/><circle cx="501.7" cy="970.6" r="2.1"/><circle cx="428.3" cy="960" r="2.1"/><circle cx="502.6" cy="961.1" r="2.1"/><circle cx="431.5" cy="994.6" r="2.1"/><circle cx="413.2" cy="972.2" r="2.1"/><circle cx="450.3" cy="999.5" r="2.1"/><circle cx="482" cy="982.9" r="2.1"/><circle cx="378.4" cy="1014.5" r="2.1"/><circle cx="456.3" cy="958.8" r="2.1"/><circle cx="422.8" cy="980.2" r="2.1"/><circle cx="382.1" cy="1012.4" r="2.1"/><circle cx="414.8" cy="991.8" r="2.1"/><circle cx="463" cy="972.8" r="2.1"/><circle cx="471.3" cy="981.1" r="2.1"/><circle cx="551.6" cy="927.7" r="2.1"/><circle cx="382.6" cy="1014.3" r="2.1"/><circle cx="353.5" cy="1015.5" r="2.1"/><circle cx="374.6" cy="1006" r="2.1"/><circle cx="381.2" cy="1012.2" r="2.1"/><circle cx="523.2" cy="963.9" r="2.1"/><circle cx="544.2" cy="960.2" r="2.1"/><circle cx="362.3" cy="1014.6" r="2.1"/><circle cx="478.8" cy="923.1" r="2.1"/><circle cx="403.4" cy="1000.8" r="2.1"/><circle cx="381" cy="1012.9" r="2.1"/><circle cx="438.2" cy="994.5" r="2.1"/><circle cx="371.1" cy="1013.9" r="2.1"/><circle cx="386.7" cy="1008.3" r="2.1"/><circle cx="343.8" cy="1013.2" r="2.1"/><circle cx="422.2" cy="996.1" r="2.1"/><circle cx="323.7" cy="1019.5" r="2.1"/><circle cx="372.2" cy="996.6" r="2.1"/><circle cx="418.3" cy="963.6" r="2.1"/><circle cx="464.2" cy="988" r="2.1"/><circle cx="376" cy="1015.9" r="2.1"/><circle cx="607.3" cy="882.8" r="2.1"/><circle cx="390.3" cy="982.6" r="2.1"/><circle cx="334.9" cy="1018.3" r="2.1"/><circle cx="453.3" cy="953.7" r="2.1"/><circle cx="525" cy="975" r="2.1"/><circle cx="430.7" cy="997.8" r="2.1"/><circle cx="378.9" cy="1011" r="2.1"/><circle cx="471" cy="991.2" r="2.1"/><circle cx="350.1" cy="1013.8" r="2.1"/><circle cx="356" cy="1006.7" r="2.1"/><circle cx="470.8" cy="995" r="2.1"/><circle cx="453.9" cy="999" r="2.1"/><circle cx="562.2" cy="936.8" r="2.1"/><circle cx="374" cy="1015.5" r="2.1"/><circle cx="396.7" cy="992.4" r="2.1"/><circle cx="461.7" cy="1001.4" r="2.1"/><circle cx="410.3" cy="1011.7" r="2.1"/><circle cx="389.4" cy="985.7" r="2.1"/><circle cx="378" cy="983.4" r="2.1"/><circle cx="455" cy="954.7" r="2.1"/><circle cx="362.6" cy="1009.7" r="2.1"/><circle cx="340.2" cy="1017.7" r="2.1"/><circle cx="481.2" cy="979.7" r="2.1"/><circle cx="430.9" cy="957.7" r="2.1"/><circle cx="386.8" cy="1012" r="2.1"/><circle cx="397.8" cy="1013.6" r="2.1"/><circle cx="429" cy="995.3" r="2.1"/><circle cx="420.5" cy="964.9" r="2.1"/><circle cx="429" cy="969.2" r="2.1"/><circle cx="395" cy="995.6" r="2.1"/><circle cx="517.7" cy="969.8" r="2.1"/><circle cx="431.7" cy="977" r="2.1"/><circle cx="390.7" cy="989" r="2.1"/><circle cx="416.6" cy="1005.3" r="2.1"/><circle cx="358.5" cy="1006" r="2.1"/><circle cx="389" cy="1012.8" r="2.1"/><circle cx="410.2" cy="1011.1" r="2.1"/><circle cx="517.2" cy="979.6" r="2.1"/><circle cx="440.5" cy="994.8" r="2.1"/><circle cx="434.9" cy="1001.1" r="2.1"/><circle cx="392.8" cy="1010.9" r="2.1"/><circle cx="350.5" cy="1007" r="2.1"/><circle cx="383.8" cy="999.5" r="2.1"/><circle cx="392.8" cy="1005.1" r="2.1"/><circle cx="470" cy="997.2" r="2.1"/><circle cx="354.3" cy="1015.5" r="2.1"/><circle cx="485" cy="988.7" r="2.1"/><circle cx="439" cy="950.3" r="2.1"/><circle cx="498.1" cy="976.6" r="2.1"/><circle cx="381.6" cy="1010.7" r="2.1"/><circle cx="398.1" cy="996.2" r="2.1"/><circle cx="375.7" cy="1015.2" r="2.1"/><circle cx="379.5" cy="1012.4" r="2.1"/><circle cx="681.5" cy="697.5" r="2.1"/><circle cx="645.5" cy="746.5" r="2.1"/><circle cx="628" cy="741" r="2.1"/><circle cx="610" cy="801" r="2.1"/><circle cx="622" cy="823" r="2.1"/><circle cx="596" cy="806" r="2.1"/>
</g>
<g fill="#00ff00">
<circle cx="359.1" cy="983" r="2.1"/><circle cx="452.7" cy="903.7" r="2.1"/><circle cx="339.6" cy="994.8" r="2.1"/><circle cx="352" cy="971.6" r="2.1"/><circle cx="366.3" cy="971.4" r="2.1"/><circle cx="360.4" cy="987.7" r="2.1"/><circle cx="412.8" cy="951.5" r="2.1"/><circle cx="378.9" cy="980.5" r="2.1"/><circle cx="441.8" cy="898.1" r="2.1"/><circle cx="422.8" cy="904.5" r="2.1"/><circle cx="369.6" cy="967.9" r="2.1"/><circle cx="329.8" cy="993.1" r="2.1"/><circle cx="389" cy="954.7" r="2.1"/><circle cx="415.3" cy="950.1" r="2.1"/><circle cx="429.2" cy="943.1" r="2.1"/><circle cx="473.9" cy="877.4" r="2.1"/><circle cx="397.1" cy="954.6" r="2.1"/><circle cx="329" cy="997.8" r="2.1"/><circle cx="421.7" cy="945.5" r="2.1"/><circle cx="334.1" cy="996.7" r="2.1"/><circle cx="398.9" cy="970.2" r="2.1"/><circle cx="375.2" cy="977.8" r="2.1"/><circle cx="352.5" cy="990.7" r="2.1"/><circle cx="349.1" cy="993.4" r="2.1"/><circle cx="371" cy="977.2" r="2.1"/><circle cx="383.5" cy="970.4" r="2.1"/><circle cx="333" cy="999" r="2.1"/><circle cx="480.7" cy="761.5" r="2.1"/><circle cx="429" cy="935.6" r="2.1"/><circle cx="375.6" cy="971.3" r="2.1"/><circle cx="328.2" cy="999.3" r="2.1"/><circle cx="404.1" cy="962.9" r="2.1"/><circle cx="338.7" cy="994.4" r="2.1"/><circle cx="416.8" cy="932.4" r="2.1"/><circle cx="423.7" cy="920.6" r="2.1"/><circle cx="334.5" cy="986.9" r="2.1"/><circle cx="391.1" cy="974.9" r="2.1"/><circle cx="347.6" cy="982.1" r="2.1"/><circle cx="385.7" cy="968.5" r="2.1"/><circle cx="367.8" cy="985.4" r="2.1"/><circle cx="410.4" cy="958.8" r="2.1"/><circle cx="347.1" cy="993.4" r="2.1"/><circle cx="397" cy="970.9" r="2.1"/><circle cx="338.5" cy="995.2" r="2.1"/><circle cx="402.2" cy="960.2" r="2.1"/><circle cx="412.1" cy="946.7" r="2.1"/><circle cx="377.6" cy="974.6" r="2.1"/><circle cx="389.4" cy="974.1" r="2.1"/><circle cx="366.8" cy="970.7" r="2.1"/><circle cx="358.7" cy="990.2" r="2.1"/><circle cx="397.6" cy="958.9" r="2.1"/><circle cx="438.2" cy="928" r="2.1"/><circle cx="351.1" cy="960.9" r="2.1"/>
</g>
<g fill="#000">
<path d="M317.6 1005.2l6.7 8.8l-6.7 8.8l-6.7-8.8z"/>
<path d="M344.8 1003.7l6.7 8.8l-6.7 8.8l-6.7-8.8z"/>
<path d="M370.5 1001.7l6.7 8.8l-6.7 8.8l-6.7-8.8z"/>
<path d="M397 998.2l6.7 8.8l-6.7 8.8l-6.7-8.8z"/>
<path d="M424.2 994.7l6.7 8.8l-6.7 8.8l-6.7-8.8z"/>
<path d="M451.1 990.3l6.7 8.8l-6.7 8.8l-6.7-8.8z"/>
<path d="M477.6 985.3l6.7 8.8l-6.7 8.8l-6.7-8.8z"/>
<path d="M504.6 977.2l6.7 8.8l-6.7 8.8l-6.7-8.8z"/>
<path d="M531 963.7l6.7 8.8l-6.7 8.8l-6.7-8.8z"/>
<path d="M557.5 947.8l6.7 8.8l-6.7 8.8l-6.7-8.8z"/>
<path d="M584 916.2l6.7 8.8l-6.7 8.8l-6.7-8.8z"/>
<path d="M610.4 926.3l6.7 8.8l-6.7 8.8l-6.7-8.8z"/>
<path d="M638.7 883.1l6.7 8.8l-6.7 8.8l-6.7-8.8z"/>
<path d="M664 885l6.7 8.8l-6.7 8.8l-6.7-8.8z"/>
<path d="M690.9 816.9l6.7 8.8l-6.7 8.8l-6.7-8.8z"/>
</g>
<g fill="#00a600">
<path d="M317.6 981.5l6.7 8.8l-6.7 8.8l-6.7-8.8z"/>
<path d="M344.8 959.6l6.7 8.8l-6.7 8.8l-6.7-8.8z"/>
<path d="M370.5 959.6l6.7 8.8l-6.7 8.8l-6.7-8.8z"/>
<path d="M397 936.2l6.7 8.8l-6.7 8.8l-6.7-8.8z"/>
<path d="M424.2 921.6l6.7 8.8l-6.7 8.8l-6.7-8.8z"/>
<path d="M451.1 880.2l6.7 8.8l-6.7 8.8l-6.7-8.8z"/>
<path d="M477.6 829.2l6.7 8.8l-6.7 8.8l-6.7-8.8z"/>
</g>
<g fill="#a60000">
<path d="M317.6 1001.7l6.7 8.8l-6.7 8.8l-6.7-8.8z"/>
<path d="M344.8 1000.9l6.7 8.8l-6.7 8.8l-6.7-8.8z"/>
<path d="M370.5 999.2l6.7 8.8l-6.7 8.8l-6.7-8.8z"/>
<path d="M397 989.8l6.7 8.8l-6.7 8.8l-6.7-8.8z"/>
<path d="M424.2 984l6.7 8.8l-6.7 8.8l-6.7-8.8z"/>
<path d="M451.1 972.7l6.7 8.8l-6.7 8.8l-6.7-8.8z"/>
<path d="M477.6 958.9l6.7 8.8l-6.7 8.8l-6.7-8.8z"/>
<path d="M504.6 947.2l6.7 8.8l-6.7 8.8l-6.7-8.8z"/>
<path d="M531 918.4l6.7 8.8l-6.7 8.8l-6.7-8.8z"/>
<path d="M557.5 883.2l6.7 8.8l-6.7 8.8l-6.7-8.8z"/>
<path d="M584 844.4l6.7 8.8l-6.7 8.8l-6.7-8.8z"/>
<path d="M610.4 837.6l6.7 8.8l-6.7 8.8l-6.7-8.8z"/>
<path d="M638 733.8l6.7 8.8l-6.7 8.8l-6.7-8.8z"/>
<path d="M664 728.9l6.7 8.8l-6.7 8.8l-6.7-8.8z"/>
<path d="M690.9 688.4l6.7 8.8l-6.7 8.8l-6.7-8.8z"/>
</g>
<g fill="#0000a6">
<path d="M317.6 1014.2l6.7 8.8l-6.7 8.8l-6.7-8.8z"/>
<path d="M344.8 1013.5l6.7 8.8l-6.7 8.8l-6.7-8.8z"/>
<path d="M370.5 1011.7l6.7 8.8l-6.7 8.8l-6.7-8.8z"/>
<path d="M397 1010.5l6.7 8.8l-6.7 8.8l-6.7-8.8z"/>
<path d="M424.2 1008l6.7 8.8l-6.7 8.8l-6.7-8.8z"/>
<path d="M451.1 1004.2l6.7 8.8l-6.7 8.8l-6.7-8.8z"/>
<path d="M477.6 1000.4l6.7 8.8l-6.7 8.8l-6.7-8.8z"/>
<path d="M504.6 996.5l6.7 8.8l-6.7 8.8l-6.7-8.8z"/>
<path d="M531 987.4l6.7 8.8l-6.7 8.8l-6.7-8.8z"/>
<path d="M557.5 977.6l6.7 8.8l-6.7 8.8l-6.7-8.8z"/>
<path d="M584 960.9l6.7 8.8l-6.7 8.8l-6.7-8.8z"/>
<path d="M610.4 946.4l6.7 8.8l-6.7 8.8l-6.7-8.8z"/>
<path d="M638.7 921.6l6.7 8.8l-6.7 8.8l-6.7-8.8z"/>
<path d="M664 923.9l6.7 8.8l-6.7 8.8l-6.7-8.8z"/>
<path d="M690.9 859.6l6.7 8.8l-6.7 8.8l-6.7-8.8z"/>
<path d="M718 900.8l6.7 8.8l-6.7 8.8l-6.7-8.8z"/>
</g>
<polyline points="316.9,980.5 323.1,978.6 329.3,976.5 335.5,974.5 341.7,972.3 347.9,970 354.1,967.6 360.2,965.1 366.4,962.5 372.6,959.8 378.8,956.9 385,954 391.2,950.9 397.4,947.6 403.6,944.3 409.8,940.7 416,937 422.2,933.2 428.4,929.2 434.6,925 440.8,920.6 447,916 453.2,911.2 459.4,906.2 465.6,901 471.8,895.6 478,889.9 484.2,883.9 490.4,877.7 496.6,871.3 502.8,864.5 509,857.4 515.2,850 521.4,842.3 527.6,834.3 533.8,825.9 540,817.1 546.2,807.9 552.4,798.4 558.6,788.4 564.8,777.9 571,767 577.2,755.6 583.4,743.7 589.6,731.3 595.7,718.3 601.9,704.8 608.1,690.6 614.3,675.8 620.5,660.4 626.7,644.3 632.9,627.4 639.1,609.8" fill="none" stroke="#00a600" stroke-width="4.3" stroke-dasharray="15.5 17" stroke-linejoin="miter"/>
<polyline points="316.9,1013.5 323.1,1012.8 329.3,1012 335.5,1011.2 341.7,1010.4 347.9,1009.5 354.1,1008.6 360.2,1007.6 366.4,1006.5 372.6,1005.3 378.8,1004.1 385,1002.8 391.2,1001.4 397.4,999.9 403.6,998.3 409.8,996.6 416,994.8 422.2,992.8 428.4,990.8 434.6,988.6 440.8,986.2 447,983.7 453.2,981 459.4,978.2 465.6,975.1 471.8,971.9 478,968.4 484.2,964.7 490.4,960.8 496.6,956.6 502.8,952.1 509,947.3 515.2,942.2 521.4,936.8 527.6,931 533.8,924.8 540,918.2 546.2,911.2 552.4,903.7 558.6,895.7 564.8,887.1 571,878 577.2,868.3 583.4,857.9 589.6,846.9 595.7,835.1 601.9,822.5 608.1,809.1 614.3,794.8 620.5,779.5 626.7,763.2 632.9,745.8 639.1,727.3 645.3,707.6 651.5,686.5 657.7,664 663.9,640 670.1,614.4" fill="none" stroke="#a60000" stroke-width="4.3" stroke-dasharray="15.5 17" stroke-linejoin="miter"/>
<polyline points="316.9,1021.6 323.1,1021.5 329.3,1021.3 335.5,1021.1 341.7,1020.9 347.9,1020.7 354.1,1020.5 360.2,1020.2 366.4,1020 372.6,1019.7 378.8,1019.4 385,1019.1 391.2,1018.7 397.4,1018.3 403.6,1017.9 409.8,1017.5 416,1017.1 422.2,1016.6 428.4,1016 434.6,1015.4 440.8,1014.8 447,1014.2 453.2,1013.5 459.4,1012.7 465.6,1011.9 471.8,1011 478,1010.1 484.2,1009.1 490.4,1008 496.6,1006.8 502.8,1005.6 509,1004.2 515.2,1002.8 521.4,1001.2 527.6,999.6 533.8,997.8 540,995.9 546.2,993.8 552.4,991.6 558.6,989.2 564.8,986.7 571,983.9 577.2,981 583.4,977.8 589.6,974.5 595.7,970.8 601.9,966.9 608.1,962.7 614.3,958.2 620.5,953.4 626.7,948.2 632.9,942.7 639.1,936.7 645.3,930.3 651.5,923.4 657.7,916 663.9,908 670.1,899.5 676.3,890.4 682.5,880.5 688.7,870 694.9,858.7 701.1,846.5 707.3,833.4 713.5,819.4 719.7,804.4 725.9,788.2 732.1,770.8 738.3,752.2 744.5,732.2 750.7,710.7 756.9,687.7 763.1,662.9 769.3,636.4 775.5,607.8" fill="none" stroke="#0000a6" stroke-width="4.3" stroke-dasharray="15.5 17" stroke-linejoin="miter"/>
<polyline points="316.9,1015.6 323.1,1015.2 329.3,1014.7 335.5,1014.3 341.7,1013.8 347.9,1013.2 354.1,1012.7 360.2,1012.1 366.4,1011.4 372.6,1010.8 378.8,1010.1 385,1009.4 391.2,1008.6 397.4,1007.8 403.6,1006.9 409.8,1006 416,1005.1 422.2,1004.1 428.4,1003 434.6,1001.9 440.8,1000.8 447,999.5 453.2,998.3 459.4,996.9 465.6,995.5 471.8,994 478,992.4 484.2,990.7 490.4,988.9 496.6,987.1 502.8,985.1 509,983.1 515.2,980.9 521.4,978.6 527.6,976.2 533.8,973.7 540,971 546.2,968.2 552.4,965.2 558.6,962.1 564.8,958.8 571,955.4 577.2,951.7 583.4,947.9 589.6,943.9 595.7,939.6 601.9,935.1 608.1,930.4 614.3,925.4 620.5,920.2 626.7,914.7 632.9,908.9 639.1,902.8 645.3,896.3 651.5,889.5 657.7,882.4 663.9,874.9 670.1,867 676.3,858.6 682.5,849.8 688.7,840.6 694.9,830.8 701.1,820.5 707.3,809.7 713.5,798.3 719.7,786.3 725.9,773.7 732.1,760.4 738.3,746.3 744.5,731.6 750.7,716 756.9,699.6 763.1,682.4 769.3,664.2 775.5,645.1 781.7,624.9 787.9,603.7" fill="none" stroke="#000" stroke-width="4.3" stroke-dasharray="15.5 17" stroke-linejoin="miter"/>
</g>
<text x="567.5" y="746" font-size="20.83" text-anchor="start" fill="#00a600" transform="rotate(-58.5 567.5 746)">m=1.13</text>
<text x="600.5" y="794.5" font-size="20.83" text-anchor="start" fill="#a60000" transform="rotate(-61.5 600.5 794.5)">m=1.68</text>
<text x="712" y="791" font-size="20.83" text-anchor="start" fill="#0000a6" transform="rotate(-62 712 791)">m=1.85</text>
<text x="728.5" y="802" font-size="20.83" text-anchor="start" fill="#000" transform="rotate(-58 728.5 802)">m=1.35</text>
<text x="151.7" y="690.2" font-size="20.83" text-anchor="start" fill="#000" font-weight="bold">C)</text>
<text transform="translate(78.2 848.2) rotate(-90)" font-size="20.83" text-anchor="middle" fill="#000"><tspan>W</tspan><tspan font-size="17.5" dx="1.2" dy="8.2">s</tspan><tspan dx="1.2" dy="-8.2"> [mm s</tspan><tspan font-size="16.2" letter-spacing="0.8" dy="-9.6">-1</tspan><tspan dx="0.8" dy="9.6">]</tspan></text>
</g>
<g id="panelD">
<rect x="127.1" y="1073.5" width="808.5" height="361.4" fill="none" stroke="#262626" stroke-width="1.8"/>
<line x1="127.2" y1="1073.5" x2="127.2" y2="1064.7" stroke="#262626" stroke-width="1.8"/>
<line x1="239" y1="1073.5" x2="239" y2="1068.7" stroke="#262626" stroke-width="1.8"/>
<line x1="304.5" y1="1073.5" x2="304.5" y2="1068.7" stroke="#262626" stroke-width="1.8"/>
<line x1="350.9" y1="1073.5" x2="350.9" y2="1068.7" stroke="#262626" stroke-width="1.8"/>
<line x1="386.9" y1="1073.5" x2="386.9" y2="1068.7" stroke="#262626" stroke-width="1.8"/>
<line x1="416.3" y1="1073.5" x2="416.3" y2="1068.7" stroke="#262626" stroke-width="1.8"/>
<line x1="441.2" y1="1073.5" x2="441.2" y2="1068.7" stroke="#262626" stroke-width="1.8"/>
<line x1="462.7" y1="1073.5" x2="462.7" y2="1068.7" stroke="#262626" stroke-width="1.8"/>
<line x1="481.7" y1="1073.5" x2="481.7" y2="1068.7" stroke="#262626" stroke-width="1.8"/>
<line x1="498.7" y1="1073.5" x2="498.7" y2="1064.7" stroke="#262626" stroke-width="1.8"/>
<line x1="610.5" y1="1073.5" x2="610.5" y2="1068.7" stroke="#262626" stroke-width="1.8"/>
<line x1="676" y1="1073.5" x2="676" y2="1068.7" stroke="#262626" stroke-width="1.8"/>
<line x1="722.4" y1="1073.5" x2="722.4" y2="1068.7" stroke="#262626" stroke-width="1.8"/>
<line x1="758.4" y1="1073.5" x2="758.4" y2="1068.7" stroke="#262626" stroke-width="1.8"/>
<line x1="787.8" y1="1073.5" x2="787.8" y2="1068.7" stroke="#262626" stroke-width="1.8"/>
<line x1="812.7" y1="1073.5" x2="812.7" y2="1068.7" stroke="#262626" stroke-width="1.8"/>
<line x1="834.2" y1="1073.5" x2="834.2" y2="1068.7" stroke="#262626" stroke-width="1.8"/>
<line x1="853.2" y1="1073.5" x2="853.2" y2="1068.7" stroke="#262626" stroke-width="1.8"/>
<line x1="870.2" y1="1073.5" x2="870.2" y2="1064.7" stroke="#262626" stroke-width="1.8"/>
<line x1="127.2" y1="1434.9" x2="127.2" y2="1443.7" stroke="#262626" stroke-width="1.8"/>
<line x1="239" y1="1434.9" x2="239" y2="1439.7" stroke="#262626" stroke-width="1.8"/>
<line x1="304.5" y1="1434.9" x2="304.5" y2="1439.7" stroke="#262626" stroke-width="1.8"/>
<line x1="350.9" y1="1434.9" x2="350.9" y2="1439.7" stroke="#262626" stroke-width="1.8"/>
<line x1="386.9" y1="1434.9" x2="386.9" y2="1439.7" stroke="#262626" stroke-width="1.8"/>
<line x1="416.3" y1="1434.9" x2="416.3" y2="1439.7" stroke="#262626" stroke-width="1.8"/>
<line x1="441.2" y1="1434.9" x2="441.2" y2="1439.7" stroke="#262626" stroke-width="1.8"/>
<line x1="462.7" y1="1434.9" x2="462.7" y2="1439.7" stroke="#262626" stroke-width="1.8"/>
<line x1="481.7" y1="1434.9" x2="481.7" y2="1439.7" stroke="#262626" stroke-width="1.8"/>
<line x1="498.7" y1="1434.9" x2="498.7" y2="1443.7" stroke="#262626" stroke-width="1.8"/>
<line x1="610.5" y1="1434.9" x2="610.5" y2="1439.7" stroke="#262626" stroke-width="1.8"/>
<line x1="676" y1="1434.9" x2="676" y2="1439.7" stroke="#262626" stroke-width="1.8"/>
<line x1="722.4" y1="1434.9" x2="722.4" y2="1439.7" stroke="#262626" stroke-width="1.8"/>
<line x1="758.4" y1="1434.9" x2="758.4" y2="1439.7" stroke="#262626" stroke-width="1.8"/>
<line x1="787.8" y1="1434.9" x2="787.8" y2="1439.7" stroke="#262626" stroke-width="1.8"/>
<line x1="812.7" y1="1434.9" x2="812.7" y2="1439.7" stroke="#262626" stroke-width="1.8"/>
<line x1="834.2" y1="1434.9" x2="834.2" y2="1439.7" stroke="#262626" stroke-width="1.8"/>
<line x1="853.2" y1="1434.9" x2="853.2" y2="1439.7" stroke="#262626" stroke-width="1.8"/>
<line x1="870.2" y1="1434.9" x2="870.2" y2="1443.7" stroke="#262626" stroke-width="1.8"/>
<text x="133" y="1472.7" font-size="20.83" text-anchor="middle" fill="#262626">10</text>
<text x="501.6" y="1472.7" font-size="20.83" text-anchor="middle" fill="#262626">100</text>
<text x="870.2" y="1472.7" font-size="20.83" text-anchor="middle" fill="#262626">1000</text>
<line x1="127.1" y1="1434.9" x2="118.2" y2="1434.9" stroke="#262626" stroke-width="1.8"/>
<line x1="935.6" y1="1434.9" x2="944.5" y2="1434.9" stroke="#262626" stroke-width="1.8"/>
<text x="110.7" y="1444.4" font-size="20.83" text-anchor="end" fill="#262626">1000</text>
<line x1="127.1" y1="1344.6" x2="118.2" y2="1344.6" stroke="#262626" stroke-width="1.8"/>
<line x1="935.6" y1="1344.6" x2="944.5" y2="1344.6" stroke="#262626" stroke-width="1.8"/>
<text x="110.7" y="1354.1" font-size="20.83" text-anchor="end" fill="#262626">1500</text>
<line x1="127.1" y1="1254.2" x2="118.2" y2="1254.2" stroke="#262626" stroke-width="1.8"/>
<line x1="935.6" y1="1254.2" x2="944.5" y2="1254.2" stroke="#262626" stroke-width="1.8"/>
<text x="110.7" y="1263.7" font-size="20.83" text-anchor="end" fill="#262626">2000</text>
<line x1="127.1" y1="1163.8" x2="118.2" y2="1163.8" stroke="#262626" stroke-width="1.8"/>
<line x1="935.6" y1="1163.8" x2="944.5" y2="1163.8" stroke="#262626" stroke-width="1.8"/>
<text x="110.7" y="1173.3" font-size="20.83" text-anchor="end" fill="#262626">2500</text>
<line x1="127.1" y1="1073.5" x2="118.2" y2="1073.5" stroke="#262626" stroke-width="1.8"/>
<line x1="935.6" y1="1073.5" x2="944.5" y2="1073.5" stroke="#262626" stroke-width="1.8"/>
<text x="110.7" y="1083" font-size="20.83" text-anchor="end" fill="#262626">3000</text>
<g clip-path="url(#cD)">
<g fill="#0000ff">
<circle cx="354.6" cy="1411.2" r="2.1"/><circle cx="388.7" cy="1427.8" r="2.1"/><circle cx="544.2" cy="1425.6" r="2.1"/><circle cx="461.6" cy="1413.1" r="2.1"/><circle cx="383.3" cy="1431.1" r="2.1"/><circle cx="420.4" cy="1429.7" r="2.1"/><circle cx="393.7" cy="1429.7" r="2.1"/><circle cx="452.3" cy="1432.1" r="2.1"/><circle cx="438.1" cy="1415.5" r="2.1"/><circle cx="430.9" cy="1425.3" r="2.1"/><circle cx="433.3" cy="1423.4" r="2.1"/><circle cx="413.2" cy="1429.1" r="2.1"/><circle cx="505.4" cy="1419.9" r="2.1"/><circle cx="529.6" cy="1411.1" r="2.1"/><circle cx="371.1" cy="1431.6" r="2.1"/><circle cx="422.8" cy="1429.2" r="2.1"/><circle cx="352.2" cy="1414.5" r="2.1"/><circle cx="438.6" cy="1421.7" r="2.1"/><circle cx="367.8" cy="1422.8" r="2.1"/><circle cx="529.7" cy="1416.1" r="2.1"/><circle cx="407.4" cy="1422.8" r="2.1"/><circle cx="346.1" cy="1409.2" r="2.1"/><circle cx="391" cy="1419.5" r="2.1"/><circle cx="483.4" cy="1424.2" r="2.1"/><circle cx="401" cy="1408.7" r="2.1"/><circle cx="336" cy="1419.5" r="2.1"/><circle cx="372.2" cy="1426.2" r="2.1"/><circle cx="656" cy="1424.1" r="2.1"/><circle cx="395" cy="1411.6" r="2.1"/><circle cx="365.6" cy="1419.7" r="2.1"/><circle cx="370.7" cy="1425.7" r="2.1"/><circle cx="485.4" cy="1422.1" r="2.1"/><circle cx="479.6" cy="1409.6" r="2.1"/><circle cx="359.4" cy="1418.2" r="2.1"/><circle cx="359.6" cy="1416" r="2.1"/><circle cx="441.9" cy="1423.2" r="2.1"/><circle cx="538" cy="1424.2" r="2.1"/><circle cx="351.9" cy="1429.6" r="2.1"/><circle cx="503.5" cy="1415.4" r="2.1"/><circle cx="352.4" cy="1427.4" r="2.1"/><circle cx="387.8" cy="1420.1" r="2.1"/><circle cx="391" cy="1415.2" r="2.1"/><circle cx="423.5" cy="1418.9" r="2.1"/><circle cx="492.6" cy="1424.7" r="2.1"/><circle cx="393.6" cy="1409.4" r="2.1"/><circle cx="394.2" cy="1414.9" r="2.1"/><circle cx="391.4" cy="1421.3" r="2.1"/><circle cx="599.5" cy="1416.6" r="2.1"/><circle cx="554.1" cy="1414.1" r="2.1"/><circle cx="382.9" cy="1414.6" r="2.1"/><circle cx="425.8" cy="1417.2" r="2.1"/><circle cx="411.1" cy="1419.4" r="2.1"/><circle cx="428.9" cy="1409.3" r="2.1"/><circle cx="496.3" cy="1419" r="2.1"/><circle cx="434.5" cy="1425.1" r="2.1"/><circle cx="456.5" cy="1420.8" r="2.1"/><circle cx="481.7" cy="1422.9" r="2.1"/><circle cx="494.1" cy="1422.5" r="2.1"/><circle cx="447.9" cy="1424.8" r="2.1"/><circle cx="482.6" cy="1410.1" r="2.1"/><circle cx="538.7" cy="1423.1" r="2.1"/><circle cx="496.8" cy="1424.2" r="2.1"/><circle cx="345.7" cy="1431.4" r="2.1"/><circle cx="412.5" cy="1419.2" r="2.1"/><circle cx="366.6" cy="1418" r="2.1"/><circle cx="706.9" cy="1424.9" r="2.1"/><circle cx="370.5" cy="1429.3" r="2.1"/><circle cx="405.8" cy="1421.1" r="2.1"/><circle cx="390" cy="1410.4" r="2.1"/><circle cx="450.8" cy="1421.4" r="2.1"/><circle cx="422.5" cy="1410.1" r="2.1"/><circle cx="383.7" cy="1418.6" r="2.1"/><circle cx="436.3" cy="1422" r="2.1"/><circle cx="332.7" cy="1410.5" r="2.1"/><circle cx="426.1" cy="1419" r="2.1"/><circle cx="463.6" cy="1424.8" r="2.1"/><circle cx="413.2" cy="1421.1" r="2.1"/><circle cx="352.5" cy="1423.1" r="2.1"/><circle cx="389" cy="1423.6" r="2.1"/><circle cx="508.3" cy="1408.7" r="2.1"/><circle cx="448.4" cy="1417.6" r="2.1"/><circle cx="513.7" cy="1430.5" r="2.1"/><circle cx="490.9" cy="1427.3" r="2.1"/><circle cx="373" cy="1428.1" r="2.1"/><circle cx="499.3" cy="1422.4" r="2.1"/><circle cx="464" cy="1413.5" r="2.1"/><circle cx="356.5" cy="1422.6" r="2.1"/><circle cx="353.8" cy="1426.9" r="2.1"/><circle cx="490.9" cy="1431.1" r="2.1"/><circle cx="497.2" cy="1412.3" r="2.1"/><circle cx="487.7" cy="1420.2" r="2.1"/><circle cx="468.5" cy="1430.4" r="2.1"/><circle cx="416.7" cy="1416.7" r="2.1"/><circle cx="424.7" cy="1410.2" r="2.1"/><circle cx="392.6" cy="1413.3" r="2.1"/><circle cx="453.2" cy="1409.6" r="2.1"/><circle cx="397" cy="1427.3" r="2.1"/><circle cx="513.7" cy="1416" r="2.1"/><circle cx="436.9" cy="1423.6" r="2.1"/><circle cx="420.1" cy="1422.8" r="2.1"/><circle cx="436" cy="1426.8" r="2.1"/><circle cx="378.3" cy="1429.3" r="2.1"/><circle cx="602.6" cy="1412.8" r="2.1"/><circle cx="369.8" cy="1420.2" r="2.1"/><circle cx="355.3" cy="1408.2" r="2.1"/><circle cx="536.4" cy="1422.7" r="2.1"/><circle cx="478" cy="1408" r="2.1"/><circle cx="401.1" cy="1409.8" r="2.1"/><circle cx="486.4" cy="1418.5" r="2.1"/><circle cx="408.6" cy="1430.7" r="2.1"/><circle cx="367.5" cy="1419.3" r="2.1"/><circle cx="523" cy="1425.4" r="2.1"/><circle cx="483.1" cy="1411" r="2.1"/><circle cx="458.6" cy="1422.5" r="2.1"/><circle cx="475.7" cy="1423.9" r="2.1"/><circle cx="426.8" cy="1408.8" r="2.1"/><circle cx="454.6" cy="1416.5" r="2.1"/><circle cx="372.8" cy="1422.3" r="2.1"/><circle cx="430.3" cy="1412.2" r="2.1"/><circle cx="498.1" cy="1408" r="2.1"/><circle cx="468.7" cy="1411.1" r="2.1"/><circle cx="497.4" cy="1430.3" r="2.1"/><circle cx="433.2" cy="1411.6" r="2.1"/><circle cx="535" cy="1418.7" r="2.1"/><circle cx="428.3" cy="1419.6" r="2.1"/><circle cx="436.8" cy="1411.8" r="2.1"/><circle cx="523.4" cy="1414.3" r="2.1"/><circle cx="367.9" cy="1413.2" r="2.1"/><circle cx="435.3" cy="1427" r="2.1"/><circle cx="415.3" cy="1416.4" r="2.1"/><circle cx="384.3" cy="1430.1" r="2.1"/><circle cx="410.1" cy="1423.5" r="2.1"/><circle cx="415.3" cy="1415" r="2.1"/><circle cx="620.5" cy="1424.1" r="2.1"/><circle cx="409.1" cy="1414.9" r="2.1"/><circle cx="360.2" cy="1418" r="2.1"/><circle cx="429.5" cy="1425.9" r="2.1"/><circle cx="475.6" cy="1409.5" r="2.1"/><circle cx="404.6" cy="1408.1" r="2.1"/><circle cx="396.7" cy="1415.5" r="2.1"/><circle cx="537.2" cy="1426.2" r="2.1"/><circle cx="454.4" cy="1423.8" r="2.1"/><circle cx="413.3" cy="1429.7" r="2.1"/><circle cx="479.7" cy="1432" r="2.1"/><circle cx="586.2" cy="1422" r="2.1"/><circle cx="383.3" cy="1409" r="2.1"/><circle cx="384.3" cy="1409.3" r="2.1"/><circle cx="418.7" cy="1430.4" r="2.1"/><circle cx="376.2" cy="1418.7" r="2.1"/><circle cx="524.8" cy="1420.1" r="2.1"/><circle cx="424.8" cy="1408" r="2.1"/><circle cx="398.4" cy="1419.9" r="2.1"/><circle cx="371.6" cy="1413.2" r="2.1"/><circle cx="457.3" cy="1430.6" r="2.1"/><circle cx="507.6" cy="1417.5" r="2.1"/><circle cx="532.7" cy="1416.6" r="2.1"/><circle cx="415.4" cy="1417.3" r="2.1"/><circle cx="520.6" cy="1421.6" r="2.1"/><circle cx="451.1" cy="1430.7" r="2.1"/><circle cx="461" cy="1408.7" r="2.1"/><circle cx="392.8" cy="1409.3" r="2.1"/><circle cx="395.2" cy="1423.2" r="2.1"/><circle cx="475.6" cy="1421.7" r="2.1"/><circle cx="416.8" cy="1423.1" r="2.1"/><circle cx="481.4" cy="1431.9" r="2.1"/><circle cx="436.5" cy="1410.6" r="2.1"/><circle cx="583.9" cy="1418.3" r="2.1"/><circle cx="389.8" cy="1430" r="2.1"/><circle cx="561.7" cy="1424.2" r="2.1"/><circle cx="427.2" cy="1424.2" r="2.1"/><circle cx="390.1" cy="1409.3" r="2.1"/><circle cx="461.8" cy="1424.7" r="2.1"/><circle cx="415.2" cy="1421.8" r="2.1"/><circle cx="492.1" cy="1424.5" r="2.1"/><circle cx="413.2" cy="1431.9" r="2.1"/><circle cx="427.3" cy="1415.9" r="2.1"/><circle cx="417.7" cy="1414.9" r="2.1"/><circle cx="338.2" cy="1409.5" r="2.1"/><circle cx="486.9" cy="1410.9" r="2.1"/><circle cx="405.7" cy="1420.1" r="2.1"/><circle cx="410.9" cy="1422.6" r="2.1"/><circle cx="432.9" cy="1413.9" r="2.1"/><circle cx="410" cy="1425.4" r="2.1"/><circle cx="446.1" cy="1413.3" r="2.1"/><circle cx="552.3" cy="1427.4" r="2.1"/><circle cx="479" cy="1423.4" r="2.1"/><circle cx="469.5" cy="1414.8" r="2.1"/><circle cx="419.9" cy="1431.6" r="2.1"/><circle cx="378.8" cy="1428.2" r="2.1"/><circle cx="394" cy="1424.7" r="2.1"/><circle cx="452.9" cy="1415.3" r="2.1"/><circle cx="516.9" cy="1425.2" r="2.1"/><circle cx="392.6" cy="1429.4" r="2.1"/><circle cx="455.8" cy="1415.5" r="2.1"/><circle cx="376.4" cy="1410.8" r="2.1"/><circle cx="393.7" cy="1420.4" r="2.1"/><circle cx="461.5" cy="1426.5" r="2.1"/><circle cx="396.7" cy="1422.8" r="2.1"/><circle cx="452" cy="1430.2" r="2.1"/><circle cx="397.2" cy="1426.5" r="2.1"/><circle cx="511.2" cy="1411.3" r="2.1"/><circle cx="462.9" cy="1419.3" r="2.1"/><circle cx="511.7" cy="1430.3" r="2.1"/><circle cx="524.8" cy="1417.6" r="2.1"/><circle cx="405.8" cy="1421.9" r="2.1"/><circle cx="481.5" cy="1419.9" r="2.1"/><circle cx="414.9" cy="1409.8" r="2.1"/><circle cx="458" cy="1413.8" r="2.1"/><circle cx="396.9" cy="1426" r="2.1"/><circle cx="482" cy="1412.7" r="2.1"/><circle cx="461.5" cy="1418.7" r="2.1"/><circle cx="414.3" cy="1421.7" r="2.1"/><circle cx="323.4" cy="1430.1" r="2.1"/><circle cx="412.7" cy="1420.8" r="2.1"/><circle cx="347" cy="1413.4" r="2.1"/><circle cx="506.5" cy="1431.2" r="2.1"/><circle cx="572.4" cy="1416.3" r="2.1"/><circle cx="410.9" cy="1410" r="2.1"/><circle cx="429.6" cy="1418.1" r="2.1"/><circle cx="400.9" cy="1408.3" r="2.1"/><circle cx="386.2" cy="1416.7" r="2.1"/><circle cx="374.9" cy="1410.8" r="2.1"/><circle cx="524.9" cy="1425.6" r="2.1"/><circle cx="386.3" cy="1410.8" r="2.1"/><circle cx="541.3" cy="1408.4" r="2.1"/><circle cx="404.8" cy="1421.3" r="2.1"/><circle cx="463.7" cy="1424.8" r="2.1"/><circle cx="441.5" cy="1411.5" r="2.1"/><circle cx="370.1" cy="1427.2" r="2.1"/><circle cx="375.6" cy="1420.5" r="2.1"/><circle cx="463.3" cy="1411.4" r="2.1"/><circle cx="425.2" cy="1412.3" r="2.1"/><circle cx="357.7" cy="1414.9" r="2.1"/><circle cx="541.8" cy="1421.8" r="2.1"/><circle cx="476.9" cy="1419.8" r="2.1"/><circle cx="451.5" cy="1425.8" r="2.1"/><circle cx="410.9" cy="1424.7" r="2.1"/><circle cx="470.5" cy="1409.3" r="2.1"/><circle cx="402" cy="1414.5" r="2.1"/><circle cx="473.6" cy="1413.4" r="2.1"/><circle cx="545.5" cy="1415.8" r="2.1"/><circle cx="526.3" cy="1424.6" r="2.1"/><circle cx="390.6" cy="1420.8" r="2.1"/><circle cx="554" cy="1430.1" r="2.1"/><circle cx="380.6" cy="1413.1" r="2.1"/><circle cx="493.7" cy="1420.4" r="2.1"/><circle cx="519.1" cy="1424.6" r="2.1"/><circle cx="367.6" cy="1411.8" r="2.1"/><circle cx="453.6" cy="1415.9" r="2.1"/><circle cx="462.6" cy="1414.8" r="2.1"/><circle cx="362.2" cy="1431.7" r="2.1"/><circle cx="428.4" cy="1423.5" r="2.1"/><circle cx="572.3" cy="1431.8" r="2.1"/><circle cx="416.5" cy="1421.6" r="2.1"/><circle cx="442.4" cy="1420" r="2.1"/><circle cx="433.4" cy="1415.7" r="2.1"/><circle cx="390.1" cy="1420.3" r="2.1"/><circle cx="441.4" cy="1413.8" r="2.1"/><circle cx="401.8" cy="1423.7" r="2.1"/><circle cx="430.9" cy="1430.5" r="2.1"/><circle cx="395.9" cy="1412.6" r="2.1"/><circle cx="394.9" cy="1425.7" r="2.1"/><circle cx="386.4" cy="1424.1" r="2.1"/><circle cx="513.5" cy="1431.9" r="2.1"/><circle cx="465.8" cy="1408" r="2.1"/><circle cx="554.2" cy="1430.9" r="2.1"/><circle cx="484.7" cy="1430.7" r="2.1"/><circle cx="485.8" cy="1408.9" r="2.1"/><circle cx="418.3" cy="1411.8" r="2.1"/><circle cx="452.3" cy="1420" r="2.1"/><circle cx="396.5" cy="1431.7" r="2.1"/><circle cx="434.6" cy="1424.8" r="2.1"/><circle cx="514.3" cy="1424" r="2.1"/><circle cx="624.6" cy="1425.2" r="2.1"/><circle cx="521.9" cy="1430" r="2.1"/><circle cx="378.5" cy="1416" r="2.1"/><circle cx="399.9" cy="1412.8" r="2.1"/><circle cx="339.1" cy="1414.5" r="2.1"/><circle cx="559.5" cy="1425.8" r="2.1"/><circle cx="447.6" cy="1419.7" r="2.1"/><circle cx="463.1" cy="1416.6" r="2.1"/><circle cx="489.1" cy="1411.9" r="2.1"/><circle cx="410.9" cy="1431.1" r="2.1"/><circle cx="445.9" cy="1427.2" r="2.1"/><circle cx="358.8" cy="1431.3" r="2.1"/><circle cx="384.6" cy="1430.4" r="2.1"/><circle cx="380" cy="1422.2" r="2.1"/><circle cx="465.5" cy="1421.7" r="2.1"/><circle cx="504.4" cy="1425.1" r="2.1"/><circle cx="346" cy="1414.8" r="2.1"/><circle cx="454" cy="1415.2" r="2.1"/><circle cx="475.4" cy="1414.9" r="2.1"/><circle cx="595.9" cy="1409.6" r="2.1"/><circle cx="547.1" cy="1423.1" r="2.1"/><circle cx="409.6" cy="1410.6" r="2.1"/><circle cx="424.7" cy="1425.7" r="2.1"/><circle cx="512.7" cy="1425.9" r="2.1"/><circle cx="348.1" cy="1409" r="2.1"/><circle cx="588" cy="1412.9" r="2.1"/><circle cx="430.2" cy="1425.2" r="2.1"/><circle cx="498.2" cy="1430.7" r="2.1"/><circle cx="523.1" cy="1419.8" r="2.1"/><circle cx="393.7" cy="1414.1" r="2.1"/><circle cx="597.6" cy="1431.6" r="2.1"/><circle cx="427.8" cy="1414.1" r="2.1"/><circle cx="429.2" cy="1429.4" r="2.1"/><circle cx="484.9" cy="1416" r="2.1"/><circle cx="453.3" cy="1412.2" r="2.1"/><circle cx="452.3" cy="1418.7" r="2.1"/><circle cx="553" cy="1429.1" r="2.1"/><circle cx="582.8" cy="1427.9" r="2.1"/><circle cx="431.5" cy="1419" r="2.1"/><circle cx="363" cy="1409" r="2.1"/><circle cx="518.7" cy="1431.2" r="2.1"/><circle cx="534" cy="1419.8" r="2.1"/><circle cx="388" cy="1408.1" r="2.1"/><circle cx="468.3" cy="1428.7" r="2.1"/><circle cx="500.1" cy="1407.8" r="2.1"/><circle cx="454.8" cy="1426.3" r="2.1"/><circle cx="457.3" cy="1431.7" r="2.1"/><circle cx="569.8" cy="1415.6" r="2.1"/><circle cx="363.9" cy="1414.3" r="2.1"/><circle cx="549" cy="1415.8" r="2.1"/><circle cx="366.1" cy="1430.7" r="2.1"/><circle cx="433.3" cy="1431" r="2.1"/><circle cx="383.6" cy="1408.3" r="2.1"/><circle cx="525.1" cy="1417.4" r="2.1"/><circle cx="377.2" cy="1411" r="2.1"/><circle cx="369.6" cy="1408" r="2.1"/><circle cx="403.2" cy="1423.2" r="2.1"/><circle cx="555" cy="1424.4" r="2.1"/><circle cx="361.5" cy="1417.6" r="2.1"/><circle cx="498.8" cy="1408.8" r="2.1"/><circle cx="522.7" cy="1414.2" r="2.1"/><circle cx="359.3" cy="1419.2" r="2.1"/><circle cx="456.3" cy="1415.5" r="2.1"/><circle cx="608.6" cy="1408.4" r="2.1"/><circle cx="585" cy="1429.1" r="2.1"/><circle cx="619.6" cy="1424.1" r="2.1"/><circle cx="435.5" cy="1408" r="2.1"/><circle cx="514.5" cy="1425.4" r="2.1"/><circle cx="405.8" cy="1423.7" r="2.1"/><circle cx="464.6" cy="1416.8" r="2.1"/><circle cx="538.7" cy="1412.7" r="2.1"/><circle cx="448" cy="1413.3" r="2.1"/><circle cx="392.4" cy="1420.4" r="2.1"/><circle cx="431.4" cy="1431.3" r="2.1"/><circle cx="342.4" cy="1416.6" r="2.1"/><circle cx="439.1" cy="1422.4" r="2.1"/><circle cx="430.1" cy="1408.7" r="2.1"/><circle cx="392.8" cy="1417.8" r="2.1"/><circle cx="394.6" cy="1418.3" r="2.1"/><circle cx="383.1" cy="1418.1" r="2.1"/><circle cx="375.2" cy="1412.8" r="2.1"/><circle cx="374.5" cy="1410" r="2.1"/><circle cx="448" cy="1420.1" r="2.1"/><circle cx="397.7" cy="1424.3" r="2.1"/><circle cx="366.7" cy="1425.3" r="2.1"/><circle cx="388.7" cy="1410.4" r="2.1"/><circle cx="427.6" cy="1412.9" r="2.1"/><circle cx="517.7" cy="1417.7" r="2.1"/><circle cx="459.6" cy="1417" r="2.1"/><circle cx="366.4" cy="1412.4" r="2.1"/><circle cx="416.7" cy="1415.9" r="2.1"/><circle cx="412.5" cy="1413.8" r="2.1"/><circle cx="375.3" cy="1412.7" r="2.1"/><circle cx="486.6" cy="1423.6" r="2.1"/><circle cx="447.5" cy="1431.3" r="2.1"/><circle cx="512.3" cy="1428.8" r="2.1"/><circle cx="357.2" cy="1428.2" r="2.1"/><circle cx="578.2" cy="1410.5" r="2.1"/><circle cx="466" cy="1430.4" r="2.1"/><circle cx="380.5" cy="1417.2" r="2.1"/><circle cx="449.6" cy="1412.7" r="2.1"/><circle cx="354.1" cy="1425.7" r="2.1"/><circle cx="516.7" cy="1427.5" r="2.1"/><circle cx="475.8" cy="1414.1" r="2.1"/><circle cx="482.2" cy="1407.8" r="2.1"/><circle cx="454.6" cy="1430.3" r="2.1"/><circle cx="377.1" cy="1417.9" r="2.1"/><circle cx="474.3" cy="1410.1" r="2.1"/><circle cx="432.1" cy="1431" r="2.1"/><circle cx="422.5" cy="1419.6" r="2.1"/><circle cx="398.3" cy="1425.1" r="2.1"/><circle cx="391" cy="1415.8" r="2.1"/><circle cx="474.1" cy="1432.1" r="2.1"/><circle cx="422.4" cy="1428.5" r="2.1"/><circle cx="434.8" cy="1421.7" r="2.1"/><circle cx="355" cy="1425.2" r="2.1"/><circle cx="492.6" cy="1417.8" r="2.1"/><circle cx="553.1" cy="1422.8" r="2.1"/><circle cx="474.5" cy="1424.9" r="2.1"/><circle cx="397.8" cy="1413.3" r="2.1"/><circle cx="566.6" cy="1418.1" r="2.1"/><circle cx="465.5" cy="1412" r="2.1"/><circle cx="458.8" cy="1427.2" r="2.1"/><circle cx="392.3" cy="1409.2" r="2.1"/><circle cx="442.9" cy="1419.5" r="2.1"/><circle cx="456.4" cy="1424.8" r="2.1"/><circle cx="417.8" cy="1423.5" r="2.1"/><circle cx="504.3" cy="1424.3" r="2.1"/><circle cx="396.8" cy="1421" r="2.1"/><circle cx="524.8" cy="1424" r="2.1"/><circle cx="341" cy="1424" r="2.1"/><circle cx="398.4" cy="1411.9" r="2.1"/><circle cx="502" cy="1421.7" r="2.1"/><circle cx="464.5" cy="1412" r="2.1"/><circle cx="505.5" cy="1419.7" r="2.1"/><circle cx="458.5" cy="1418.5" r="2.1"/><circle cx="467.7" cy="1430.5" r="2.1"/><circle cx="538.6" cy="1412.4" r="2.1"/><circle cx="498.3" cy="1414.7" r="2.1"/><circle cx="491.2" cy="1417.3" r="2.1"/><circle cx="410.4" cy="1408.6" r="2.1"/><circle cx="548.7" cy="1422.8" r="2.1"/><circle cx="408.9" cy="1426" r="2.1"/><circle cx="447.7" cy="1417.8" r="2.1"/><circle cx="488.1" cy="1418.5" r="2.1"/><circle cx="410.7" cy="1430.8" r="2.1"/><circle cx="467.1" cy="1429.3" r="2.1"/><circle cx="507.7" cy="1420.1" r="2.1"/><circle cx="459.6" cy="1414.2" r="2.1"/><circle cx="464.6" cy="1423.5" r="2.1"/><circle cx="455.9" cy="1416.8" r="2.1"/><circle cx="450.6" cy="1430.7" r="2.1"/><circle cx="374.9" cy="1417.5" r="2.1"/><circle cx="451.1" cy="1414.3" r="2.1"/><circle cx="445.3" cy="1424.1" r="2.1"/><circle cx="440.8" cy="1412.5" r="2.1"/><circle cx="502.8" cy="1419.9" r="2.1"/><circle cx="379.7" cy="1419.6" r="2.1"/><circle cx="377.2" cy="1409.8" r="2.1"/><circle cx="479.3" cy="1413.4" r="2.1"/><circle cx="460.9" cy="1426" r="2.1"/><circle cx="384.5" cy="1419.5" r="2.1"/><circle cx="407.1" cy="1415.2" r="2.1"/><circle cx="505.1" cy="1419.3" r="2.1"/><circle cx="362.4" cy="1428.5" r="2.1"/><circle cx="520.6" cy="1410.8" r="2.1"/><circle cx="468.7" cy="1413.8" r="2.1"/><circle cx="376.9" cy="1413.3" r="2.1"/><circle cx="528.5" cy="1412.1" r="2.1"/><circle cx="440.9" cy="1431.3" r="2.1"/><circle cx="534.4" cy="1409.2" r="2.1"/><circle cx="446.6" cy="1425.1" r="2.1"/><circle cx="430.2" cy="1415.7" r="2.1"/><circle cx="444" cy="1417.9" r="2.1"/><circle cx="429.9" cy="1417.3" r="2.1"/><circle cx="399.2" cy="1425.7" r="2.1"/><circle cx="447.7" cy="1414.1" r="2.1"/><circle cx="410.1" cy="1410.4" r="2.1"/><circle cx="415.4" cy="1429.2" r="2.1"/><circle cx="359.1" cy="1415.3" r="2.1"/><circle cx="394.8" cy="1428.7" r="2.1"/><circle cx="377.6" cy="1411.5" r="2.1"/><circle cx="468.9" cy="1424.4" r="2.1"/><circle cx="362.2" cy="1419.2" r="2.1"/><circle cx="374.6" cy="1408.8" r="2.1"/><circle cx="439" cy="1408.9" r="2.1"/><circle cx="560.4" cy="1419.3" r="2.1"/><circle cx="399.6" cy="1411.5" r="2.1"/><circle cx="451.9" cy="1407.8" r="2.1"/><circle cx="400.6" cy="1424.2" r="2.1"/><circle cx="443.6" cy="1411.4" r="2.1"/><circle cx="411.4" cy="1421.9" r="2.1"/><circle cx="388" cy="1425.8" r="2.1"/><circle cx="441.6" cy="1424.2" r="2.1"/><circle cx="461.6" cy="1429.5" r="2.1"/><circle cx="415" cy="1415.6" r="2.1"/><circle cx="361.1" cy="1411.3" r="2.1"/><circle cx="446" cy="1431.5" r="2.1"/><circle cx="386.3" cy="1418.3" r="2.1"/><circle cx="434.8" cy="1423.3" r="2.1"/><circle cx="363.6" cy="1418.8" r="2.1"/><circle cx="434.8" cy="1411" r="2.1"/><circle cx="482.4" cy="1431.9" r="2.1"/><circle cx="385.9" cy="1414.7" r="2.1"/><circle cx="561.9" cy="1417.8" r="2.1"/><circle cx="384.4" cy="1430.3" r="2.1"/><circle cx="428.2" cy="1428.9" r="2.1"/><circle cx="417.7" cy="1415.6" r="2.1"/><circle cx="442.8" cy="1420.1" r="2.1"/><circle cx="381.5" cy="1421.2" r="2.1"/><circle cx="346.8" cy="1412.7" r="2.1"/><circle cx="508.9" cy="1425.9" r="2.1"/><circle cx="390.4" cy="1415.6" r="2.1"/><circle cx="443.7" cy="1417.6" r="2.1"/><circle cx="452.8" cy="1431.2" r="2.1"/><circle cx="421.4" cy="1425.6" r="2.1"/><circle cx="359.7" cy="1408.9" r="2.1"/><circle cx="445.7" cy="1422.5" r="2.1"/><circle cx="389.8" cy="1430.5" r="2.1"/><circle cx="398.6" cy="1425" r="2.1"/><circle cx="422.5" cy="1428.8" r="2.1"/><circle cx="375.4" cy="1431" r="2.1"/><circle cx="535.6" cy="1412.9" r="2.1"/><circle cx="552.8" cy="1414.9" r="2.1"/><circle cx="450.4" cy="1426.2" r="2.1"/><circle cx="524.4" cy="1417.3" r="2.1"/><circle cx="427.4" cy="1411.8" r="2.1"/><circle cx="387.7" cy="1431" r="2.1"/><circle cx="479.3" cy="1416.9" r="2.1"/><circle cx="390.4" cy="1426.7" r="2.1"/><circle cx="551.3" cy="1429.9" r="2.1"/><circle cx="638.6" cy="1416.5" r="2.1"/><circle cx="385.6" cy="1423.6" r="2.1"/><circle cx="691.2" cy="1410.6" r="2.1"/><circle cx="588" cy="1418.6" r="2.1"/><circle cx="471.7" cy="1409.4" r="2.1"/><circle cx="402.6" cy="1426.3" r="2.1"/><circle cx="417.6" cy="1424" r="2.1"/><circle cx="482.5" cy="1426.8" r="2.1"/><circle cx="535.3" cy="1413.1" r="2.1"/><circle cx="420.7" cy="1421.3" r="2.1"/><circle cx="435.5" cy="1416.4" r="2.1"/><circle cx="483.7" cy="1412.5" r="2.1"/><circle cx="382.9" cy="1411.8" r="2.1"/><circle cx="477.5" cy="1429" r="2.1"/><circle cx="493" cy="1421.6" r="2.1"/><circle cx="456.5" cy="1415.5" r="2.1"/><circle cx="376.6" cy="1417.8" r="2.1"/><circle cx="418.2" cy="1424.4" r="2.1"/><circle cx="453.5" cy="1417.1" r="2.1"/><circle cx="357.7" cy="1414.1" r="2.1"/><circle cx="407.3" cy="1409.9" r="2.1"/><circle cx="401.1" cy="1414.4" r="2.1"/><circle cx="472.2" cy="1410" r="2.1"/><circle cx="457.9" cy="1431.1" r="2.1"/><circle cx="382.9" cy="1415.8" r="2.1"/><circle cx="425.3" cy="1430" r="2.1"/><circle cx="386.3" cy="1425.1" r="2.1"/><circle cx="487.6" cy="1409.9" r="2.1"/><circle cx="534" cy="1415.1" r="2.1"/><circle cx="495.5" cy="1426.9" r="2.1"/><circle cx="400.9" cy="1414.5" r="2.1"/><circle cx="458.7" cy="1425" r="2.1"/><circle cx="544.1" cy="1428.8" r="2.1"/><circle cx="420" cy="1414.3" r="2.1"/><circle cx="482.3" cy="1420.6" r="2.1"/><circle cx="464.3" cy="1426.6" r="2.1"/><circle cx="394.5" cy="1412.9" r="2.1"/><circle cx="475.6" cy="1408" r="2.1"/><circle cx="422.9" cy="1429.1" r="2.1"/><circle cx="386.1" cy="1429" r="2.1"/><circle cx="576.8" cy="1416.6" r="2.1"/><circle cx="400.8" cy="1408.9" r="2.1"/><circle cx="562.8" cy="1408.9" r="2.1"/><circle cx="407.2" cy="1416.4" r="2.1"/><circle cx="518.5" cy="1428.9" r="2.1"/><circle cx="484" cy="1416" r="2.1"/><circle cx="481" cy="1417.7" r="2.1"/><circle cx="474" cy="1419" r="2.1"/><circle cx="417.5" cy="1431.5" r="2.1"/><circle cx="467" cy="1418.5" r="2.1"/><circle cx="449.8" cy="1429.7" r="2.1"/><circle cx="426.3" cy="1411.1" r="2.1"/><circle cx="489.8" cy="1430.3" r="2.1"/><circle cx="477.9" cy="1408.1" r="2.1"/><circle cx="354.6" cy="1429.8" r="2.1"/><circle cx="474" cy="1419" r="2.1"/><circle cx="403.4" cy="1430.6" r="2.1"/><circle cx="416.7" cy="1411.7" r="2.1"/><circle cx="421.7" cy="1431.1" r="2.1"/><circle cx="470.1" cy="1416.8" r="2.1"/><circle cx="544.1" cy="1413.8" r="2.1"/><circle cx="405.3" cy="1407.9" r="2.1"/><circle cx="482.2" cy="1429.1" r="2.1"/><circle cx="486.2" cy="1416.6" r="2.1"/><circle cx="447.2" cy="1417" r="2.1"/><circle cx="363.6" cy="1410.3" r="2.1"/><circle cx="478.9" cy="1428.8" r="2.1"/><circle cx="499.5" cy="1430.2" r="2.1"/><circle cx="506.6" cy="1426.8" r="2.1"/><circle cx="378.1" cy="1430.1" r="2.1"/><circle cx="329.3" cy="1408" r="2.1"/><circle cx="457.6" cy="1425.8" r="2.1"/><circle cx="572.9" cy="1428.8" r="2.1"/><circle cx="520" cy="1423.4" r="2.1"/><circle cx="508.3" cy="1419.8" r="2.1"/><circle cx="358.1" cy="1418.1" r="2.1"/><circle cx="355.2" cy="1412" r="2.1"/><circle cx="450.3" cy="1419.3" r="2.1"/><circle cx="501.5" cy="1429.6" r="2.1"/><circle cx="408.7" cy="1418.4" r="2.1"/><circle cx="391.7" cy="1425.2" r="2.1"/><circle cx="412.1" cy="1421.4" r="2.1"/><circle cx="468.6" cy="1430" r="2.1"/><circle cx="641.1" cy="1424.2" r="2.1"/><circle cx="386.7" cy="1415.9" r="2.1"/><circle cx="419.2" cy="1429.2" r="2.1"/><circle cx="450.1" cy="1415.3" r="2.1"/><circle cx="397.3" cy="1430.7" r="2.1"/><circle cx="411.3" cy="1418.3" r="2.1"/><circle cx="461.5" cy="1430.6" r="2.1"/><circle cx="492.1" cy="1418" r="2.1"/><circle cx="449.4" cy="1418.9" r="2.1"/><circle cx="582.2" cy="1415.1" r="2.1"/><circle cx="350.4" cy="1409.9" r="2.1"/><circle cx="531.2" cy="1418.4" r="2.1"/><circle cx="394.7" cy="1415.9" r="2.1"/><circle cx="519.8" cy="1417.2" r="2.1"/><circle cx="416.7" cy="1425" r="2.1"/><circle cx="545.7" cy="1428" r="2.1"/><circle cx="396.3" cy="1418.6" r="2.1"/><circle cx="395" cy="1411.3" r="2.1"/><circle cx="447.1" cy="1429.2" r="2.1"/><circle cx="390.3" cy="1419.9" r="2.1"/><circle cx="397.4" cy="1427" r="2.1"/><circle cx="497.6" cy="1412.6" r="2.1"/><circle cx="494.5" cy="1423.3" r="2.1"/><circle cx="380.2" cy="1413.8" r="2.1"/><circle cx="445.4" cy="1415.9" r="2.1"/><circle cx="393.3" cy="1416.2" r="2.1"/><circle cx="461.7" cy="1423.6" r="2.1"/><circle cx="496.9" cy="1412.4" r="2.1"/><circle cx="331.6" cy="1417.4" r="2.1"/><circle cx="436.8" cy="1429.1" r="2.1"/><circle cx="442.7" cy="1418.8" r="2.1"/><circle cx="346.3" cy="1410.2" r="2.1"/><circle cx="427.3" cy="1412.1" r="2.1"/><circle cx="397.3" cy="1422.6" r="2.1"/><circle cx="523.7" cy="1424.5" r="2.1"/><circle cx="351" cy="1424.3" r="2.1"/><circle cx="381.3" cy="1413" r="2.1"/><circle cx="412.7" cy="1410.9" r="2.1"/><circle cx="471.6" cy="1425.9" r="2.1"/><circle cx="462" cy="1411.5" r="2.1"/><circle cx="452.1" cy="1416.1" r="2.1"/><circle cx="446.3" cy="1408.7" r="2.1"/><circle cx="438.5" cy="1413.7" r="2.1"/><circle cx="413.5" cy="1423.8" r="2.1"/><circle cx="520.6" cy="1431" r="2.1"/><circle cx="391.7" cy="1409" r="2.1"/><circle cx="380.2" cy="1412.8" r="2.1"/><circle cx="515.2" cy="1423.7" r="2.1"/><circle cx="474.3" cy="1414.1" r="2.1"/><circle cx="506.9" cy="1427.6" r="2.1"/><circle cx="417.3" cy="1418.4" r="2.1"/><circle cx="416.5" cy="1426.6" r="2.1"/><circle cx="456" cy="1413.4" r="2.1"/><circle cx="337.1" cy="1422" r="2.1"/><circle cx="527.7" cy="1430.6" r="2.1"/><circle cx="414.3" cy="1414.2" r="2.1"/><circle cx="580.7" cy="1417.7" r="2.1"/><circle cx="368.9" cy="1409.1" r="2.1"/><circle cx="396.3" cy="1409.6" r="2.1"/><circle cx="474.8" cy="1409.1" r="2.1"/><circle cx="505.5" cy="1412.2" r="2.1"/><circle cx="382" cy="1413.9" r="2.1"/><circle cx="485" cy="1416.5" r="2.1"/><circle cx="547" cy="1428.1" r="2.1"/><circle cx="481.6" cy="1428.7" r="2.1"/><circle cx="426.3" cy="1409.6" r="2.1"/><circle cx="361.8" cy="1420.3" r="2.1"/><circle cx="427.7" cy="1408.3" r="2.1"/><circle cx="403" cy="1408.8" r="2.1"/><circle cx="493.7" cy="1414.9" r="2.1"/><circle cx="446.8" cy="1417.3" r="2.1"/><circle cx="374.8" cy="1410.6" r="2.1"/><circle cx="394.6" cy="1421.3" r="2.1"/><circle cx="435.3" cy="1408.9" r="2.1"/><circle cx="459.5" cy="1427.7" r="2.1"/><circle cx="494" cy="1420.2" r="2.1"/><circle cx="653.4" cy="1420.6" r="2.1"/><circle cx="461.4" cy="1420" r="2.1"/><circle cx="580.1" cy="1420.5" r="2.1"/><circle cx="485.6" cy="1425.3" r="2.1"/><circle cx="354.5" cy="1430.8" r="2.1"/><circle cx="581.7" cy="1409.8" r="2.1"/><circle cx="395.3" cy="1416.8" r="2.1"/><circle cx="376.4" cy="1424.1" r="2.1"/><circle cx="520.4" cy="1418.2" r="2.1"/><circle cx="469.9" cy="1429.6" r="2.1"/><circle cx="534.4" cy="1416.3" r="2.1"/><circle cx="469.3" cy="1413.7" r="2.1"/><circle cx="461.1" cy="1424.9" r="2.1"/><circle cx="513.2" cy="1416.1" r="2.1"/><circle cx="490.6" cy="1408.4" r="2.1"/><circle cx="525.5" cy="1429.3" r="2.1"/><circle cx="427.6" cy="1427.4" r="2.1"/><circle cx="456.3" cy="1416.1" r="2.1"/><circle cx="523" cy="1419.9" r="2.1"/><circle cx="413.2" cy="1416.3" r="2.1"/><circle cx="535.6" cy="1431.3" r="2.1"/><circle cx="373.3" cy="1425.5" r="2.1"/><circle cx="371.7" cy="1429.4" r="2.1"/><circle cx="483.9" cy="1409.6" r="2.1"/><circle cx="508.7" cy="1414.3" r="2.1"/><circle cx="423" cy="1410.6" r="2.1"/><circle cx="411.9" cy="1414.6" r="2.1"/><circle cx="468.5" cy="1414.9" r="2.1"/><circle cx="585.9" cy="1423.7" r="2.1"/><circle cx="380.2" cy="1423" r="2.1"/><circle cx="412.8" cy="1410" r="2.1"/><circle cx="393.5" cy="1418.5" r="2.1"/><circle cx="471.2" cy="1423.9" r="2.1"/><circle cx="394.2" cy="1409.5" r="2.1"/><circle cx="497.2" cy="1415.1" r="2.1"/><circle cx="404.5" cy="1408.4" r="2.1"/><circle cx="472.6" cy="1415.3" r="2.1"/><circle cx="432.4" cy="1427.1" r="2.1"/><circle cx="483.2" cy="1426.5" r="2.1"/><circle cx="469" cy="1415.1" r="2.1"/><circle cx="420.2" cy="1421.4" r="2.1"/><circle cx="475.3" cy="1410.9" r="2.1"/><circle cx="382.5" cy="1430.9" r="2.1"/><circle cx="661.9" cy="1417" r="2.1"/><circle cx="434.1" cy="1416.8" r="2.1"/><circle cx="488.7" cy="1413" r="2.1"/><circle cx="592.8" cy="1408.5" r="2.1"/><circle cx="470" cy="1413.4" r="2.1"/><circle cx="401.9" cy="1410.3" r="2.1"/><circle cx="384.1" cy="1416.8" r="2.1"/><circle cx="527.1" cy="1412.3" r="2.1"/><circle cx="409.4" cy="1425" r="2.1"/><circle cx="416.4" cy="1412.8" r="2.1"/><circle cx="420.6" cy="1424.7" r="2.1"/><circle cx="344.9" cy="1421.5" r="2.1"/><circle cx="517.8" cy="1415.3" r="2.1"/><circle cx="453.5" cy="1410.1" r="2.1"/><circle cx="470.9" cy="1430.3" r="2.1"/><circle cx="403" cy="1410.7" r="2.1"/><circle cx="370.9" cy="1428.5" r="2.1"/><circle cx="397.7" cy="1413.2" r="2.1"/><circle cx="376" cy="1425.7" r="2.1"/><circle cx="360.2" cy="1419.2" r="2.1"/><circle cx="367.5" cy="1422.8" r="2.1"/><circle cx="564" cy="1421.5" r="2.1"/><circle cx="398" cy="1411.6" r="2.1"/><circle cx="396" cy="1408" r="2.1"/><circle cx="426.3" cy="1418.7" r="2.1"/><circle cx="441" cy="1427.2" r="2.1"/><circle cx="546.7" cy="1421.3" r="2.1"/><circle cx="429.5" cy="1411.5" r="2.1"/><circle cx="386.7" cy="1422.9" r="2.1"/><circle cx="595.4" cy="1431" r="2.1"/><circle cx="477.8" cy="1419" r="2.1"/><circle cx="427.2" cy="1421.5" r="2.1"/><circle cx="386.4" cy="1418.2" r="2.1"/><circle cx="437.1" cy="1429.6" r="2.1"/><circle cx="393" cy="1409.8" r="2.1"/><circle cx="424.2" cy="1411.2" r="2.1"/><circle cx="434" cy="1429.2" r="2.1"/><circle cx="490.8" cy="1412.8" r="2.1"/><circle cx="395.6" cy="1428" r="2.1"/><circle cx="569.8" cy="1429.9" r="2.1"/><circle cx="444.9" cy="1409" r="2.1"/><circle cx="359.9" cy="1430" r="2.1"/><circle cx="455.2" cy="1413" r="2.1"/><circle cx="444.7" cy="1420.7" r="2.1"/><circle cx="360.7" cy="1423.6" r="2.1"/><circle cx="420.4" cy="1417.4" r="2.1"/><circle cx="577.4" cy="1431.5" r="2.1"/><circle cx="445.7" cy="1429" r="2.1"/><circle cx="387.2" cy="1420.5" r="2.1"/><circle cx="457.6" cy="1422.1" r="2.1"/><circle cx="474.9" cy="1430.2" r="2.1"/><circle cx="467.2" cy="1426.1" r="2.1"/><circle cx="428.5" cy="1429.2" r="2.1"/><circle cx="366" cy="1414.5" r="2.1"/><circle cx="547.1" cy="1414.2" r="2.1"/><circle cx="470.8" cy="1414.7" r="2.1"/><circle cx="421.3" cy="1431.1" r="2.1"/><circle cx="571.5" cy="1422" r="2.1"/><circle cx="381.9" cy="1410.3" r="2.1"/><circle cx="503.9" cy="1428.6" r="2.1"/><circle cx="408.8" cy="1414.1" r="2.1"/><circle cx="462.3" cy="1426" r="2.1"/><circle cx="443.3" cy="1423.5" r="2.1"/><circle cx="472.1" cy="1418.5" r="2.1"/><circle cx="498.6" cy="1412.4" r="2.1"/><circle cx="437" cy="1408.7" r="2.1"/><circle cx="475.4" cy="1423.6" r="2.1"/><circle cx="493" cy="1413.6" r="2.1"/><circle cx="626.4" cy="1414.2" r="2.1"/><circle cx="379.5" cy="1409.6" r="2.1"/><circle cx="422.7" cy="1418" r="2.1"/><circle cx="560.8" cy="1429.9" r="2.1"/><circle cx="420.7" cy="1411.5" r="2.1"/><circle cx="521.5" cy="1431.3" r="2.1"/><circle cx="511.9" cy="1418.9" r="2.1"/><circle cx="491.8" cy="1414.5" r="2.1"/><circle cx="507.3" cy="1430.8" r="2.1"/><circle cx="477.9" cy="1416.9" r="2.1"/><circle cx="380.8" cy="1410.3" r="2.1"/><circle cx="564.3" cy="1414.7" r="2.1"/><circle cx="365.4" cy="1409.4" r="2.1"/><circle cx="524.9" cy="1416.5" r="2.1"/><circle cx="424.6" cy="1422.6" r="2.1"/><circle cx="427.8" cy="1424.3" r="2.1"/><circle cx="419.3" cy="1420.9" r="2.1"/><circle cx="509.9" cy="1420.7" r="2.1"/><circle cx="393.8" cy="1409.9" r="2.1"/><circle cx="473.1" cy="1408.5" r="2.1"/><circle cx="417.6" cy="1422.7" r="2.1"/><circle cx="485.8" cy="1431.2" r="2.1"/><circle cx="383.5" cy="1413" r="2.1"/><circle cx="526.7" cy="1410.6" r="2.1"/><circle cx="387.6" cy="1412.6" r="2.1"/><circle cx="495.2" cy="1423.5" r="2.1"/><circle cx="388.3" cy="1411.2" r="2.1"/><circle cx="417.5" cy="1420.9" r="2.1"/><circle cx="415.2" cy="1411.6" r="2.1"/><circle cx="363" cy="1408.3" r="2.1"/><circle cx="458.7" cy="1409.1" r="2.1"/><circle cx="507.8" cy="1424.9" r="2.1"/><circle cx="650.9" cy="1419.2" r="2.1"/><circle cx="413.5" cy="1413.6" r="2.1"/><circle cx="367.3" cy="1420.2" r="2.1"/><circle cx="360.7" cy="1422.1" r="2.1"/><circle cx="368.7" cy="1426.2" r="2.1"/><circle cx="411.9" cy="1427.7" r="2.1"/><circle cx="437.2" cy="1410.7" r="2.1"/><circle cx="438" cy="1414.6" r="2.1"/><circle cx="379.8" cy="1430.6" r="2.1"/><circle cx="457.6" cy="1424.7" r="2.1"/><circle cx="350.2" cy="1411.7" r="2.1"/><circle cx="373.9" cy="1422.4" r="2.1"/><circle cx="419.3" cy="1417" r="2.1"/><circle cx="615.1" cy="1422.1" r="2.1"/><circle cx="412.2" cy="1424" r="2.1"/><circle cx="439.3" cy="1417.2" r="2.1"/><circle cx="398.9" cy="1421.2" r="2.1"/><circle cx="522.3" cy="1409.7" r="2.1"/><circle cx="380.9" cy="1414.6" r="2.1"/><circle cx="357.5" cy="1411.9" r="2.1"/><circle cx="369.5" cy="1410" r="2.1"/><circle cx="574" cy="1408" r="2.1"/><circle cx="557.4" cy="1416.3" r="2.1"/><circle cx="450.7" cy="1411.7" r="2.1"/><circle cx="504.6" cy="1418.7" r="2.1"/><circle cx="475.6" cy="1414.2" r="2.1"/><circle cx="409" cy="1413.5" r="2.1"/><circle cx="439.1" cy="1423.7" r="2.1"/><circle cx="386.2" cy="1424.3" r="2.1"/><circle cx="440.5" cy="1423" r="2.1"/><circle cx="506.2" cy="1410.4" r="2.1"/><circle cx="400.3" cy="1414.9" r="2.1"/><circle cx="501.8" cy="1418.3" r="2.1"/><circle cx="378.2" cy="1429.9" r="2.1"/><circle cx="548.1" cy="1422" r="2.1"/><circle cx="556.9" cy="1417.4" r="2.1"/><circle cx="434.7" cy="1418.8" r="2.1"/><circle cx="544.3" cy="1408.6" r="2.1"/><circle cx="534.9" cy="1416.4" r="2.1"/><circle cx="478.6" cy="1432.1" r="2.1"/><circle cx="408.1" cy="1423.8" r="2.1"/><circle cx="357.2" cy="1418.5" r="2.1"/><circle cx="441.9" cy="1416.4" r="2.1"/><circle cx="437" cy="1414.3" r="2.1"/><circle cx="482.1" cy="1418.3" r="2.1"/><circle cx="515.6" cy="1431.6" r="2.1"/><circle cx="548.2" cy="1429" r="2.1"/><circle cx="429.4" cy="1422.9" r="2.1"/><circle cx="428.1" cy="1422.5" r="2.1"/><circle cx="505.5" cy="1428.8" r="2.1"/><circle cx="354.9" cy="1413.7" r="2.1"/><circle cx="516.4" cy="1431.6" r="2.1"/><circle cx="461.9" cy="1409.6" r="2.1"/><circle cx="468.1" cy="1430.6" r="2.1"/><circle cx="360.7" cy="1409" r="2.1"/><circle cx="376.2" cy="1414" r="2.1"/><circle cx="451.8" cy="1424.3" r="2.1"/><circle cx="368.9" cy="1418.6" r="2.1"/><circle cx="410.8" cy="1422.7" r="2.1"/><circle cx="391.9" cy="1432" r="2.1"/><circle cx="496.4" cy="1424.6" r="2.1"/><circle cx="432.3" cy="1408.9" r="2.1"/><circle cx="488.7" cy="1408.3" r="2.1"/><circle cx="540.4" cy="1420.9" r="2.1"/><circle cx="479.8" cy="1431.3" r="2.1"/><circle cx="401.6" cy="1430.3" r="2.1"/><circle cx="442.7" cy="1417.2" r="2.1"/><circle cx="500.1" cy="1422" r="2.1"/><circle cx="496.8" cy="1412.2" r="2.1"/><circle cx="487.6" cy="1412.1" r="2.1"/><circle cx="594.8" cy="1419.9" r="2.1"/><circle cx="350.6" cy="1412.4" r="2.1"/><circle cx="474.7" cy="1408.1" r="2.1"/><circle cx="439.1" cy="1428.6" r="2.1"/><circle cx="497.2" cy="1423.3" r="2.1"/><circle cx="496" cy="1409.8" r="2.1"/><circle cx="443" cy="1422.9" r="2.1"/><circle cx="497.3" cy="1425.5" r="2.1"/><circle cx="380" cy="1421" r="2.1"/><circle cx="452.3" cy="1420.8" r="2.1"/><circle cx="505.2" cy="1416.9" r="2.1"/><circle cx="452.5" cy="1431.4" r="2.1"/><circle cx="517.1" cy="1422.8" r="2.1"/><circle cx="451" cy="1419.2" r="2.1"/><circle cx="506.8" cy="1423.7" r="2.1"/><circle cx="419.9" cy="1424.4" r="2.1"/><circle cx="450.3" cy="1422.6" r="2.1"/><circle cx="369.8" cy="1408.3" r="2.1"/><circle cx="477.9" cy="1430" r="2.1"/><circle cx="453.2" cy="1426" r="2.1"/><circle cx="418" cy="1407.8" r="2.1"/><circle cx="433.7" cy="1420.9" r="2.1"/><circle cx="421" cy="1418.8" r="2.1"/><circle cx="439" cy="1421.3" r="2.1"/><circle cx="441.9" cy="1411.7" r="2.1"/><circle cx="369.4" cy="1408.3" r="2.1"/><circle cx="399.5" cy="1409" r="2.1"/><circle cx="415.1" cy="1419" r="2.1"/><circle cx="536.5" cy="1415" r="2.1"/><circle cx="578.3" cy="1430.3" r="2.1"/><circle cx="504" cy="1410.4" r="2.1"/><circle cx="566.1" cy="1415.7" r="2.1"/><circle cx="411.7" cy="1414.6" r="2.1"/><circle cx="430.7" cy="1422.1" r="2.1"/><circle cx="410.6" cy="1423.2" r="2.1"/><circle cx="572.6" cy="1422.1" r="2.1"/><circle cx="466.1" cy="1419.1" r="2.1"/><circle cx="406.7" cy="1409.7" r="2.1"/><circle cx="389.2" cy="1420.2" r="2.1"/><circle cx="383.7" cy="1411.9" r="2.1"/><circle cx="507.3" cy="1424.7" r="2.1"/><circle cx="376.6" cy="1431.1" r="2.1"/><circle cx="394.9" cy="1431.4" r="2.1"/><circle cx="427.9" cy="1413.9" r="2.1"/><circle cx="527.2" cy="1421" r="2.1"/><circle cx="482.8" cy="1414.3" r="2.1"/><circle cx="345.2" cy="1428.2" r="2.1"/><circle cx="381" cy="1422.7" r="2.1"/><circle cx="383.2" cy="1411.1" r="2.1"/><circle cx="561.5" cy="1418.5" r="2.1"/><circle cx="600.3" cy="1411.3" r="2.1"/><circle cx="468.3" cy="1415.4" r="2.1"/><circle cx="466.5" cy="1427.5" r="2.1"/><circle cx="447" cy="1432" r="2.1"/><circle cx="510.7" cy="1408.2" r="2.1"/><circle cx="394.7" cy="1420.2" r="2.1"/><circle cx="374.3" cy="1408.1" r="2.1"/><circle cx="492.5" cy="1410.2" r="2.1"/><circle cx="373.1" cy="1430.8" r="2.1"/><circle cx="429.9" cy="1423.4" r="2.1"/><circle cx="402" cy="1410" r="2.1"/><circle cx="488.2" cy="1422.3" r="2.1"/><circle cx="422.5" cy="1413.9" r="2.1"/><circle cx="605.5" cy="1420.2" r="2.1"/><circle cx="470.3" cy="1425.6" r="2.1"/><circle cx="358.2" cy="1430.4" r="2.1"/><circle cx="565.4" cy="1429.4" r="2.1"/><circle cx="387.5" cy="1409.6" r="2.1"/><circle cx="617.5" cy="1413.7" r="2.1"/><circle cx="367.1" cy="1419.5" r="2.1"/><circle cx="403.2" cy="1413.7" r="2.1"/><circle cx="427.5" cy="1416.7" r="2.1"/><circle cx="417.9" cy="1429.5" r="2.1"/><circle cx="528.6" cy="1422.5" r="2.1"/><circle cx="456" cy="1412.2" r="2.1"/><circle cx="366.9" cy="1432.1" r="2.1"/><circle cx="445.2" cy="1419.2" r="2.1"/><circle cx="351" cy="1414.7" r="2.1"/><circle cx="645.9" cy="1410.2" r="2.1"/><circle cx="389" cy="1411.9" r="2.1"/><circle cx="375.2" cy="1427.5" r="2.1"/><circle cx="515.3" cy="1423.6" r="2.1"/><circle cx="465.8" cy="1429.8" r="2.1"/><circle cx="463.5" cy="1431.6" r="2.1"/><circle cx="369.5" cy="1424.5" r="2.1"/><circle cx="477.7" cy="1418" r="2.1"/><circle cx="543.3" cy="1408" r="2.1"/><circle cx="467.6" cy="1424.8" r="2.1"/><circle cx="517.5" cy="1423.4" r="2.1"/><circle cx="602.3" cy="1421.6" r="2.1"/><circle cx="442.7" cy="1421" r="2.1"/><circle cx="469.4" cy="1419" r="2.1"/><circle cx="449.1" cy="1412.5" r="2.1"/><circle cx="383.4" cy="1431.4" r="2.1"/><circle cx="383" cy="1429.6" r="2.1"/><circle cx="502.1" cy="1430.5" r="2.1"/><circle cx="364.1" cy="1423" r="2.1"/><circle cx="404.4" cy="1422.9" r="2.1"/><circle cx="342.3" cy="1410.4" r="2.1"/><circle cx="472.6" cy="1411.8" r="2.1"/><circle cx="375.8" cy="1428.3" r="2.1"/><circle cx="500.5" cy="1409.4" r="2.1"/><circle cx="365.5" cy="1430.2" r="2.1"/><circle cx="494.1" cy="1414.4" r="2.1"/><circle cx="399.7" cy="1411.9" r="2.1"/><circle cx="442.3" cy="1417.1" r="2.1"/><circle cx="340.9" cy="1409.5" r="2.1"/><circle cx="436.9" cy="1416.3" r="2.1"/><circle cx="507" cy="1427" r="2.1"/><circle cx="678.2" cy="1422.6" r="2.1"/><circle cx="501.6" cy="1417.8" r="2.1"/><circle cx="423.7" cy="1419.4" r="2.1"/><circle cx="425.3" cy="1424.9" r="2.1"/><circle cx="448.2" cy="1411.1" r="2.1"/><circle cx="630" cy="1420.2" r="2.1"/><circle cx="424.4" cy="1423.3" r="2.1"/><circle cx="460.8" cy="1411" r="2.1"/><circle cx="534.2" cy="1431.5" r="2.1"/><circle cx="515.5" cy="1430.5" r="2.1"/><circle cx="477.7" cy="1419.9" r="2.1"/><circle cx="391.2" cy="1424.8" r="2.1"/><circle cx="395.5" cy="1418.5" r="2.1"/><circle cx="519.8" cy="1418.6" r="2.1"/><circle cx="621.5" cy="1408.7" r="2.1"/><circle cx="587.9" cy="1417" r="2.1"/><circle cx="463.1" cy="1429" r="2.1"/><circle cx="511.5" cy="1425.2" r="2.1"/><circle cx="494.8" cy="1425" r="2.1"/><circle cx="527.1" cy="1425.1" r="2.1"/><circle cx="453.4" cy="1423.5" r="2.1"/><circle cx="348.2" cy="1422" r="2.1"/><circle cx="533.9" cy="1431.7" r="2.1"/><circle cx="382.4" cy="1417.5" r="2.1"/><circle cx="396.2" cy="1418.8" r="2.1"/><circle cx="356.1" cy="1424.9" r="2.1"/><circle cx="558" cy="1425.5" r="2.1"/><circle cx="487.2" cy="1421" r="2.1"/><circle cx="427.5" cy="1418.7" r="2.1"/><circle cx="389.9" cy="1424.9" r="2.1"/><circle cx="440.7" cy="1409.9" r="2.1"/><circle cx="455.7" cy="1413.6" r="2.1"/><circle cx="390.1" cy="1419.2" r="2.1"/><circle cx="557.5" cy="1416.4" r="2.1"/><circle cx="342.4" cy="1423.6" r="2.1"/><circle cx="536.9" cy="1410.1" r="2.1"/><circle cx="525.7" cy="1424.9" r="2.1"/><circle cx="476.3" cy="1417.1" r="2.1"/><circle cx="418.5" cy="1416" r="2.1"/><circle cx="429.7" cy="1416" r="2.1"/><circle cx="423.4" cy="1422" r="2.1"/><circle cx="431.2" cy="1408.7" r="2.1"/><circle cx="400.8" cy="1422.7" r="2.1"/><circle cx="527.9" cy="1430.4" r="2.1"/><circle cx="379" cy="1424.9" r="2.1"/><circle cx="508.4" cy="1411.6" r="2.1"/><circle cx="434.1" cy="1425.1" r="2.1"/><circle cx="469.5" cy="1409.3" r="2.1"/><circle cx="426.9" cy="1409.5" r="2.1"/><circle cx="391.2" cy="1418.5" r="2.1"/><circle cx="381.2" cy="1422.9" r="2.1"/><circle cx="512.4" cy="1413.4" r="2.1"/><circle cx="417.3" cy="1428" r="2.1"/><circle cx="481.9" cy="1419.2" r="2.1"/><circle cx="427.2" cy="1413.3" r="2.1"/><circle cx="459.6" cy="1410.1" r="2.1"/><circle cx="510.5" cy="1426.3" r="2.1"/><circle cx="507.6" cy="1418.5" r="2.1"/><circle cx="433.1" cy="1418.4" r="2.1"/><circle cx="429.9" cy="1429.2" r="2.1"/><circle cx="407.1" cy="1431.4" r="2.1"/><circle cx="388.8" cy="1428.7" r="2.1"/><circle cx="428.4" cy="1430.1" r="2.1"/><circle cx="414.2" cy="1426.6" r="2.1"/><circle cx="565.2" cy="1419.8" r="2.1"/><circle cx="508.6" cy="1414.8" r="2.1"/><circle cx="435.8" cy="1430.9" r="2.1"/><circle cx="342.9" cy="1415.3" r="2.1"/><circle cx="396.4" cy="1408.2" r="2.1"/><circle cx="468.5" cy="1409.6" r="2.1"/><circle cx="440.5" cy="1417.8" r="2.1"/><circle cx="397.3" cy="1422.6" r="2.1"/><circle cx="353.7" cy="1429.2" r="2.1"/><circle cx="395.9" cy="1429.8" r="2.1"/><circle cx="569.2" cy="1413.7" r="2.1"/><circle cx="422.8" cy="1416.7" r="2.1"/><circle cx="383.2" cy="1411.6" r="2.1"/><circle cx="393.8" cy="1413.2" r="2.1"/><circle cx="391.3" cy="1418.5" r="2.1"/><circle cx="452.2" cy="1422.2" r="2.1"/><circle cx="416.6" cy="1412.2" r="2.1"/><circle cx="509.8" cy="1414.2" r="2.1"/><circle cx="635.1" cy="1419.3" r="2.1"/><circle cx="460" cy="1431.9" r="2.1"/><circle cx="381.1" cy="1421.8" r="2.1"/><circle cx="514.6" cy="1418.5" r="2.1"/><circle cx="385.2" cy="1410" r="2.1"/><circle cx="469.4" cy="1418.7" r="2.1"/><circle cx="522.2" cy="1420.7" r="2.1"/><circle cx="490.8" cy="1424.7" r="2.1"/><circle cx="506.2" cy="1425.1" r="2.1"/><circle cx="425" cy="1418.1" r="2.1"/><circle cx="429.9" cy="1417" r="2.1"/><circle cx="477.5" cy="1420.1" r="2.1"/><circle cx="436" cy="1423.5" r="2.1"/><circle cx="409.9" cy="1424" r="2.1"/><circle cx="372.8" cy="1429.5" r="2.1"/><circle cx="423.2" cy="1426.7" r="2.1"/><circle cx="467.1" cy="1431.6" r="2.1"/><circle cx="423.3" cy="1419.5" r="2.1"/><circle cx="432.9" cy="1408.4" r="2.1"/><circle cx="442.9" cy="1408.6" r="2.1"/><circle cx="443.9" cy="1417.8" r="2.1"/><circle cx="583.2" cy="1413.7" r="2.1"/><circle cx="429.1" cy="1423.2" r="2.1"/><circle cx="435.5" cy="1419.4" r="2.1"/><circle cx="409" cy="1416.1" r="2.1"/><circle cx="447.5" cy="1423" r="2.1"/><circle cx="484.5" cy="1423" r="2.1"/><circle cx="356.5" cy="1418.4" r="2.1"/><circle cx="393" cy="1425.9" r="2.1"/><circle cx="460.6" cy="1419.5" r="2.1"/><circle cx="467.1" cy="1420" r="2.1"/><circle cx="465.1" cy="1423.8" r="2.1"/><circle cx="377.5" cy="1431.2" r="2.1"/><circle cx="513.5" cy="1421" r="2.1"/><circle cx="517.2" cy="1415.1" r="2.1"/><circle cx="368.7" cy="1409.8" r="2.1"/><circle cx="361" cy="1421.2" r="2.1"/><circle cx="375" cy="1417.9" r="2.1"/><circle cx="403.2" cy="1417.1" r="2.1"/><circle cx="473.5" cy="1415.1" r="2.1"/><circle cx="396.3" cy="1411.3" r="2.1"/><circle cx="451.3" cy="1410.4" r="2.1"/><circle cx="459.1" cy="1415.1" r="2.1"/><circle cx="587.5" cy="1430.9" r="2.1"/><circle cx="418" cy="1419.7" r="2.1"/><circle cx="440.1" cy="1424.8" r="2.1"/><circle cx="469.1" cy="1416" r="2.1"/><circle cx="487.8" cy="1430.7" r="2.1"/><circle cx="397.1" cy="1421.9" r="2.1"/><circle cx="422.9" cy="1418.5" r="2.1"/><circle cx="450.1" cy="1415.7" r="2.1"/><circle cx="344.3" cy="1414.7" r="2.1"/><circle cx="370.8" cy="1430.4" r="2.1"/><circle cx="443.3" cy="1418.7" r="2.1"/><circle cx="451.3" cy="1412.3" r="2.1"/><circle cx="610.2" cy="1419.9" r="2.1"/><circle cx="536.8" cy="1429.2" r="2.1"/><circle cx="567" cy="1412.3" r="2.1"/><circle cx="417.4" cy="1422.4" r="2.1"/><circle cx="591.3" cy="1417.6" r="2.1"/><circle cx="457" cy="1429.5" r="2.1"/><circle cx="441.4" cy="1412" r="2.1"/><circle cx="490.3" cy="1417.3" r="2.1"/><circle cx="325.4" cy="1430.3" r="2.1"/><circle cx="460.8" cy="1422.6" r="2.1"/><circle cx="450.3" cy="1417.3" r="2.1"/><circle cx="375.9" cy="1417.1" r="2.1"/><circle cx="470.6" cy="1413.7" r="2.1"/><circle cx="374.1" cy="1427.4" r="2.1"/><circle cx="476.6" cy="1426.2" r="2.1"/><circle cx="361.5" cy="1422.7" r="2.1"/><circle cx="402.1" cy="1425.1" r="2.1"/><circle cx="524" cy="1414.7" r="2.1"/><circle cx="378.2" cy="1425.9" r="2.1"/><circle cx="358.9" cy="1409.5" r="2.1"/><circle cx="392.9" cy="1430.8" r="2.1"/><circle cx="476.9" cy="1418" r="2.1"/><circle cx="359" cy="1429.3" r="2.1"/><circle cx="401.9" cy="1429.1" r="2.1"/><circle cx="416.5" cy="1419.8" r="2.1"/><circle cx="489" cy="1423.5" r="2.1"/><circle cx="442.1" cy="1430.9" r="2.1"/><circle cx="329.3" cy="1424.7" r="2.1"/><circle cx="482.1" cy="1423.6" r="2.1"/><circle cx="458.2" cy="1431.9" r="2.1"/><circle cx="423.7" cy="1408.8" r="2.1"/><circle cx="469.7" cy="1415" r="2.1"/><circle cx="482.2" cy="1431.4" r="2.1"/><circle cx="358.5" cy="1417.3" r="2.1"/><circle cx="562.6" cy="1423.8" r="2.1"/><circle cx="354.4" cy="1413.4" r="2.1"/><circle cx="456.5" cy="1413.3" r="2.1"/><circle cx="395.1" cy="1429.3" r="2.1"/><circle cx="529.1" cy="1408.6" r="2.1"/><circle cx="444.2" cy="1430.1" r="2.1"/><circle cx="480.3" cy="1427.2" r="2.1"/><circle cx="459.2" cy="1423.4" r="2.1"/><circle cx="394.6" cy="1429.9" r="2.1"/><circle cx="450.8" cy="1429.7" r="2.1"/><circle cx="573.5" cy="1415" r="2.1"/><circle cx="470.6" cy="1408.1" r="2.1"/><circle cx="398.1" cy="1416.1" r="2.1"/><circle cx="413.7" cy="1430.8" r="2.1"/><circle cx="416" cy="1421.2" r="2.1"/><circle cx="467.1" cy="1426" r="2.1"/><circle cx="455.2" cy="1409.8" r="2.1"/><circle cx="464.3" cy="1422.8" r="2.1"/><circle cx="362.8" cy="1423.6" r="2.1"/><circle cx="393.6" cy="1421" r="2.1"/><circle cx="397.1" cy="1421.4" r="2.1"/><circle cx="363.3" cy="1426.7" r="2.1"/><circle cx="366.3" cy="1415.7" r="2.1"/><circle cx="441.7" cy="1408.7" r="2.1"/><circle cx="351.9" cy="1412.2" r="2.1"/><circle cx="486" cy="1432.1" r="2.1"/><circle cx="401.8" cy="1415.5" r="2.1"/><circle cx="394.9" cy="1414.9" r="2.1"/><circle cx="374.2" cy="1413.9" r="2.1"/><circle cx="463" cy="1426.9" r="2.1"/><circle cx="353.2" cy="1428.7" r="2.1"/><circle cx="386.3" cy="1420.9" r="2.1"/><circle cx="388.8" cy="1422.1" r="2.1"/><circle cx="488.1" cy="1430.1" r="2.1"/><circle cx="422.4" cy="1415" r="2.1"/><circle cx="374.6" cy="1425" r="2.1"/><circle cx="590.7" cy="1421.5" r="2.1"/><circle cx="431.6" cy="1412.2" r="2.1"/><circle cx="483.4" cy="1415.5" r="2.1"/><circle cx="392.2" cy="1415.8" r="2.1"/><circle cx="399.2" cy="1429.4" r="2.1"/><circle cx="361.4" cy="1420.8" r="2.1"/><circle cx="385.6" cy="1410.3" r="2.1"/><circle cx="537.8" cy="1429.9" r="2.1"/><circle cx="450.9" cy="1413.7" r="2.1"/><circle cx="413.6" cy="1422.4" r="2.1"/><circle cx="429" cy="1409.6" r="2.1"/><circle cx="398.4" cy="1421.2" r="2.1"/><circle cx="446.9" cy="1410.6" r="2.1"/><circle cx="604.8" cy="1415.2" r="2.1"/><circle cx="349.8" cy="1429" r="2.1"/><circle cx="473.8" cy="1423.4" r="2.1"/><circle cx="471.1" cy="1424" r="2.1"/><circle cx="443.7" cy="1417" r="2.1"/><circle cx="423.1" cy="1422.9" r="2.1"/><circle cx="352.2" cy="1418.2" r="2.1"/><circle cx="395.8" cy="1424.9" r="2.1"/><circle cx="374.6" cy="1430.9" r="2.1"/><circle cx="429.2" cy="1408.9" r="2.1"/><circle cx="384.3" cy="1408.6" r="2.1"/><circle cx="484" cy="1419.3" r="2.1"/><circle cx="389.9" cy="1429.2" r="2.1"/><circle cx="461" cy="1415.2" r="2.1"/><circle cx="367.6" cy="1420.2" r="2.1"/><circle cx="370.4" cy="1414.8" r="2.1"/><circle cx="525.6" cy="1411.5" r="2.1"/><circle cx="457" cy="1428" r="2.1"/><circle cx="477.8" cy="1424.5" r="2.1"/><circle cx="590.7" cy="1420.2" r="2.1"/><circle cx="405.7" cy="1419.2" r="2.1"/><circle cx="544" cy="1413.9" r="2.1"/><circle cx="471.2" cy="1423.1" r="2.1"/><circle cx="424.1" cy="1411.8" r="2.1"/><circle cx="425.7" cy="1428.8" r="2.1"/><circle cx="482.5" cy="1407.9" r="2.1"/><circle cx="433" cy="1428.8" r="2.1"/><circle cx="360.9" cy="1414.6" r="2.1"/><circle cx="486.5" cy="1418.9" r="2.1"/><circle cx="538.5" cy="1425.8" r="2.1"/><circle cx="420.5" cy="1415.5" r="2.1"/><circle cx="379.9" cy="1411.5" r="2.1"/><circle cx="496.4" cy="1418.2" r="2.1"/><circle cx="591" cy="1424.9" r="2.1"/><circle cx="472.4" cy="1431.9" r="2.1"/><circle cx="525.8" cy="1424.8" r="2.1"/><circle cx="428.5" cy="1423.9" r="2.1"/><circle cx="461.8" cy="1423.4" r="2.1"/><circle cx="590" cy="1427.5" r="2.1"/><circle cx="449.9" cy="1428.4" r="2.1"/><circle cx="484.7" cy="1421" r="2.1"/><circle cx="443.4" cy="1428.7" r="2.1"/><circle cx="413.6" cy="1409.8" r="2.1"/><circle cx="523.2" cy="1410.9" r="2.1"/><circle cx="396" cy="1423.2" r="2.1"/><circle cx="561" cy="1430.3" r="2.1"/><circle cx="503.3" cy="1408.1" r="2.1"/><circle cx="469.4" cy="1424.5" r="2.1"/><circle cx="421.4" cy="1417" r="2.1"/><circle cx="401.2" cy="1414" r="2.1"/><circle cx="373" cy="1425.6" r="2.1"/><circle cx="563.4" cy="1422.6" r="2.1"/><circle cx="385.7" cy="1415.2" r="2.1"/><circle cx="528.8" cy="1419.4" r="2.1"/><circle cx="424.3" cy="1427.1" r="2.1"/><circle cx="479.1" cy="1421.2" r="2.1"/><circle cx="391.8" cy="1423" r="2.1"/><circle cx="539.4" cy="1427.8" r="2.1"/><circle cx="329.5" cy="1423.4" r="2.1"/><circle cx="543.9" cy="1422.1" r="2.1"/><circle cx="441.3" cy="1417.7" r="2.1"/><circle cx="401.9" cy="1417.9" r="2.1"/><circle cx="515" cy="1407.8" r="2.1"/><circle cx="587.2" cy="1419.3" r="2.1"/><circle cx="413.9" cy="1423.3" r="2.1"/><circle cx="449.4" cy="1426" r="2.1"/><circle cx="518.9" cy="1431.1" r="2.1"/><circle cx="408" cy="1410.5" r="2.1"/><circle cx="425.4" cy="1410.3" r="2.1"/><circle cx="430.7" cy="1423.5" r="2.1"/><circle cx="423.5" cy="1422.7" r="2.1"/><circle cx="463" cy="1413.4" r="2.1"/><circle cx="516.6" cy="1419.3" r="2.1"/><circle cx="477.1" cy="1426.2" r="2.1"/><circle cx="403.5" cy="1421.5" r="2.1"/><circle cx="418.7" cy="1416.7" r="2.1"/><circle cx="442.4" cy="1421.2" r="2.1"/><circle cx="500.8" cy="1416.4" r="2.1"/><circle cx="447.6" cy="1410.9" r="2.1"/><circle cx="419.2" cy="1417.7" r="2.1"/><circle cx="422.6" cy="1420.7" r="2.1"/><circle cx="470.9" cy="1429.7" r="2.1"/><circle cx="393.8" cy="1409.3" r="2.1"/><circle cx="496.2" cy="1411.6" r="2.1"/><circle cx="418" cy="1415.2" r="2.1"/><circle cx="393.5" cy="1426.5" r="2.1"/><circle cx="522" cy="1424" r="2.1"/><circle cx="394.7" cy="1410" r="2.1"/><circle cx="407.5" cy="1424.8" r="2.1"/><circle cx="396.3" cy="1411.6" r="2.1"/><circle cx="481.2" cy="1415.2" r="2.1"/><circle cx="424.3" cy="1421.4" r="2.1"/><circle cx="413.9" cy="1430.6" r="2.1"/><circle cx="443.4" cy="1410.2" r="2.1"/><circle cx="467" cy="1415.1" r="2.1"/><circle cx="419.1" cy="1409.5" r="2.1"/><circle cx="580.9" cy="1422.8" r="2.1"/><circle cx="436.6" cy="1418.4" r="2.1"/><circle cx="578.1" cy="1418.9" r="2.1"/><circle cx="577.6" cy="1431.2" r="2.1"/><circle cx="458.1" cy="1417.3" r="2.1"/><circle cx="438.7" cy="1409.4" r="2.1"/><circle cx="423.9" cy="1422.4" r="2.1"/><circle cx="615.6" cy="1413.1" r="2.1"/><circle cx="710" cy="1418.2" r="2.1"/><circle cx="382.6" cy="1430.1" r="2.1"/><circle cx="394.1" cy="1431.2" r="2.1"/><circle cx="441" cy="1428" r="2.1"/><circle cx="458.3" cy="1408.1" r="2.1"/><circle cx="527.6" cy="1423.8" r="2.1"/><circle cx="428.3" cy="1424.8" r="2.1"/><circle cx="404.3" cy="1409.5" r="2.1"/><circle cx="474.4" cy="1425.1" r="2.1"/><circle cx="464.4" cy="1424.9" r="2.1"/><circle cx="498.1" cy="1429.1" r="2.1"/><circle cx="476.5" cy="1409.6" r="2.1"/><circle cx="393.7" cy="1429.4" r="2.1"/><circle cx="416.1" cy="1409.1" r="2.1"/><circle cx="456.9" cy="1420.7" r="2.1"/><circle cx="624.8" cy="1423.7" r="2.1"/><circle cx="487.2" cy="1411.2" r="2.1"/><circle cx="487.6" cy="1412.5" r="2.1"/><circle cx="328" cy="1430.5" r="2.1"/><circle cx="370.1" cy="1408.8" r="2.1"/><circle cx="537.5" cy="1418.2" r="2.1"/><circle cx="387.6" cy="1420" r="2.1"/><circle cx="413.5" cy="1420.8" r="2.1"/><circle cx="511.2" cy="1413.4" r="2.1"/><circle cx="399.8" cy="1412.6" r="2.1"/><circle cx="485.1" cy="1424.6" r="2.1"/><circle cx="446.7" cy="1426.9" r="2.1"/><circle cx="390.3" cy="1409.6" r="2.1"/><circle cx="360.7" cy="1414.4" r="2.1"/><circle cx="486.7" cy="1428.7" r="2.1"/><circle cx="360.5" cy="1425.3" r="2.1"/><circle cx="334.1" cy="1412.8" r="2.1"/><circle cx="712.9" cy="1419.3" r="2.1"/><circle cx="433.5" cy="1418.1" r="2.1"/><circle cx="573.8" cy="1418.5" r="2.1"/><circle cx="533.6" cy="1413.2" r="2.1"/><circle cx="411.5" cy="1409" r="2.1"/><circle cx="489" cy="1413.5" r="2.1"/><circle cx="488.8" cy="1422.2" r="2.1"/><circle cx="457.3" cy="1431.2" r="2.1"/><circle cx="524.1" cy="1424.3" r="2.1"/><circle cx="529.1" cy="1421.1" r="2.1"/><circle cx="464.5" cy="1430" r="2.1"/><circle cx="366.6" cy="1418.2" r="2.1"/><circle cx="383" cy="1409.9" r="2.1"/><circle cx="436.1" cy="1424.2" r="2.1"/><circle cx="491.1" cy="1417" r="2.1"/><circle cx="463.5" cy="1425.3" r="2.1"/><circle cx="417.7" cy="1421.7" r="2.1"/><circle cx="526.3" cy="1420.9" r="2.1"/><circle cx="445.7" cy="1412" r="2.1"/><circle cx="385" cy="1424.8" r="2.1"/><circle cx="393.8" cy="1429.9" r="2.1"/><circle cx="463.9" cy="1431.1" r="2.1"/><circle cx="476.7" cy="1425.2" r="2.1"/><circle cx="386.3" cy="1411.3" r="2.1"/><circle cx="433.1" cy="1431.8" r="2.1"/><circle cx="437.6" cy="1414.5" r="2.1"/><circle cx="410.3" cy="1416.5" r="2.1"/><circle cx="369.6" cy="1426.1" r="2.1"/><circle cx="573.8" cy="1409.3" r="2.1"/><circle cx="482.7" cy="1414.8" r="2.1"/><circle cx="431" cy="1416.3" r="2.1"/><circle cx="376" cy="1431.4" r="2.1"/><circle cx="425.9" cy="1424" r="2.1"/><circle cx="545.4" cy="1413" r="2.1"/><circle cx="415.3" cy="1418.8" r="2.1"/><circle cx="388.8" cy="1420.7" r="2.1"/><circle cx="439.9" cy="1419" r="2.1"/><circle cx="392.9" cy="1425.1" r="2.1"/><circle cx="599.1" cy="1422.5" r="2.1"/><circle cx="353.6" cy="1430.1" r="2.1"/><circle cx="392.9" cy="1426" r="2.1"/><circle cx="432" cy="1418.6" r="2.1"/><circle cx="462.4" cy="1417.3" r="2.1"/><circle cx="399" cy="1419.9" r="2.1"/><circle cx="450.5" cy="1411.9" r="2.1"/><circle cx="496.5" cy="1410.4" r="2.1"/><circle cx="546.3" cy="1419.8" r="2.1"/><circle cx="381.1" cy="1415.4" r="2.1"/><circle cx="477.4" cy="1411.8" r="2.1"/><circle cx="376.2" cy="1431" r="2.1"/><circle cx="520.9" cy="1415.5" r="2.1"/><circle cx="444.7" cy="1430.1" r="2.1"/><circle cx="441.1" cy="1426.3" r="2.1"/><circle cx="389.3" cy="1423.9" r="2.1"/><circle cx="483.8" cy="1411.6" r="2.1"/><circle cx="449.6" cy="1410.5" r="2.1"/><circle cx="568.1" cy="1421.5" r="2.1"/><circle cx="454.5" cy="1428.5" r="2.1"/><circle cx="401.4" cy="1419.9" r="2.1"/><circle cx="449.2" cy="1410.7" r="2.1"/><circle cx="524.4" cy="1429.1" r="2.1"/><circle cx="482.2" cy="1418.6" r="2.1"/><circle cx="420.8" cy="1431.9" r="2.1"/><circle cx="361" cy="1408.8" r="2.1"/><circle cx="366.9" cy="1425.8" r="2.1"/><circle cx="441.2" cy="1410.4" r="2.1"/><circle cx="378.2" cy="1418.3" r="2.1"/><circle cx="498.4" cy="1417" r="2.1"/><circle cx="472.9" cy="1431.6" r="2.1"/><circle cx="378.3" cy="1409.1" r="2.1"/><circle cx="371.7" cy="1419.2" r="2.1"/><circle cx="517" cy="1428.1" r="2.1"/><circle cx="372.5" cy="1417.5" r="2.1"/><circle cx="478.3" cy="1411.3" r="2.1"/><circle cx="363" cy="1429.6" r="2.1"/><circle cx="477.1" cy="1418.3" r="2.1"/><circle cx="468.5" cy="1428.1" r="2.1"/><circle cx="422.4" cy="1416.3" r="2.1"/><circle cx="355" cy="1425.9" r="2.1"/><circle cx="608.8" cy="1426.4" r="2.1"/><circle cx="398.9" cy="1430.3" r="2.1"/><circle cx="429.4" cy="1408.5" r="2.1"/><circle cx="493.6" cy="1421.9" r="2.1"/><circle cx="400.1" cy="1414.2" r="2.1"/><circle cx="466.1" cy="1426.2" r="2.1"/><circle cx="417.1" cy="1419.4" r="2.1"/><circle cx="494.7" cy="1411.1" r="2.1"/><circle cx="527.9" cy="1422" r="2.1"/><circle cx="357.3" cy="1426.8" r="2.1"/><circle cx="387.9" cy="1410.9" r="2.1"/><circle cx="483.9" cy="1412.5" r="2.1"/><circle cx="461.5" cy="1411.4" r="2.1"/><circle cx="502.7" cy="1425.2" r="2.1"/><circle cx="398.5" cy="1413.5" r="2.1"/><circle cx="444.1" cy="1427.9" r="2.1"/><circle cx="327.6" cy="1416.4" r="2.1"/><circle cx="454.8" cy="1410.9" r="2.1"/><circle cx="462.9" cy="1424.2" r="2.1"/><circle cx="452.2" cy="1419.7" r="2.1"/><circle cx="409.1" cy="1408.1" r="2.1"/><circle cx="456.6" cy="1413" r="2.1"/><circle cx="525.3" cy="1408.9" r="2.1"/><circle cx="357.1" cy="1408.5" r="2.1"/><circle cx="420.3" cy="1415.5" r="2.1"/><circle cx="392.8" cy="1415.4" r="2.1"/><circle cx="484.3" cy="1416.2" r="2.1"/><circle cx="359.6" cy="1427" r="2.1"/><circle cx="434.4" cy="1414.9" r="2.1"/><circle cx="516.4" cy="1421.1" r="2.1"/><circle cx="434.4" cy="1414.4" r="2.1"/><circle cx="441.7" cy="1417.2" r="2.1"/><circle cx="468.9" cy="1416.5" r="2.1"/><circle cx="421.5" cy="1418.2" r="2.1"/><circle cx="513.1" cy="1421.6" r="2.1"/><circle cx="403" cy="1409.9" r="2.1"/><circle cx="377.2" cy="1412.2" r="2.1"/><circle cx="359.2" cy="1414.4" r="2.1"/><circle cx="462.3" cy="1409.6" r="2.1"/><circle cx="401.2" cy="1429.5" r="2.1"/><circle cx="337.5" cy="1425.2" r="2.1"/><circle cx="398.5" cy="1414.3" r="2.1"/><circle cx="378.1" cy="1413.5" r="2.1"/><circle cx="468.5" cy="1416.3" r="2.1"/><circle cx="414" cy="1431.4" r="2.1"/><circle cx="472.5" cy="1425.8" r="2.1"/><circle cx="476.8" cy="1408.2" r="2.1"/><circle cx="392" cy="1423.1" r="2.1"/><circle cx="452" cy="1430.7" r="2.1"/><circle cx="441.5" cy="1427.7" r="2.1"/><circle cx="488.8" cy="1409.1" r="2.1"/><circle cx="376.2" cy="1431.1" r="2.1"/><circle cx="367.1" cy="1422.5" r="2.1"/><circle cx="403.6" cy="1417.8" r="2.1"/><circle cx="469.2" cy="1418.8" r="2.1"/><circle cx="396" cy="1417.6" r="2.1"/><circle cx="490.1" cy="1425.6" r="2.1"/><circle cx="371.8" cy="1415.9" r="2.1"/><circle cx="507.5" cy="1409" r="2.1"/><circle cx="392.2" cy="1418.5" r="2.1"/><circle cx="379.8" cy="1413.7" r="2.1"/><circle cx="404.8" cy="1431.5" r="2.1"/><circle cx="421.5" cy="1431.9" r="2.1"/><circle cx="439.1" cy="1429.4" r="2.1"/><circle cx="500.3" cy="1424.1" r="2.1"/><circle cx="392.6" cy="1423.4" r="2.1"/><circle cx="533.8" cy="1412.1" r="2.1"/><circle cx="445.4" cy="1425.3" r="2.1"/><circle cx="610" cy="1429.1" r="2.1"/><circle cx="591.9" cy="1427.1" r="2.1"/><circle cx="367.1" cy="1427.7" r="2.1"/><circle cx="455.6" cy="1427.6" r="2.1"/><circle cx="375.7" cy="1422.5" r="2.1"/><circle cx="446.1" cy="1417.3" r="2.1"/><circle cx="511" cy="1416.9" r="2.1"/><circle cx="421.7" cy="1431.9" r="2.1"/><circle cx="455.8" cy="1422" r="2.1"/><circle cx="384.8" cy="1430.3" r="2.1"/><circle cx="408.3" cy="1411.1" r="2.1"/><circle cx="388.6" cy="1413.5" r="2.1"/><circle cx="463" cy="1408.9" r="2.1"/><circle cx="378" cy="1408.1" r="2.1"/><circle cx="426.2" cy="1414.1" r="2.1"/><circle cx="506.5" cy="1417" r="2.1"/><circle cx="393.4" cy="1408.1" r="2.1"/><circle cx="508.7" cy="1421.6" r="2.1"/><circle cx="384.7" cy="1412" r="2.1"/><circle cx="432.4" cy="1418" r="2.1"/><circle cx="366.4" cy="1420.9" r="2.1"/><circle cx="444.8" cy="1409.1" r="2.1"/><circle cx="402.3" cy="1426.9" r="2.1"/><circle cx="404.4" cy="1416.5" r="2.1"/><circle cx="367.8" cy="1417.3" r="2.1"/><circle cx="543.1" cy="1429.4" r="2.1"/><circle cx="551.1" cy="1425" r="2.1"/><circle cx="516.9" cy="1411.1" r="2.1"/><circle cx="403.1" cy="1430.7" r="2.1"/><circle cx="472.8" cy="1431.6" r="2.1"/><circle cx="426.1" cy="1428.6" r="2.1"/><circle cx="496.6" cy="1412.9" r="2.1"/><circle cx="456.4" cy="1423" r="2.1"/><circle cx="481.9" cy="1423.9" r="2.1"/><circle cx="396.7" cy="1418.8" r="2.1"/><circle cx="480.9" cy="1422" r="2.1"/><circle cx="541.2" cy="1430" r="2.1"/><circle cx="493.5" cy="1424.9" r="2.1"/><circle cx="564.5" cy="1415.1" r="2.1"/><circle cx="557.5" cy="1424.9" r="2.1"/><circle cx="481.6" cy="1409" r="2.1"/><circle cx="391.9" cy="1419" r="2.1"/><circle cx="455.4" cy="1427.4" r="2.1"/><circle cx="518.6" cy="1407.9" r="2.1"/><circle cx="390.4" cy="1419.2" r="2.1"/>
</g>
<g fill="#ff0000">
<circle cx="365.7" cy="1387" r="2.1"/><circle cx="434.9" cy="1378.8" r="2.1"/><circle cx="428.3" cy="1396.6" r="2.1"/><circle cx="390.7" cy="1395.2" r="2.1"/><circle cx="538.9" cy="1407.3" r="2.1"/><circle cx="375" cy="1406.6" r="2.1"/><circle cx="442.1" cy="1361.5" r="2.1"/><circle cx="358" cy="1391.5" r="2.1"/><circle cx="473.6" cy="1302.9" r="2.1"/><circle cx="422.7" cy="1395.8" r="2.1"/><circle cx="504.4" cy="1359.4" r="2.1"/><circle cx="596.1" cy="1404.1" r="2.1"/><circle cx="356.3" cy="1347.8" r="2.1"/><circle cx="412.3" cy="1403.7" r="2.1"/><circle cx="447.4" cy="1401.3" r="2.1"/><circle cx="370.5" cy="1407.3" r="2.1"/><circle cx="421.2" cy="1399.4" r="2.1"/><circle cx="402.7" cy="1350.6" r="2.1"/><circle cx="544" cy="1372.3" r="2.1"/><circle cx="424.7" cy="1377.1" r="2.1"/><circle cx="540" cy="1397.9" r="2.1"/><circle cx="406.6" cy="1376.7" r="2.1"/><circle cx="485.2" cy="1375.4" r="2.1"/><circle cx="374.6" cy="1407.1" r="2.1"/><circle cx="366.2" cy="1407.7" r="2.1"/><circle cx="511.5" cy="1374.5" r="2.1"/><circle cx="442.7" cy="1392.1" r="2.1"/><circle cx="376.6" cy="1395.1" r="2.1"/><circle cx="340" cy="1407.5" r="2.1"/><circle cx="406.9" cy="1304" r="2.1"/><circle cx="366.2" cy="1375.5" r="2.1"/><circle cx="356.6" cy="1339.7" r="2.1"/><circle cx="453.9" cy="1389.1" r="2.1"/><circle cx="468.6" cy="1368.6" r="2.1"/><circle cx="343.8" cy="1399.8" r="2.1"/><circle cx="366.8" cy="1397.6" r="2.1"/><circle cx="391.4" cy="1402.2" r="2.1"/><circle cx="496.2" cy="1403.1" r="2.1"/><circle cx="539.5" cy="1366.7" r="2.1"/><circle cx="368.6" cy="1391.6" r="2.1"/><circle cx="453.9" cy="1338.6" r="2.1"/><circle cx="357.1" cy="1396.4" r="2.1"/><circle cx="369.6" cy="1392.1" r="2.1"/><circle cx="532" cy="1387.2" r="2.1"/><circle cx="386.5" cy="1321.4" r="2.1"/><circle cx="387.6" cy="1389.2" r="2.1"/><circle cx="359.7" cy="1389.5" r="2.1"/><circle cx="435.7" cy="1406.7" r="2.1"/><circle cx="402.1" cy="1346.4" r="2.1"/><circle cx="395.4" cy="1397.2" r="2.1"/><circle cx="375.4" cy="1343.1" r="2.1"/><circle cx="369" cy="1360.3" r="2.1"/><circle cx="572.1" cy="1385.5" r="2.1"/><circle cx="420.8" cy="1372" r="2.1"/><circle cx="513.3" cy="1405.9" r="2.1"/><circle cx="415.4" cy="1384.9" r="2.1"/><circle cx="365.5" cy="1354.3" r="2.1"/><circle cx="403.3" cy="1394.5" r="2.1"/><circle cx="424.3" cy="1398.5" r="2.1"/><circle cx="450.4" cy="1401.9" r="2.1"/><circle cx="400.8" cy="1358.5" r="2.1"/><circle cx="485.5" cy="1348" r="2.1"/><circle cx="410.6" cy="1360" r="2.1"/><circle cx="428.1" cy="1406.1" r="2.1"/><circle cx="389.4" cy="1406.4" r="2.1"/><circle cx="403.6" cy="1375.9" r="2.1"/><circle cx="381.6" cy="1290.4" r="2.1"/><circle cx="490.9" cy="1385.3" r="2.1"/><circle cx="485.8" cy="1329.3" r="2.1"/><circle cx="434.8" cy="1325" r="2.1"/><circle cx="437.7" cy="1403.9" r="2.1"/><circle cx="406.5" cy="1327.6" r="2.1"/><circle cx="478.5" cy="1326" r="2.1"/><circle cx="550.5" cy="1368.4" r="2.1"/><circle cx="364.9" cy="1405.4" r="2.1"/><circle cx="399.2" cy="1399.2" r="2.1"/><circle cx="383.9" cy="1391.3" r="2.1"/><circle cx="427.2" cy="1342.6" r="2.1"/><circle cx="449.9" cy="1403.4" r="2.1"/><circle cx="440.7" cy="1394.3" r="2.1"/><circle cx="485.7" cy="1399" r="2.1"/><circle cx="350.4" cy="1388.4" r="2.1"/><circle cx="327.2" cy="1341.2" r="2.1"/><circle cx="355.3" cy="1370.3" r="2.1"/><circle cx="577.5" cy="1401.1" r="2.1"/><circle cx="363.7" cy="1320.3" r="2.1"/><circle cx="373.1" cy="1385.6" r="2.1"/><circle cx="421.6" cy="1341.3" r="2.1"/><circle cx="408.9" cy="1386.9" r="2.1"/><circle cx="407.1" cy="1329.1" r="2.1"/><circle cx="352.7" cy="1358.1" r="2.1"/><circle cx="384.2" cy="1374.2" r="2.1"/><circle cx="413.7" cy="1386.2" r="2.1"/><circle cx="439.6" cy="1338.5" r="2.1"/><circle cx="349.8" cy="1395.8" r="2.1"/><circle cx="422.5" cy="1307.9" r="2.1"/><circle cx="535.2" cy="1406.7" r="2.1"/><circle cx="540.9" cy="1355.3" r="2.1"/><circle cx="386.1" cy="1401.9" r="2.1"/><circle cx="577.5" cy="1406.8" r="2.1"/><circle cx="476.9" cy="1374.6" r="2.1"/><circle cx="383.4" cy="1406.7" r="2.1"/><circle cx="453.9" cy="1375.2" r="2.1"/><circle cx="378.6" cy="1397.6" r="2.1"/><circle cx="523" cy="1398.5" r="2.1"/><circle cx="579.2" cy="1395.8" r="2.1"/><circle cx="373.2" cy="1401.1" r="2.1"/><circle cx="402" cy="1397.4" r="2.1"/><circle cx="410.3" cy="1369.9" r="2.1"/><circle cx="389.4" cy="1384.8" r="2.1"/><circle cx="396.9" cy="1387.9" r="2.1"/><circle cx="424.3" cy="1371.2" r="2.1"/><circle cx="366.7" cy="1384.4" r="2.1"/><circle cx="340.4" cy="1392.5" r="2.1"/><circle cx="396.4" cy="1377.3" r="2.1"/><circle cx="439.7" cy="1399.5" r="2.1"/><circle cx="535.2" cy="1367.1" r="2.1"/><circle cx="539.1" cy="1395.9" r="2.1"/><circle cx="572.4" cy="1392.6" r="2.1"/><circle cx="418" cy="1373.4" r="2.1"/><circle cx="360.4" cy="1396.6" r="2.1"/><circle cx="476.8" cy="1406.7" r="2.1"/><circle cx="352.8" cy="1295.3" r="2.1"/><circle cx="456.7" cy="1375" r="2.1"/><circle cx="420.7" cy="1396.7" r="2.1"/><circle cx="430.3" cy="1394.9" r="2.1"/><circle cx="346.1" cy="1381.1" r="2.1"/><circle cx="327.5" cy="1403.6" r="2.1"/><circle cx="358.9" cy="1376" r="2.1"/><circle cx="399.2" cy="1402" r="2.1"/><circle cx="365.4" cy="1374.5" r="2.1"/><circle cx="319.5" cy="1366.1" r="2.1"/><circle cx="390.6" cy="1394.2" r="2.1"/><circle cx="432.9" cy="1405.7" r="2.1"/><circle cx="495.5" cy="1402.6" r="2.1"/><circle cx="574.7" cy="1392" r="2.1"/><circle cx="426.6" cy="1327.4" r="2.1"/><circle cx="566.9" cy="1391.6" r="2.1"/><circle cx="345.5" cy="1403.6" r="2.1"/><circle cx="382.3" cy="1378.9" r="2.1"/><circle cx="416.1" cy="1319.7" r="2.1"/><circle cx="475.5" cy="1329.3" r="2.1"/><circle cx="358.9" cy="1407.4" r="2.1"/><circle cx="328.6" cy="1398.5" r="2.1"/><circle cx="425.1" cy="1370.6" r="2.1"/><circle cx="383.9" cy="1397.1" r="2.1"/><circle cx="514" cy="1334.8" r="2.1"/><circle cx="367.1" cy="1299.1" r="2.1"/><circle cx="399.8" cy="1374.8" r="2.1"/><circle cx="398.5" cy="1309.7" r="2.1"/><circle cx="339.8" cy="1321.5" r="2.1"/><circle cx="383.7" cy="1397.8" r="2.1"/><circle cx="412.2" cy="1404.1" r="2.1"/><circle cx="446.3" cy="1405.1" r="2.1"/><circle cx="487.2" cy="1397.6" r="2.1"/><circle cx="480.8" cy="1402.2" r="2.1"/><circle cx="521.6" cy="1396.3" r="2.1"/><circle cx="496.5" cy="1396.9" r="2.1"/><circle cx="459" cy="1374.1" r="2.1"/><circle cx="390.3" cy="1405.9" r="2.1"/><circle cx="375.6" cy="1335.2" r="2.1"/><circle cx="519.7" cy="1360.2" r="2.1"/><circle cx="424.7" cy="1398.9" r="2.1"/><circle cx="421.1" cy="1326.9" r="2.1"/><circle cx="516.5" cy="1379" r="2.1"/><circle cx="350.3" cy="1397.5" r="2.1"/><circle cx="402.9" cy="1399.3" r="2.1"/><circle cx="428.3" cy="1379.3" r="2.1"/><circle cx="544.5" cy="1407.8" r="2.1"/><circle cx="428.1" cy="1355.8" r="2.1"/><circle cx="566.3" cy="1404.7" r="2.1"/><circle cx="580.6" cy="1406.3" r="2.1"/><circle cx="371.9" cy="1342.7" r="2.1"/><circle cx="459.3" cy="1332.9" r="2.1"/><circle cx="466.6" cy="1405.5" r="2.1"/><circle cx="355.5" cy="1388.5" r="2.1"/><circle cx="448.1" cy="1354.4" r="2.1"/><circle cx="548" cy="1356.1" r="2.1"/><circle cx="399.1" cy="1386.9" r="2.1"/><circle cx="582.6" cy="1382.3" r="2.1"/><circle cx="385.1" cy="1327.7" r="2.1"/><circle cx="408.9" cy="1389.2" r="2.1"/><circle cx="366.8" cy="1385.8" r="2.1"/><circle cx="379.5" cy="1387.2" r="2.1"/><circle cx="387.6" cy="1402.3" r="2.1"/><circle cx="422.3" cy="1381.7" r="2.1"/><circle cx="393.1" cy="1321.5" r="2.1"/><circle cx="402.1" cy="1379.3" r="2.1"/><circle cx="390.3" cy="1372" r="2.1"/><circle cx="415.8" cy="1371.2" r="2.1"/><circle cx="344.7" cy="1369" r="2.1"/><circle cx="370.5" cy="1312.3" r="2.1"/><circle cx="523.4" cy="1377.4" r="2.1"/><circle cx="390.6" cy="1358.8" r="2.1"/><circle cx="390.5" cy="1369.5" r="2.1"/><circle cx="430.4" cy="1387.3" r="2.1"/><circle cx="390.7" cy="1397.3" r="2.1"/><circle cx="530.2" cy="1393.7" r="2.1"/><circle cx="429.4" cy="1378.6" r="2.1"/><circle cx="359.1" cy="1400.9" r="2.1"/><circle cx="348.3" cy="1395.5" r="2.1"/><circle cx="454.9" cy="1339.6" r="2.1"/><circle cx="484.2" cy="1403.7" r="2.1"/><circle cx="424" cy="1364" r="2.1"/><circle cx="348.1" cy="1361.1" r="2.1"/><circle cx="472.1" cy="1393.4" r="2.1"/><circle cx="384" cy="1394.4" r="2.1"/><circle cx="418" cy="1390.5" r="2.1"/><circle cx="426" cy="1406.4" r="2.1"/><circle cx="441" cy="1365" r="2.1"/><circle cx="391.8" cy="1373.6" r="2.1"/><circle cx="567.9" cy="1407.4" r="2.1"/><circle cx="388.8" cy="1375" r="2.1"/><circle cx="349.1" cy="1371.8" r="2.1"/><circle cx="413.7" cy="1363.1" r="2.1"/><circle cx="479" cy="1329.4" r="2.1"/><circle cx="525.3" cy="1374.6" r="2.1"/><circle cx="369.9" cy="1407" r="2.1"/><circle cx="407" cy="1389.7" r="2.1"/><circle cx="386.2" cy="1392.9" r="2.1"/><circle cx="411.1" cy="1354.5" r="2.1"/><circle cx="330.6" cy="1371.8" r="2.1"/><circle cx="327.9" cy="1393.2" r="2.1"/><circle cx="447" cy="1404.1" r="2.1"/><circle cx="558.5" cy="1404" r="2.1"/><circle cx="497.7" cy="1381.1" r="2.1"/><circle cx="488.1" cy="1386.4" r="2.1"/><circle cx="456.6" cy="1361.6" r="2.1"/><circle cx="496.6" cy="1375" r="2.1"/><circle cx="366.9" cy="1338.1" r="2.1"/><circle cx="476.8" cy="1401.7" r="2.1"/><circle cx="386" cy="1386.5" r="2.1"/><circle cx="391.3" cy="1398.5" r="2.1"/><circle cx="482.7" cy="1404.6" r="2.1"/><circle cx="370.1" cy="1340.6" r="2.1"/><circle cx="415.1" cy="1333" r="2.1"/><circle cx="465.1" cy="1385.3" r="2.1"/><circle cx="535" cy="1370.8" r="2.1"/><circle cx="381.6" cy="1401.1" r="2.1"/><circle cx="355.2" cy="1343.3" r="2.1"/><circle cx="372.6" cy="1366.1" r="2.1"/><circle cx="386" cy="1380.3" r="2.1"/><circle cx="395.1" cy="1403.5" r="2.1"/><circle cx="408.7" cy="1344.5" r="2.1"/><circle cx="384.7" cy="1388.4" r="2.1"/><circle cx="385.3" cy="1401.1" r="2.1"/><circle cx="366.9" cy="1336.9" r="2.1"/><circle cx="335.5" cy="1387.7" r="2.1"/><circle cx="460.7" cy="1382.4" r="2.1"/><circle cx="381.6" cy="1367.2" r="2.1"/><circle cx="436.7" cy="1402.6" r="2.1"/><circle cx="358" cy="1407.4" r="2.1"/><circle cx="460.9" cy="1401" r="2.1"/><circle cx="469" cy="1374.3" r="2.1"/><circle cx="591.6" cy="1404.5" r="2.1"/><circle cx="432.3" cy="1395.7" r="2.1"/><circle cx="496.6" cy="1384.1" r="2.1"/><circle cx="392.3" cy="1394.6" r="2.1"/><circle cx="394.5" cy="1354.9" r="2.1"/><circle cx="392.1" cy="1355.5" r="2.1"/><circle cx="423.2" cy="1367.8" r="2.1"/><circle cx="379.9" cy="1363.1" r="2.1"/><circle cx="500.9" cy="1405.2" r="2.1"/><circle cx="476" cy="1405.6" r="2.1"/><circle cx="579.5" cy="1404.7" r="2.1"/><circle cx="357.2" cy="1354.6" r="2.1"/><circle cx="409.2" cy="1406.5" r="2.1"/><circle cx="352.3" cy="1406.4" r="2.1"/><circle cx="386.3" cy="1359.3" r="2.1"/><circle cx="583" cy="1398.6" r="2.1"/><circle cx="396.4" cy="1396.9" r="2.1"/><circle cx="535.9" cy="1396.3" r="2.1"/><circle cx="412.8" cy="1313.4" r="2.1"/><circle cx="388.8" cy="1401.7" r="2.1"/><circle cx="397.3" cy="1401.6" r="2.1"/><circle cx="533.5" cy="1368.5" r="2.1"/><circle cx="386.3" cy="1341" r="2.1"/><circle cx="369" cy="1387.7" r="2.1"/><circle cx="367" cy="1380.7" r="2.1"/><circle cx="349.4" cy="1341.4" r="2.1"/><circle cx="412.5" cy="1385.9" r="2.1"/><circle cx="390.5" cy="1362.6" r="2.1"/><circle cx="389" cy="1391.8" r="2.1"/><circle cx="441" cy="1398.3" r="2.1"/><circle cx="378.5" cy="1388.2" r="2.1"/><circle cx="419.8" cy="1320.7" r="2.1"/><circle cx="538.7" cy="1363.7" r="2.1"/><circle cx="431.3" cy="1395.9" r="2.1"/><circle cx="406.8" cy="1381.7" r="2.1"/><circle cx="429.8" cy="1373.6" r="2.1"/><circle cx="505.2" cy="1387.8" r="2.1"/><circle cx="428.3" cy="1405.4" r="2.1"/><circle cx="392.1" cy="1382.2" r="2.1"/><circle cx="358.2" cy="1373" r="2.1"/><circle cx="338.9" cy="1349" r="2.1"/><circle cx="374.5" cy="1404.7" r="2.1"/><circle cx="383.8" cy="1388.5" r="2.1"/><circle cx="538.8" cy="1404.6" r="2.1"/><circle cx="390.8" cy="1336.9" r="2.1"/><circle cx="384.5" cy="1367.3" r="2.1"/><circle cx="368.7" cy="1374.4" r="2.1"/><circle cx="329.6" cy="1345.3" r="2.1"/><circle cx="372.8" cy="1368.3" r="2.1"/><circle cx="410.9" cy="1392.1" r="2.1"/><circle cx="367.3" cy="1373.7" r="2.1"/><circle cx="402.8" cy="1397.9" r="2.1"/><circle cx="377.7" cy="1358" r="2.1"/><circle cx="429.6" cy="1364" r="2.1"/><circle cx="378.4" cy="1355.5" r="2.1"/><circle cx="389.2" cy="1385.6" r="2.1"/><circle cx="393.9" cy="1403" r="2.1"/><circle cx="400.7" cy="1405.6" r="2.1"/><circle cx="371.3" cy="1355" r="2.1"/><circle cx="448.2" cy="1300.9" r="2.1"/><circle cx="435.9" cy="1316" r="2.1"/><circle cx="408.3" cy="1372.3" r="2.1"/><circle cx="423.7" cy="1404.7" r="2.1"/><circle cx="615.5" cy="1406.7" r="2.1"/><circle cx="420.1" cy="1391.5" r="2.1"/><circle cx="445.5" cy="1393.1" r="2.1"/><circle cx="429.3" cy="1395.6" r="2.1"/><circle cx="387" cy="1378.1" r="2.1"/><circle cx="408.1" cy="1392.3" r="2.1"/><circle cx="426.8" cy="1373.2" r="2.1"/><circle cx="443" cy="1368.1" r="2.1"/><circle cx="431.2" cy="1353.5" r="2.1"/><circle cx="321.4" cy="1406" r="2.1"/><circle cx="468.8" cy="1390.4" r="2.1"/><circle cx="396.8" cy="1359" r="2.1"/><circle cx="437.8" cy="1346.8" r="2.1"/><circle cx="369.7" cy="1392.9" r="2.1"/><circle cx="446.5" cy="1401.7" r="2.1"/><circle cx="374.6" cy="1396.4" r="2.1"/><circle cx="386" cy="1406.7" r="2.1"/><circle cx="456" cy="1407.4" r="2.1"/><circle cx="533.7" cy="1386.4" r="2.1"/><circle cx="413.9" cy="1369.7" r="2.1"/><circle cx="407.5" cy="1304.6" r="2.1"/><circle cx="572.1" cy="1389.4" r="2.1"/><circle cx="333.7" cy="1347.4" r="2.1"/><circle cx="406.7" cy="1404.9" r="2.1"/><circle cx="418.4" cy="1337.5" r="2.1"/><circle cx="473.9" cy="1382.9" r="2.1"/><circle cx="484.5" cy="1402.6" r="2.1"/><circle cx="432.8" cy="1366.1" r="2.1"/><circle cx="409.5" cy="1395.1" r="2.1"/><circle cx="569.9" cy="1402.7" r="2.1"/><circle cx="435.1" cy="1315.8" r="2.1"/><circle cx="395.2" cy="1401.5" r="2.1"/><circle cx="476.4" cy="1394.5" r="2.1"/><circle cx="452.4" cy="1404.2" r="2.1"/><circle cx="461.2" cy="1346.8" r="2.1"/><circle cx="583.2" cy="1407.5" r="2.1"/><circle cx="395.7" cy="1404.8" r="2.1"/><circle cx="545.7" cy="1391.9" r="2.1"/><circle cx="329.5" cy="1404.8" r="2.1"/><circle cx="356.3" cy="1303.7" r="2.1"/><circle cx="324.6" cy="1369.3" r="2.1"/><circle cx="571.7" cy="1406.3" r="2.1"/><circle cx="488.5" cy="1355.1" r="2.1"/><circle cx="534.6" cy="1378.7" r="2.1"/><circle cx="410" cy="1315.1" r="2.1"/><circle cx="415.1" cy="1360.7" r="2.1"/><circle cx="390.7" cy="1340.2" r="2.1"/><circle cx="351.2" cy="1363.3" r="2.1"/><circle cx="372.8" cy="1391.1" r="2.1"/><circle cx="350.3" cy="1304.8" r="2.1"/><circle cx="372.5" cy="1319.3" r="2.1"/><circle cx="367.8" cy="1401.1" r="2.1"/><circle cx="393.7" cy="1365.1" r="2.1"/><circle cx="453.9" cy="1389.5" r="2.1"/><circle cx="506.5" cy="1404.8" r="2.1"/><circle cx="426.2" cy="1407.1" r="2.1"/><circle cx="403.5" cy="1403.5" r="2.1"/><circle cx="525.5" cy="1378.8" r="2.1"/><circle cx="378.8" cy="1406.9" r="2.1"/><circle cx="418.2" cy="1308.3" r="2.1"/><circle cx="403.7" cy="1382.4" r="2.1"/><circle cx="417.1" cy="1348.3" r="2.1"/><circle cx="423.3" cy="1405.1" r="2.1"/><circle cx="369.7" cy="1402.3" r="2.1"/><circle cx="469.3" cy="1387.3" r="2.1"/><circle cx="428.9" cy="1393.7" r="2.1"/><circle cx="332.5" cy="1391.5" r="2.1"/><circle cx="425.4" cy="1387.2" r="2.1"/><circle cx="376.6" cy="1294.5" r="2.1"/><circle cx="520" cy="1353.5" r="2.1"/><circle cx="408.4" cy="1381.5" r="2.1"/><circle cx="525.7" cy="1352.7" r="2.1"/><circle cx="354.7" cy="1397.2" r="2.1"/><circle cx="444.7" cy="1406.2" r="2.1"/><circle cx="426.2" cy="1323.4" r="2.1"/><circle cx="442.8" cy="1386.1" r="2.1"/><circle cx="360.4" cy="1396" r="2.1"/><circle cx="358.3" cy="1392.6" r="2.1"/><circle cx="379.3" cy="1358.5" r="2.1"/><circle cx="368.2" cy="1403.4" r="2.1"/><circle cx="407.6" cy="1391.2" r="2.1"/><circle cx="398.9" cy="1331.9" r="2.1"/><circle cx="454.8" cy="1397.1" r="2.1"/><circle cx="388.9" cy="1393.1" r="2.1"/><circle cx="425.1" cy="1400.1" r="2.1"/><circle cx="428.4" cy="1399" r="2.1"/><circle cx="380.4" cy="1356" r="2.1"/><circle cx="587.5" cy="1396.2" r="2.1"/><circle cx="355.4" cy="1398.5" r="2.1"/><circle cx="482" cy="1389.3" r="2.1"/><circle cx="423.8" cy="1377.4" r="2.1"/><circle cx="434.8" cy="1386.2" r="2.1"/><circle cx="365.6" cy="1364.6" r="2.1"/><circle cx="402.4" cy="1394.1" r="2.1"/><circle cx="378.6" cy="1401.5" r="2.1"/><circle cx="413.3" cy="1354.6" r="2.1"/><circle cx="396.8" cy="1397.6" r="2.1"/><circle cx="383.5" cy="1361.3" r="2.1"/><circle cx="387.3" cy="1403.9" r="2.1"/><circle cx="572.5" cy="1389.5" r="2.1"/><circle cx="427.9" cy="1396.8" r="2.1"/><circle cx="397.6" cy="1397.1" r="2.1"/><circle cx="464.1" cy="1394.3" r="2.1"/><circle cx="436.6" cy="1372.9" r="2.1"/><circle cx="497.4" cy="1390.7" r="2.1"/><circle cx="394.9" cy="1401" r="2.1"/><circle cx="385" cy="1392.5" r="2.1"/><circle cx="406.3" cy="1309.7" r="2.1"/><circle cx="487.8" cy="1396.9" r="2.1"/><circle cx="506.5" cy="1390.6" r="2.1"/><circle cx="467.8" cy="1385.3" r="2.1"/><circle cx="419.2" cy="1402.8" r="2.1"/><circle cx="383.1" cy="1390.3" r="2.1"/><circle cx="447.2" cy="1400.7" r="2.1"/><circle cx="333.3" cy="1403.2" r="2.1"/><circle cx="542.6" cy="1356.6" r="2.1"/><circle cx="346.3" cy="1385.9" r="2.1"/><circle cx="369.3" cy="1332.2" r="2.1"/><circle cx="561.7" cy="1403" r="2.1"/><circle cx="422.5" cy="1406.5" r="2.1"/><circle cx="319.5" cy="1388.7" r="2.1"/><circle cx="448.3" cy="1320.4" r="2.1"/><circle cx="443.4" cy="1404.6" r="2.1"/><circle cx="405.6" cy="1405.6" r="2.1"/><circle cx="414" cy="1400.9" r="2.1"/><circle cx="468.1" cy="1403.9" r="2.1"/><circle cx="409.2" cy="1314.7" r="2.1"/><circle cx="562.9" cy="1403.8" r="2.1"/><circle cx="383.5" cy="1399.3" r="2.1"/><circle cx="483.8" cy="1405.1" r="2.1"/><circle cx="370.6" cy="1345.6" r="2.1"/><circle cx="558.9" cy="1406.1" r="2.1"/><circle cx="399.3" cy="1399.2" r="2.1"/><circle cx="425.1" cy="1322.5" r="2.1"/><circle cx="456.4" cy="1387.6" r="2.1"/><circle cx="490.2" cy="1403" r="2.1"/><circle cx="565.9" cy="1404.8" r="2.1"/><circle cx="373.3" cy="1386.5" r="2.1"/><circle cx="369.6" cy="1383.1" r="2.1"/><circle cx="389.6" cy="1342.2" r="2.1"/><circle cx="474.6" cy="1397.2" r="2.1"/><circle cx="435.8" cy="1400" r="2.1"/><circle cx="461.4" cy="1397.2" r="2.1"/><circle cx="514.1" cy="1370.2" r="2.1"/><circle cx="380.6" cy="1389" r="2.1"/><circle cx="466.9" cy="1406.6" r="2.1"/><circle cx="541.7" cy="1362" r="2.1"/><circle cx="383.4" cy="1354.4" r="2.1"/><circle cx="444.6" cy="1318.7" r="2.1"/><circle cx="429.4" cy="1305.4" r="2.1"/><circle cx="373.3" cy="1385.7" r="2.1"/><circle cx="497.1" cy="1382.3" r="2.1"/><circle cx="499.6" cy="1402.2" r="2.1"/><circle cx="490.6" cy="1407.2" r="2.1"/><circle cx="478.7" cy="1393.8" r="2.1"/><circle cx="354.9" cy="1311.9" r="2.1"/><circle cx="406.5" cy="1386.9" r="2.1"/><circle cx="458.9" cy="1392.8" r="2.1"/><circle cx="341.4" cy="1407.3" r="2.1"/><circle cx="435.2" cy="1329.3" r="2.1"/><circle cx="400.9" cy="1375.8" r="2.1"/><circle cx="426.2" cy="1401.9" r="2.1"/><circle cx="367.3" cy="1322.2" r="2.1"/><circle cx="403.5" cy="1396.2" r="2.1"/><circle cx="371.5" cy="1406.8" r="2.1"/><circle cx="387.5" cy="1356.9" r="2.1"/><circle cx="414.2" cy="1394.6" r="2.1"/><circle cx="455.8" cy="1407.2" r="2.1"/><circle cx="371.7" cy="1375.6" r="2.1"/><circle cx="361.1" cy="1322.2" r="2.1"/><circle cx="403.8" cy="1373" r="2.1"/><circle cx="348.5" cy="1407.7" r="2.1"/><circle cx="446.2" cy="1406.7" r="2.1"/><circle cx="383.4" cy="1387.5" r="2.1"/><circle cx="465.1" cy="1403.8" r="2.1"/><circle cx="355.8" cy="1296.5" r="2.1"/><circle cx="451.8" cy="1321.8" r="2.1"/><circle cx="394.2" cy="1333.8" r="2.1"/><circle cx="477.8" cy="1363.5" r="2.1"/><circle cx="447.7" cy="1372.8" r="2.1"/><circle cx="444" cy="1395.5" r="2.1"/><circle cx="374.1" cy="1290.5" r="2.1"/><circle cx="404.7" cy="1380.8" r="2.1"/><circle cx="407.9" cy="1380.4" r="2.1"/><circle cx="469.8" cy="1394.5" r="2.1"/><circle cx="573.2" cy="1370.8" r="2.1"/><circle cx="429.6" cy="1339.3" r="2.1"/><circle cx="413" cy="1352.3" r="2.1"/><circle cx="458.1" cy="1392.5" r="2.1"/><circle cx="501.5" cy="1381.8" r="2.1"/><circle cx="570.3" cy="1405" r="2.1"/><circle cx="481.2" cy="1402" r="2.1"/><circle cx="530.6" cy="1404.6" r="2.1"/><circle cx="478" cy="1401.4" r="2.1"/><circle cx="360" cy="1360.6" r="2.1"/><circle cx="551.4" cy="1352.9" r="2.1"/><circle cx="454.9" cy="1393" r="2.1"/><circle cx="406.9" cy="1386.7" r="2.1"/><circle cx="455.1" cy="1400.5" r="2.1"/><circle cx="404.5" cy="1396.3" r="2.1"/><circle cx="399.1" cy="1386.8" r="2.1"/><circle cx="349.3" cy="1382.2" r="2.1"/><circle cx="374.4" cy="1363.7" r="2.1"/><circle cx="395.5" cy="1372.7" r="2.1"/><circle cx="389.8" cy="1382.6" r="2.1"/><circle cx="363.1" cy="1370.5" r="2.1"/><circle cx="489.5" cy="1395.9" r="2.1"/><circle cx="369.1" cy="1394.2" r="2.1"/><circle cx="451.8" cy="1303.3" r="2.1"/><circle cx="429" cy="1307.8" r="2.1"/><circle cx="366.4" cy="1340.6" r="2.1"/><circle cx="527" cy="1346.3" r="2.1"/><circle cx="373.3" cy="1373.3" r="2.1"/><circle cx="366.5" cy="1383.7" r="2.1"/><circle cx="492.6" cy="1403.5" r="2.1"/><circle cx="370.8" cy="1399.8" r="2.1"/><circle cx="399.4" cy="1398.9" r="2.1"/><circle cx="418" cy="1404.2" r="2.1"/><circle cx="529.7" cy="1388.5" r="2.1"/><circle cx="383.8" cy="1340.3" r="2.1"/><circle cx="353" cy="1386.4" r="2.1"/><circle cx="399.9" cy="1405.6" r="2.1"/><circle cx="373.7" cy="1407.6" r="2.1"/><circle cx="418" cy="1392.5" r="2.1"/><circle cx="421.8" cy="1403.6" r="2.1"/><circle cx="391" cy="1352.1" r="2.1"/><circle cx="343.5" cy="1332.4" r="2.1"/><circle cx="598.4" cy="1377" r="2.1"/><circle cx="418.3" cy="1407.3" r="2.1"/><circle cx="377" cy="1320.5" r="2.1"/><circle cx="422.1" cy="1390.9" r="2.1"/><circle cx="395.7" cy="1404.7" r="2.1"/><circle cx="441.9" cy="1405" r="2.1"/><circle cx="387.6" cy="1394.2" r="2.1"/><circle cx="371.9" cy="1371.1" r="2.1"/><circle cx="392.8" cy="1318.1" r="2.1"/><circle cx="377.3" cy="1389.8" r="2.1"/><circle cx="390.7" cy="1402.7" r="2.1"/><circle cx="411.9" cy="1376.6" r="2.1"/><circle cx="512.9" cy="1392.9" r="2.1"/><circle cx="481.3" cy="1394.2" r="2.1"/><circle cx="431.7" cy="1403.2" r="2.1"/><circle cx="366.6" cy="1381.2" r="2.1"/><circle cx="336.9" cy="1351.5" r="2.1"/><circle cx="356.6" cy="1369.3" r="2.1"/><circle cx="550.9" cy="1401.5" r="2.1"/><circle cx="447.6" cy="1401.3" r="2.1"/><circle cx="390.1" cy="1399.7" r="2.1"/><circle cx="394.8" cy="1390" r="2.1"/><circle cx="468.3" cy="1392.3" r="2.1"/><circle cx="442.6" cy="1398.3" r="2.1"/><circle cx="388.4" cy="1312.7" r="2.1"/><circle cx="416.9" cy="1383.2" r="2.1"/><circle cx="523.4" cy="1378.8" r="2.1"/><circle cx="445.9" cy="1351.4" r="2.1"/><circle cx="415.8" cy="1317.4" r="2.1"/><circle cx="552.3" cy="1359.3" r="2.1"/><circle cx="385.1" cy="1381.9" r="2.1"/><circle cx="435.2" cy="1363.7" r="2.1"/><circle cx="345.9" cy="1330.8" r="2.1"/><circle cx="396.9" cy="1374.6" r="2.1"/><circle cx="469.6" cy="1404.7" r="2.1"/><circle cx="369.5" cy="1397.4" r="2.1"/><circle cx="419.3" cy="1407.4" r="2.1"/><circle cx="371.2" cy="1321.6" r="2.1"/><circle cx="408" cy="1396.4" r="2.1"/><circle cx="413.4" cy="1406.8" r="2.1"/><circle cx="453.4" cy="1398" r="2.1"/><circle cx="441.4" cy="1393.3" r="2.1"/><circle cx="385.8" cy="1302.9" r="2.1"/><circle cx="387.3" cy="1395.4" r="2.1"/><circle cx="449.8" cy="1340.7" r="2.1"/><circle cx="407.9" cy="1402.7" r="2.1"/><circle cx="497.1" cy="1406.3" r="2.1"/><circle cx="432.6" cy="1399.5" r="2.1"/><circle cx="447.7" cy="1297.6" r="2.1"/><circle cx="463.4" cy="1402.8" r="2.1"/><circle cx="469.7" cy="1390.3" r="2.1"/><circle cx="361.3" cy="1360.2" r="2.1"/><circle cx="454" cy="1373.2" r="2.1"/><circle cx="369.1" cy="1383.2" r="2.1"/><circle cx="360.6" cy="1376.7" r="2.1"/><circle cx="378" cy="1379.2" r="2.1"/><circle cx="373.8" cy="1398.3" r="2.1"/><circle cx="349.8" cy="1405.6" r="2.1"/><circle cx="429.5" cy="1373.7" r="2.1"/><circle cx="398.7" cy="1297.2" r="2.1"/><circle cx="335.2" cy="1407.3" r="2.1"/><circle cx="416.1" cy="1305.8" r="2.1"/><circle cx="533.3" cy="1361.6" r="2.1"/><circle cx="416.4" cy="1300.9" r="2.1"/><circle cx="400.1" cy="1403.9" r="2.1"/><circle cx="518" cy="1401.2" r="2.1"/><circle cx="388.6" cy="1389" r="2.1"/><circle cx="319.5" cy="1379.1" r="2.1"/><circle cx="444.6" cy="1382.5" r="2.1"/><circle cx="459.6" cy="1372.5" r="2.1"/><circle cx="453.8" cy="1394.6" r="2.1"/><circle cx="402.5" cy="1385.9" r="2.1"/><circle cx="382.7" cy="1407.1" r="2.1"/><circle cx="448.6" cy="1371.9" r="2.1"/><circle cx="552.4" cy="1406.8" r="2.1"/><circle cx="393.1" cy="1402.8" r="2.1"/><circle cx="382.3" cy="1375.8" r="2.1"/><circle cx="437.7" cy="1406.7" r="2.1"/><circle cx="376.7" cy="1382.2" r="2.1"/><circle cx="453.1" cy="1373.5" r="2.1"/><circle cx="438.2" cy="1396.6" r="2.1"/><circle cx="431.4" cy="1368.8" r="2.1"/><circle cx="464.5" cy="1404.5" r="2.1"/><circle cx="460.6" cy="1319.3" r="2.1"/><circle cx="430.8" cy="1400" r="2.1"/><circle cx="426.5" cy="1403.4" r="2.1"/><circle cx="363.5" cy="1371" r="2.1"/><circle cx="415.9" cy="1342.7" r="2.1"/><circle cx="489.3" cy="1396.2" r="2.1"/><circle cx="348" cy="1404" r="2.1"/><circle cx="546.1" cy="1393.9" r="2.1"/><circle cx="544.2" cy="1387.3" r="2.1"/><circle cx="375.8" cy="1406.7" r="2.1"/><circle cx="326.3" cy="1363.8" r="2.1"/><circle cx="385.2" cy="1388.6" r="2.1"/><circle cx="365.1" cy="1390.6" r="2.1"/><circle cx="440.3" cy="1364.2" r="2.1"/><circle cx="413.2" cy="1313.2" r="2.1"/><circle cx="440.2" cy="1388.4" r="2.1"/><circle cx="421.9" cy="1347.5" r="2.1"/><circle cx="365.4" cy="1361.5" r="2.1"/><circle cx="406.9" cy="1399" r="2.1"/><circle cx="444.6" cy="1394.2" r="2.1"/><circle cx="389.5" cy="1389.9" r="2.1"/><circle cx="384.1" cy="1401.6" r="2.1"/><circle cx="390.5" cy="1342.8" r="2.1"/><circle cx="385.3" cy="1403.3" r="2.1"/><circle cx="384.9" cy="1362.8" r="2.1"/><circle cx="448.5" cy="1400.2" r="2.1"/><circle cx="369.2" cy="1338" r="2.1"/><circle cx="427.1" cy="1360.3" r="2.1"/><circle cx="428.9" cy="1390.4" r="2.1"/><circle cx="447.8" cy="1393.9" r="2.1"/><circle cx="375.9" cy="1396.1" r="2.1"/><circle cx="373.7" cy="1387" r="2.1"/><circle cx="508.5" cy="1389.3" r="2.1"/><circle cx="570.1" cy="1384.8" r="2.1"/><circle cx="452.6" cy="1381.2" r="2.1"/><circle cx="401.7" cy="1300.5" r="2.1"/><circle cx="421.9" cy="1342.3" r="2.1"/><circle cx="466.3" cy="1401.4" r="2.1"/><circle cx="500.8" cy="1398.7" r="2.1"/><circle cx="450.8" cy="1398.1" r="2.1"/><circle cx="381.1" cy="1365.1" r="2.1"/><circle cx="504.2" cy="1364.3" r="2.1"/><circle cx="393.4" cy="1386.1" r="2.1"/><circle cx="381.2" cy="1344.8" r="2.1"/><circle cx="375.1" cy="1386.6" r="2.1"/><circle cx="394.8" cy="1385.2" r="2.1"/><circle cx="421.8" cy="1396.4" r="2.1"/><circle cx="418.2" cy="1312.2" r="2.1"/><circle cx="395.2" cy="1402.6" r="2.1"/><circle cx="387.4" cy="1369.4" r="2.1"/><circle cx="451" cy="1382.1" r="2.1"/><circle cx="403.7" cy="1392" r="2.1"/><circle cx="434.6" cy="1404.8" r="2.1"/><circle cx="329" cy="1389.5" r="2.1"/><circle cx="476.4" cy="1392.6" r="2.1"/><circle cx="397.5" cy="1378.2" r="2.1"/><circle cx="377.6" cy="1343" r="2.1"/><circle cx="369.2" cy="1395" r="2.1"/><circle cx="532.5" cy="1402.5" r="2.1"/><circle cx="363.3" cy="1393.1" r="2.1"/><circle cx="590.4" cy="1404.6" r="2.1"/><circle cx="481.6" cy="1407" r="2.1"/><circle cx="443" cy="1291.6" r="2.1"/><circle cx="446.8" cy="1401.1" r="2.1"/><circle cx="350.4" cy="1400.2" r="2.1"/><circle cx="431.5" cy="1368.1" r="2.1"/><circle cx="348.2" cy="1367.5" r="2.1"/><circle cx="513.9" cy="1398.9" r="2.1"/><circle cx="350.1" cy="1382.4" r="2.1"/><circle cx="397.8" cy="1402.1" r="2.1"/><circle cx="539.1" cy="1355.6" r="2.1"/><circle cx="363.7" cy="1370" r="2.1"/><circle cx="417.7" cy="1376" r="2.1"/><circle cx="395.4" cy="1310" r="2.1"/><circle cx="382.1" cy="1394.2" r="2.1"/><circle cx="554.2" cy="1355" r="2.1"/><circle cx="335" cy="1400.2" r="2.1"/><circle cx="406.2" cy="1395.2" r="2.1"/><circle cx="417.6" cy="1308.2" r="2.1"/><circle cx="457.6" cy="1399.2" r="2.1"/><circle cx="380.3" cy="1305.5" r="2.1"/><circle cx="433.6" cy="1404.3" r="2.1"/><circle cx="495.8" cy="1404.4" r="2.1"/><circle cx="406.5" cy="1399.8" r="2.1"/><circle cx="372.6" cy="1405.4" r="2.1"/><circle cx="391.8" cy="1405.2" r="2.1"/><circle cx="501.7" cy="1331.7" r="2.1"/><circle cx="393.1" cy="1402.3" r="2.1"/><circle cx="386.7" cy="1371.3" r="2.1"/><circle cx="371.9" cy="1353.4" r="2.1"/><circle cx="442.1" cy="1388.9" r="2.1"/><circle cx="451.7" cy="1407.7" r="2.1"/><circle cx="592.8" cy="1401.2" r="2.1"/><circle cx="374.5" cy="1399.7" r="2.1"/><circle cx="381.1" cy="1342.8" r="2.1"/><circle cx="417.3" cy="1362" r="2.1"/><circle cx="481.7" cy="1392.3" r="2.1"/><circle cx="380.9" cy="1370" r="2.1"/><circle cx="355.9" cy="1374.3" r="2.1"/><circle cx="367.9" cy="1406.9" r="2.1"/><circle cx="447.5" cy="1393.3" r="2.1"/><circle cx="514.2" cy="1401.1" r="2.1"/><circle cx="375.3" cy="1404.5" r="2.1"/><circle cx="448.5" cy="1382.3" r="2.1"/><circle cx="480.3" cy="1363.5" r="2.1"/><circle cx="379.1" cy="1375" r="2.1"/><circle cx="384.4" cy="1390.4" r="2.1"/><circle cx="374.1" cy="1369.3" r="2.1"/><circle cx="405.6" cy="1405.2" r="2.1"/><circle cx="353.1" cy="1395.1" r="2.1"/><circle cx="360.2" cy="1321.5" r="2.1"/><circle cx="404.1" cy="1295.3" r="2.1"/><circle cx="525.8" cy="1404.4" r="2.1"/><circle cx="408.5" cy="1331.3" r="2.1"/><circle cx="450.3" cy="1395.8" r="2.1"/><circle cx="390.7" cy="1397" r="2.1"/><circle cx="469.8" cy="1394.3" r="2.1"/><circle cx="490.2" cy="1387.9" r="2.1"/><circle cx="402.1" cy="1383.2" r="2.1"/><circle cx="422.1" cy="1357.4" r="2.1"/><circle cx="426.2" cy="1365.5" r="2.1"/><circle cx="355.7" cy="1403.4" r="2.1"/><circle cx="366.4" cy="1386.5" r="2.1"/><circle cx="368.8" cy="1319.6" r="2.1"/><circle cx="374.8" cy="1392.3" r="2.1"/><circle cx="401" cy="1405.1" r="2.1"/><circle cx="434.9" cy="1388.1" r="2.1"/><circle cx="461.9" cy="1387.2" r="2.1"/><circle cx="419.1" cy="1403.9" r="2.1"/><circle cx="413.2" cy="1403.7" r="2.1"/><circle cx="494.5" cy="1350.7" r="2.1"/><circle cx="380.7" cy="1395.7" r="2.1"/><circle cx="499.4" cy="1400.3" r="2.1"/><circle cx="475.1" cy="1403.4" r="2.1"/><circle cx="452" cy="1402.4" r="2.1"/><circle cx="373.1" cy="1403.3" r="2.1"/><circle cx="383.5" cy="1406.4" r="2.1"/><circle cx="377.7" cy="1312.3" r="2.1"/><circle cx="410.6" cy="1352.2" r="2.1"/><circle cx="427.4" cy="1367.2" r="2.1"/><circle cx="414.3" cy="1389.3" r="2.1"/><circle cx="493.9" cy="1407.2" r="2.1"/><circle cx="549.6" cy="1358.3" r="2.1"/><circle cx="341.3" cy="1338" r="2.1"/><circle cx="568.8" cy="1398.9" r="2.1"/><circle cx="593.8" cy="1389.1" r="2.1"/><circle cx="373.7" cy="1386.6" r="2.1"/><circle cx="483.3" cy="1394.9" r="2.1"/><circle cx="400.3" cy="1391" r="2.1"/><circle cx="511.2" cy="1405" r="2.1"/><circle cx="406.6" cy="1360.5" r="2.1"/><circle cx="366.7" cy="1359.7" r="2.1"/><circle cx="379.1" cy="1395.2" r="2.1"/><circle cx="406.9" cy="1390.5" r="2.1"/><circle cx="439.3" cy="1393.1" r="2.1"/><circle cx="456" cy="1386.5" r="2.1"/><circle cx="464" cy="1385.3" r="2.1"/><circle cx="470.8" cy="1384.6" r="2.1"/><circle cx="549.4" cy="1382.4" r="2.1"/><circle cx="365.8" cy="1397.9" r="2.1"/><circle cx="473.5" cy="1342.6" r="2.1"/><circle cx="327.7" cy="1338.4" r="2.1"/><circle cx="437.7" cy="1385.9" r="2.1"/><circle cx="359.7" cy="1386.1" r="2.1"/><circle cx="409.7" cy="1381.3" r="2.1"/><circle cx="429.9" cy="1362.4" r="2.1"/><circle cx="401" cy="1372" r="2.1"/><circle cx="358.3" cy="1398.5" r="2.1"/><circle cx="408.8" cy="1401.2" r="2.1"/><circle cx="380.9" cy="1292.3" r="2.1"/><circle cx="446" cy="1372.3" r="2.1"/><circle cx="451.4" cy="1399.7" r="2.1"/><circle cx="434.8" cy="1393.8" r="2.1"/><circle cx="319.5" cy="1320.4" r="2.1"/><circle cx="351.4" cy="1359.4" r="2.1"/><circle cx="439.3" cy="1375.3" r="2.1"/><circle cx="418.7" cy="1350.7" r="2.1"/><circle cx="350.5" cy="1391.8" r="2.1"/><circle cx="478.4" cy="1394.8" r="2.1"/><circle cx="363.7" cy="1374.6" r="2.1"/><circle cx="516.6" cy="1394.7" r="2.1"/><circle cx="424.1" cy="1407.5" r="2.1"/><circle cx="406.7" cy="1313.7" r="2.1"/><circle cx="391.9" cy="1400.5" r="2.1"/><circle cx="440.4" cy="1394.9" r="2.1"/><circle cx="387" cy="1378.4" r="2.1"/><circle cx="459.1" cy="1401.9" r="2.1"/><circle cx="496.7" cy="1378.7" r="2.1"/><circle cx="599.2" cy="1393.8" r="2.1"/><circle cx="483" cy="1395.5" r="2.1"/><circle cx="398.3" cy="1406.6" r="2.1"/><circle cx="383.9" cy="1333.6" r="2.1"/><circle cx="436.5" cy="1398.3" r="2.1"/><circle cx="449.4" cy="1394.4" r="2.1"/><circle cx="390.1" cy="1393.3" r="2.1"/><circle cx="441.1" cy="1332.2" r="2.1"/><circle cx="428.6" cy="1391.3" r="2.1"/><circle cx="367.9" cy="1379" r="2.1"/><circle cx="363.6" cy="1397.4" r="2.1"/><circle cx="465.9" cy="1345.3" r="2.1"/><circle cx="436.3" cy="1311.6" r="2.1"/><circle cx="417" cy="1385.4" r="2.1"/><circle cx="399.7" cy="1395.5" r="2.1"/><circle cx="435.7" cy="1338.2" r="2.1"/><circle cx="364.4" cy="1292.2" r="2.1"/><circle cx="456.1" cy="1395.8" r="2.1"/><circle cx="370.9" cy="1384.2" r="2.1"/><circle cx="370.2" cy="1382.5" r="2.1"/><circle cx="417.1" cy="1371.6" r="2.1"/><circle cx="347.2" cy="1403.8" r="2.1"/><circle cx="398.8" cy="1356.7" r="2.1"/><circle cx="427.5" cy="1367.9" r="2.1"/><circle cx="368.1" cy="1371.8" r="2.1"/><circle cx="539.5" cy="1392.8" r="2.1"/><circle cx="378" cy="1397.7" r="2.1"/><circle cx="405.8" cy="1352.8" r="2.1"/><circle cx="395.9" cy="1379" r="2.1"/><circle cx="412.7" cy="1398.8" r="2.1"/><circle cx="390.6" cy="1397.9" r="2.1"/><circle cx="357.6" cy="1338.3" r="2.1"/><circle cx="360" cy="1360.7" r="2.1"/><circle cx="481.1" cy="1322.7" r="2.1"/><circle cx="360.6" cy="1400.3" r="2.1"/><circle cx="372.7" cy="1366.6" r="2.1"/><circle cx="542" cy="1383.2" r="2.1"/><circle cx="391.4" cy="1403.9" r="2.1"/><circle cx="620.9" cy="1405.3" r="2.1"/><circle cx="536.5" cy="1368.5" r="2.1"/><circle cx="371.7" cy="1364" r="2.1"/><circle cx="357.5" cy="1389.6" r="2.1"/><circle cx="404" cy="1337.9" r="2.1"/><circle cx="386" cy="1372.8" r="2.1"/><circle cx="367.4" cy="1361.4" r="2.1"/><circle cx="441.9" cy="1406.6" r="2.1"/><circle cx="537.8" cy="1352.1" r="2.1"/><circle cx="431.2" cy="1406.2" r="2.1"/><circle cx="384.1" cy="1392.7" r="2.1"/><circle cx="361.5" cy="1397.3" r="2.1"/><circle cx="494.5" cy="1363.3" r="2.1"/><circle cx="396.2" cy="1344.5" r="2.1"/><circle cx="405.5" cy="1323.8" r="2.1"/><circle cx="521.6" cy="1382.7" r="2.1"/><circle cx="343.7" cy="1314.5" r="2.1"/><circle cx="397" cy="1358.5" r="2.1"/><circle cx="414.8" cy="1395.2" r="2.1"/><circle cx="476.7" cy="1361.9" r="2.1"/><circle cx="370.8" cy="1341.4" r="2.1"/><circle cx="415.4" cy="1296.4" r="2.1"/><circle cx="382.4" cy="1401.3" r="2.1"/><circle cx="383" cy="1396.9" r="2.1"/><circle cx="454.6" cy="1354" r="2.1"/><circle cx="457.8" cy="1382.5" r="2.1"/><circle cx="466.5" cy="1386.5" r="2.1"/><circle cx="521.6" cy="1399" r="2.1"/><circle cx="376.4" cy="1399.9" r="2.1"/><circle cx="476.9" cy="1404.2" r="2.1"/><circle cx="413.4" cy="1404.1" r="2.1"/><circle cx="391" cy="1382.7" r="2.1"/><circle cx="423.7" cy="1291" r="2.1"/><circle cx="454" cy="1321.3" r="2.1"/><circle cx="478.5" cy="1367.2" r="2.1"/><circle cx="589.6" cy="1368.7" r="2.1"/><circle cx="444.8" cy="1391.1" r="2.1"/><circle cx="361.9" cy="1292.1" r="2.1"/><circle cx="442.9" cy="1362.9" r="2.1"/><circle cx="550.6" cy="1401.3" r="2.1"/><circle cx="511" cy="1340.4" r="2.1"/><circle cx="477.1" cy="1401.7" r="2.1"/><circle cx="362.9" cy="1381.8" r="2.1"/><circle cx="420.2" cy="1406.6" r="2.1"/><circle cx="583.4" cy="1373.3" r="2.1"/><circle cx="415.1" cy="1406.8" r="2.1"/><circle cx="405.2" cy="1396.5" r="2.1"/><circle cx="579.6" cy="1378.3" r="2.1"/><circle cx="431.2" cy="1406.1" r="2.1"/><circle cx="490.7" cy="1387.7" r="2.1"/><circle cx="545.5" cy="1391.6" r="2.1"/><circle cx="475.2" cy="1375.6" r="2.1"/><circle cx="380.4" cy="1386.7" r="2.1"/><circle cx="372.3" cy="1355.6" r="2.1"/><circle cx="444.5" cy="1394.1" r="2.1"/><circle cx="371.3" cy="1397.3" r="2.1"/><circle cx="388.3" cy="1294.9" r="2.1"/><circle cx="360.5" cy="1364.2" r="2.1"/><circle cx="416.1" cy="1372.3" r="2.1"/><circle cx="371.1" cy="1294.9" r="2.1"/><circle cx="534.2" cy="1363" r="2.1"/><circle cx="436.1" cy="1400.7" r="2.1"/><circle cx="505.6" cy="1403.4" r="2.1"/><circle cx="428" cy="1402.8" r="2.1"/><circle cx="319.5" cy="1405.2" r="2.1"/><circle cx="419.7" cy="1379.6" r="2.1"/><circle cx="373.7" cy="1341.4" r="2.1"/><circle cx="363.8" cy="1323.3" r="2.1"/><circle cx="405.9" cy="1386" r="2.1"/><circle cx="402.8" cy="1399.3" r="2.1"/><circle cx="556.3" cy="1398.1" r="2.1"/><circle cx="433.9" cy="1402.4" r="2.1"/><circle cx="409.9" cy="1397.9" r="2.1"/><circle cx="485.5" cy="1401.5" r="2.1"/><circle cx="393.9" cy="1315.9" r="2.1"/><circle cx="475.9" cy="1388" r="2.1"/><circle cx="357.4" cy="1343.6" r="2.1"/><circle cx="470.9" cy="1340.8" r="2.1"/><circle cx="553.6" cy="1389.7" r="2.1"/><circle cx="582.5" cy="1382.1" r="2.1"/><circle cx="443.7" cy="1389.4" r="2.1"/><circle cx="380.8" cy="1393.2" r="2.1"/><circle cx="368.6" cy="1406.9" r="2.1"/><circle cx="425.9" cy="1406.5" r="2.1"/><circle cx="532.4" cy="1407.4" r="2.1"/><circle cx="453.8" cy="1377.9" r="2.1"/><circle cx="443.1" cy="1383.4" r="2.1"/><circle cx="405.8" cy="1374.1" r="2.1"/><circle cx="384.9" cy="1400.9" r="2.1"/><circle cx="452.3" cy="1297.1" r="2.1"/><circle cx="443.7" cy="1373.9" r="2.1"/><circle cx="395.2" cy="1402.5" r="2.1"/><circle cx="441.1" cy="1394.4" r="2.1"/><circle cx="555.2" cy="1363.9" r="2.1"/><circle cx="522" cy="1362.5" r="2.1"/><circle cx="453.6" cy="1406.1" r="2.1"/><circle cx="429.2" cy="1384.9" r="2.1"/><circle cx="401.2" cy="1310.7" r="2.1"/><circle cx="446.9" cy="1378.6" r="2.1"/><circle cx="504.4" cy="1354.8" r="2.1"/><circle cx="548.3" cy="1406.9" r="2.1"/><circle cx="380.3" cy="1347.6" r="2.1"/><circle cx="449.2" cy="1368" r="2.1"/><circle cx="384" cy="1406.4" r="2.1"/><circle cx="388.2" cy="1399.8" r="2.1"/><circle cx="384" cy="1406.4" r="2.1"/><circle cx="422.9" cy="1400.8" r="2.1"/><circle cx="366.9" cy="1380.3" r="2.1"/><circle cx="446.5" cy="1315.2" r="2.1"/><circle cx="501.7" cy="1394.7" r="2.1"/><circle cx="428.3" cy="1315.3" r="2.1"/><circle cx="502.6" cy="1388.1" r="2.1"/><circle cx="431.5" cy="1382.3" r="2.1"/><circle cx="413.2" cy="1318.2" r="2.1"/><circle cx="450.3" cy="1400.2" r="2.1"/><circle cx="482" cy="1395.4" r="2.1"/><circle cx="378.4" cy="1402.5" r="2.1"/><circle cx="456.3" cy="1348.8" r="2.1"/><circle cx="422.8" cy="1347.3" r="2.1"/><circle cx="382.1" cy="1397" r="2.1"/><circle cx="414.8" cy="1363.9" r="2.1"/><circle cx="463" cy="1372.7" r="2.1"/><circle cx="471.3" cy="1387.9" r="2.1"/><circle cx="551.6" cy="1395.9" r="2.1"/><circle cx="382.6" cy="1403.5" r="2.1"/><circle cx="353.5" cy="1395.4" r="2.1"/><circle cx="374.6" cy="1369.8" r="2.1"/><circle cx="381.2" cy="1395.9" r="2.1"/><circle cx="523.2" cy="1400.3" r="2.1"/><circle cx="544.2" cy="1406.6" r="2.1"/><circle cx="362.3" cy="1395.8" r="2.1"/><circle cx="478.8" cy="1334" r="2.1"/><circle cx="403.4" cy="1376.3" r="2.1"/><circle cx="381" cy="1398" r="2.1"/><circle cx="438.2" cy="1386.4" r="2.1"/><circle cx="371.1" cy="1397" r="2.1"/><circle cx="386.7" cy="1386.1" r="2.1"/><circle cx="343.8" cy="1378.5" r="2.1"/><circle cx="422.2" cy="1378.9" r="2.1"/><circle cx="323.7" cy="1405.5" r="2.1"/><circle cx="372.2" cy="1332.5" r="2.1"/><circle cx="418.3" cy="1307.1" r="2.1"/><circle cx="464.2" cy="1391.9" r="2.1"/><circle cx="376" cy="1406.4" r="2.1"/><circle cx="607.3" cy="1406.2" r="2.1"/><circle cx="390.3" cy="1311.3" r="2.1"/><circle cx="334.9" cy="1402.2" r="2.1"/><circle cx="453.3" cy="1338.5" r="2.1"/><circle cx="525" cy="1407.3" r="2.1"/><circle cx="430.7" cy="1387.6" r="2.1"/><circle cx="378.9" cy="1390.6" r="2.1"/><circle cx="471" cy="1398.9" r="2.1"/><circle cx="350.1" cy="1385.4" r="2.1"/><circle cx="356" cy="1356.4" r="2.1"/><circle cx="470.8" cy="1403" r="2.1"/><circle cx="453.9" cy="1401" r="2.1"/><circle cx="562.2" cy="1403.9" r="2.1"/><circle cx="374" cy="1404.2" r="2.1"/><circle cx="396.7" cy="1347.7" r="2.1"/><circle cx="461.7" cy="1407.2" r="2.1"/><circle cx="410.3" cy="1406.4" r="2.1"/><circle cx="389.4" cy="1319.2" r="2.1"/><circle cx="378" cy="1293.5" r="2.1"/><circle cx="455" cy="1341.8" r="2.1"/><circle cx="362.6" cy="1375.4" r="2.1"/><circle cx="340.2" cy="1400.7" r="2.1"/><circle cx="481.2" cy="1392" r="2.1"/><circle cx="430.9" cy="1314.8" r="2.1"/><circle cx="386.8" cy="1397.9" r="2.1"/><circle cx="397.8" cy="1407" r="2.1"/><circle cx="429" cy="1381.9" r="2.1"/><circle cx="420.5" cy="1313.3" r="2.1"/><circle cx="429" cy="1333.3" r="2.1"/><circle cx="395" cy="1355.1" r="2.1"/><circle cx="517.7" cy="1401.5" r="2.1"/><circle cx="431.7" cy="1350.7" r="2.1"/><circle cx="390.7" cy="1331" r="2.1"/><circle cx="416.6" cy="1394.7" r="2.1"/><circle cx="358.5" cy="1355.8" r="2.1"/><circle cx="389" cy="1401.3" r="2.1"/><circle cx="410.2" cy="1405.2" r="2.1"/><circle cx="517.2" cy="1407.3" r="2.1"/><circle cx="440.5" cy="1388.1" r="2.1"/><circle cx="434.9" cy="1395.7" r="2.1"/><circle cx="392.8" cy="1397.4" r="2.1"/><circle cx="350.5" cy="1352" r="2.1"/><circle cx="383.8" cy="1355.7" r="2.1"/><circle cx="392.8" cy="1380.5" r="2.1"/><circle cx="470" cy="1405.1" r="2.1"/><circle cx="354.3" cy="1395.8" r="2.1"/><circle cx="485" cy="1402.3" r="2.1"/><circle cx="439" cy="1314.2" r="2.1"/><circle cx="498.1" cy="1397.6" r="2.1"/><circle cx="381.6" cy="1391" r="2.1"/><circle cx="398.1" cy="1359.7" r="2.1"/><circle cx="375.7" cy="1403.8" r="2.1"/><circle cx="379.5" cy="1395.8" r="2.1"/><circle cx="681.5" cy="1404" r="2.1"/><circle cx="645.5" cy="1397" r="2.1"/><circle cx="628" cy="1394" r="2.1"/><circle cx="610" cy="1383" r="2.1"/><circle cx="622" cy="1390" r="2.1"/><circle cx="596" cy="1372" r="2.1"/>
</g>
<g fill="#00ff00">
<circle cx="359.1" cy="1254.7" r="2.1"/><circle cx="452.7" cy="1268.6" r="2.1"/><circle cx="339.6" cy="1271.7" r="2.1"/><circle cx="352" cy="1182.7" r="2.1"/><circle cx="366.3" cy="1223.2" r="2.1"/><circle cx="360.4" cy="1277.8" r="2.1"/><circle cx="412.8" cy="1270.7" r="2.1"/><circle cx="378.9" cy="1285" r="2.1"/><circle cx="441.8" cy="1235.4" r="2.1"/><circle cx="422.8" cy="1195.5" r="2.1"/><circle cx="369.6" cy="1217.8" r="2.1"/><circle cx="329.8" cy="1239.9" r="2.1"/><circle cx="389" cy="1224.1" r="2.1"/><circle cx="415.3" cy="1272.3" r="2.1"/><circle cx="429.2" cy="1285.3" r="2.1"/><circle cx="473.9" cy="1278.8" r="2.1"/><circle cx="397.1" cy="1243.8" r="2.1"/><circle cx="329" cy="1268.1" r="2.1"/><circle cx="421.7" cy="1275.6" r="2.1"/><circle cx="334.1" cy="1271.7" r="2.1"/><circle cx="398.9" cy="1290.3" r="2.1"/><circle cx="375.2" cy="1268.2" r="2.1"/><circle cx="352.5" cy="1275.8" r="2.1"/><circle cx="349.1" cy="1283" r="2.1"/><circle cx="371" cy="1257.1" r="2.1"/><circle cx="383.5" cy="1260.3" r="2.1"/><circle cx="333" cy="1283.1" r="2.1"/><circle cx="480.7" cy="1178.1" r="2.1"/><circle cx="429" cy="1271" r="2.1"/><circle cx="375.6" cy="1245.6" r="2.1"/><circle cx="328.2" cy="1275.8" r="2.1"/><circle cx="404.1" cy="1280.9" r="2.1"/><circle cx="338.7" cy="1267.7" r="2.1"/><circle cx="416.8" cy="1237.3" r="2.1"/><circle cx="423.7" cy="1230" r="2.1"/><circle cx="334.5" cy="1213.3" r="2.1"/><circle cx="391.1" cy="1289.5" r="2.1"/><circle cx="347.6" cy="1222.4" r="2.1"/><circle cx="385.7" cy="1258.9" r="2.1"/><circle cx="367.8" cy="1282.5" r="2.1"/><circle cx="410.4" cy="1282.8" r="2.1"/><circle cx="347.1" cy="1279" r="2.1"/><circle cx="397" cy="1288.5" r="2.1"/><circle cx="338.5" cy="1271.8" r="2.1"/><circle cx="402.2" cy="1269.9" r="2.1"/><circle cx="412.1" cy="1258.3" r="2.1"/><circle cx="377.6" cy="1261.9" r="2.1"/><circle cx="389.4" cy="1284" r="2.1"/><circle cx="366.8" cy="1221.3" r="2.1"/><circle cx="358.7" cy="1285.7" r="2.1"/><circle cx="397.6" cy="1256.8" r="2.1"/><circle cx="438.2" cy="1276.1" r="2.1"/><circle cx="351.1" cy="1127.7" r="2.1"/>
</g>
<polyline points="317,1375.9 345.4,1382.7 371.8,1392.1 398.3,1392.9 424.7,1402.3 451.2,1404.6 477.6,1407.3 504.1,1409.1 530.5,1408.4 557,1409.9 583.4,1408.8 611.8,1415.6 638.2,1416.7 664.7,1420.5 692.3,1418.6 718.7,1427.7" fill="none" stroke="#000" stroke-width="3.1" stroke-linejoin="miter"/>
</g>
<text x="159.5" y="1102.4" font-size="20.83" text-anchor="start" fill="#000" font-weight="bold">D)</text>
<text transform="translate(55.2 1253.4) rotate(-90)" font-size="22.9" text-anchor="middle" fill="#000"><tspan>particle density [kg &#183; m</tspan><tspan font-size="17.2" letter-spacing="0.5" dy="-10.5">-3</tspan><tspan dy="10.5">]</tspan></text>
<text x="529.7" y="1502.8" font-size="20.83" text-anchor="middle" fill="#000">esd [<tspan font-style="italic" font-size="25" dx="1" font-family="'Liberation Serif', 'DejaVu Serif', serif">&#956;</tspan><tspan dx="1.5" font-size="0.1"> </tspan>m]</text>
</g>
<g id="panelE">
<rect x="981.7" y="666.4" width="234.5" height="363.4" fill="none" stroke="#262626" stroke-width="1.8"/>
<line x1="981.7" y1="1023.8" x2="986.1" y2="1023.8" stroke="#262626" stroke-width="1.8"/>
<line x1="1216.2" y1="1023.8" x2="1211.8" y2="1023.8" stroke="#262626" stroke-width="1.8"/>
<line x1="981.7" y1="966.6" x2="986.1" y2="966.6" stroke="#262626" stroke-width="1.8"/>
<line x1="1216.2" y1="966.6" x2="1211.8" y2="966.6" stroke="#262626" stroke-width="1.8"/>
<line x1="981.7" y1="909.3" x2="986.1" y2="909.3" stroke="#262626" stroke-width="1.8"/>
<line x1="1216.2" y1="909.3" x2="1211.8" y2="909.3" stroke="#262626" stroke-width="1.8"/>
<line x1="981.7" y1="852.1" x2="986.1" y2="852.1" stroke="#262626" stroke-width="1.8"/>
<line x1="1216.2" y1="852.1" x2="1211.8" y2="852.1" stroke="#262626" stroke-width="1.8"/>
<line x1="981.7" y1="794.9" x2="986.1" y2="794.9" stroke="#262626" stroke-width="1.8"/>
<line x1="1216.2" y1="794.9" x2="1211.8" y2="794.9" stroke="#262626" stroke-width="1.8"/>
<line x1="981.7" y1="737.6" x2="986.1" y2="737.6" stroke="#262626" stroke-width="1.8"/>
<line x1="1216.2" y1="737.6" x2="1211.8" y2="737.6" stroke="#262626" stroke-width="1.8"/>
<line x1="981.7" y1="680.4" x2="986.1" y2="680.4" stroke="#262626" stroke-width="1.8"/>
<line x1="1216.2" y1="680.4" x2="1211.8" y2="680.4" stroke="#262626" stroke-width="1.8"/>
<g clip-path="url(#cE)">
<polyline points="982,1023.7 1194.5,1014.4 1158.6,1009.5 1132.1,1006.1 1113.6,1002.1 1089.7,994.2 1068.6,986.2 1047.4,973 1026.2,959.8 1016.9,951.8 1007.7,943.9 999.7,922.7 995.7,904.2 992.3,877.7 989.1,851.2 986.5,822.1 984.4,769.1 983.3,729.4 982.5,666.4" fill="none" stroke="#000" stroke-width="3.1" stroke-dasharray="13.2 11" stroke-dashoffset="11.5" stroke-linejoin="miter"/>
<polyline points="982,1018.7 1034,1012.8 1050.8,1000 1047.4,994.2 1036.8,986.2 1026.2,977 1013,965.1 1002.4,949.2 995.7,928 991.8,904.2 987.8,875 985.2,835.3 983.8,782.4 982.5,666.4" fill="none" stroke="#ff0000" stroke-width="3.1" stroke-dasharray="13.2 11" stroke-linejoin="miter"/>
<polyline points="982,1023.7 1150.2,1016.3 1103,1010.1 1076.5,1006.1 1052.7,1002.1 1031.5,994.2 1013,982.3 1005,970.4 994.4,954.5 986.5,934.6 984.4,888.3 983.3,861.8 982.5,835.3 982.5,666.4" fill="none" stroke="#0000ff" stroke-width="3.1" stroke-dasharray="13.2 11" stroke-dashoffset="11.5" stroke-linejoin="miter"/>
<polyline points="982.5,1023.6 985.2,941.2 982.5,888.3 982.5,666.4" fill="none" stroke="#00ff00" stroke-width="3.1" stroke-dasharray="13.2 11" stroke-linejoin="miter"/>
</g>
<text x="1179.8" y="697.1" font-size="20.83" text-anchor="start" fill="#000" font-weight="bold">E)</text>
</g>
<g id="panelF">
<rect x="981.7" y="1073.5" width="234.5" height="361.4" fill="none" stroke="#262626" stroke-width="1.8"/>
<line x1="981.7" y1="1344.6" x2="986.1" y2="1344.6" stroke="#262626" stroke-width="1.8"/>
<line x1="1216.2" y1="1344.6" x2="1211.8" y2="1344.6" stroke="#262626" stroke-width="1.8"/>
<line x1="981.7" y1="1254.2" x2="986.1" y2="1254.2" stroke="#262626" stroke-width="1.8"/>
<line x1="1216.2" y1="1254.2" x2="1211.8" y2="1254.2" stroke="#262626" stroke-width="1.8"/>
<line x1="981.7" y1="1163.8" x2="986.1" y2="1163.8" stroke="#262626" stroke-width="1.8"/>
<line x1="1216.2" y1="1163.8" x2="1211.8" y2="1163.8" stroke="#262626" stroke-width="1.8"/>
<g clip-path="url(#cF)">
<line x1="981.7" y1="1290.3" x2="1216.2" y2="1290.3" stroke="#808080" stroke-width="1.4" stroke-dasharray="9.5 6.1"/>
<line x1="981.7" y1="1407.8" x2="1216.2" y2="1407.8" stroke="#808080" stroke-width="1.4" stroke-dasharray="9.5 6.1"/>
<polyline points="1085.5,1430.5 1199.6,1421.6 1166.8,1412.5 1124.5,1408.1 1083.8,1404 1044.9,1394.6 1021.8,1386.1 1015.4,1376.9 1000.9,1358.3 996.5,1348.2 990.7,1331.2 984.9,1304.1 983.9,1277 982.2,1222.9 982.2,1075.6" fill="none" stroke="#000" stroke-width="3.1" stroke-linejoin="miter"/>
<polyline points="1029.6,1430.5 1199.6,1421.6 1166.8,1412.5 1127.8,1407.4 1097.4,1402.3 1060.1,1394.6 1039.8,1387.1 1026.3,1373.6 1012.7,1365.1 999.2,1348.2 990.7,1324.5 985.6,1290.6 983.9,1270.3 982.2,1222.9 982.2,1075.6" fill="none" stroke="#000" stroke-width="3.1" stroke-dasharray="13.2 11" stroke-linejoin="miter"/>
</g>
<text x="1178" y="1107.7" font-size="20.83" text-anchor="start" fill="#000" font-weight="bold">F)</text>
</g>
<g id="info">
<rect x="969.6" y="17.5" width="281" height="468.5" fill="#fff" stroke="#000" stroke-width="1.5"/>
<text x="980.2" y="45.8" font-size="21.0" fill="#000" xml:space="preserve">ID: T5595_90</text>
<text x="980.2" y="73" font-size="21.0" fill="#000" xml:space="preserve">Sample Date: 26-Oct-2015</text>
<text x="980.2" y="99.7" font-size="21.0" fill="#000" xml:space="preserve">Sample Time:  1:24:38 PM</text>
<text x="980.2" y="126.7" font-size="21.0" fill="#000" xml:space="preserve">Depth=2.28117 m</text>
<text x="980.2" y="153.7" font-size="21.0" fill="#000" xml:space="preserve">N=2636 particles</text>
<text x="980.2" y="180.9" font-size="21.0" fill="#000" xml:space="preserve">d<tspan font-size="16.8" dy="9.9">50,p</tspan><tspan dy="-9.9">=  62.5 <tspan font-style="italic" font-size="25" dx="1.5" font-family="'Liberation Serif', 'DejaVu Serif', serif">&#956;</tspan><tspan dx="1.5" font-size="0.1"> </tspan>m</tspan></text>
<text x="980.2" y="216.6" font-size="21.0" fill="#000" xml:space="preserve">d<tspan font-size="16.8" dy="9.9">50,m</tspan><tspan dy="-9.9">=  88.4 <tspan font-style="italic" font-size="25" dx="1.5" font-family="'Liberation Serif', 'DejaVu Serif', serif">&#956;</tspan><tspan dx="1.5" font-size="0.1"> </tspan>m</tspan></text>
<text x="980.2" y="258.2" font-size="21.0" fill="#000" xml:space="preserve">ws<tspan font-size="16.8" dy="9.9">50,p</tspan><tspan dy="-9.9">= 0.244 mm&#183;s</tspan><tspan font-size="16.8" dy="-9.4">-1</tspan></text>
<text x="980.2" y="300" font-size="21.0" fill="#000" xml:space="preserve">ws<tspan font-size="16.8" dy="9.9">50,m</tspan><tspan dy="-9.9">= 0.577 mm&#183;s</tspan><tspan font-size="16.8" dy="-9.4">-1</tspan></text>
<text x="980.2" y="337" font-size="21.0" fill="#000" xml:space="preserve">%_f(c,m): 58.1 47.6</text>
<text x="980.2" y="363.7" font-size="21.0" fill="#000" xml:space="preserve">%_ba(c,m): 39.9 50.1</text>
<text x="980.2" y="390.7" font-size="21.0" fill="#000" xml:space="preserve">%_p(c,m): 2.0 2.3</text>
<text x="980.2" y="417.7" font-size="21.0" fill="#000" xml:space="preserve">AnalysisDate: 07-Dec-2016</text>
<text x="980.2" y="444.6" font-size="21.0" fill="#000" xml:space="preserve">File: 20151026132438.seq</text>
</g>
</svg>
</body>
</html>
